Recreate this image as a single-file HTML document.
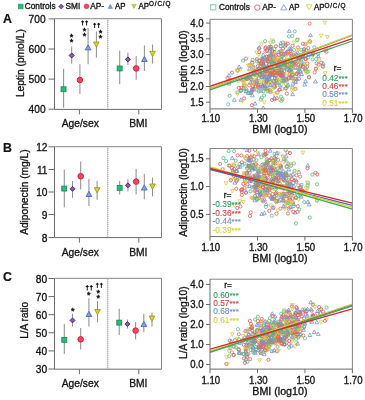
<!DOCTYPE html>
<html><head><meta charset="utf-8"><style>
html,body{margin:0;padding:0;background:#fff;width:365px;height:400px;overflow:hidden}
svg{display:block;filter:blur(0.5px)}
</style></head><body>
<svg width="365" height="400" viewBox="0 0 365 400" font-family='"Liberation Sans", sans-serif'>
<rect width="365" height="400" fill="#fff"/>
<rect x="18.3" y="4.1" width="4.8" height="4.8" fill="#30b878" stroke="#109058" stroke-width="0.5"/>
<text transform="translate(24.70,8.90) scale(1.0,1.08)" font-size="8.3" text-anchor="start" fill="#151515" stroke="#151515" stroke-width="0.32" font-weight="normal">Controls</text>
<path d="M61.2,4.0L63.7,6.5L61.2,9.0L58.7,6.5Z" fill="#8a58b0" stroke="#4a1a6c" stroke-width="0.6"/>
<text transform="translate(65.50,8.90) scale(1.0,1.08)" font-size="8.3" text-anchor="start" fill="#151515" stroke="#151515" stroke-width="0.32" font-weight="normal">SMI</text>
<circle cx="86.5" cy="6.4" r="2.4" fill="#f44562" stroke="#d41a3a" stroke-width="0.5"/>
<text transform="translate(90.20,8.90) scale(1.0,1.08)" font-size="8.3" text-anchor="start" fill="#151515" stroke="#151515" stroke-width="0.32" font-weight="normal">AP-</text>
<path d="M110.3,4.4L112.5,8.4L108.1,8.4Z" fill="#82a0e2" stroke="#4c6cc0" stroke-width="0.5"/>
<text transform="translate(115.00,8.90) scale(1.0,1.08)" font-size="7.9" text-anchor="start" fill="#151515" stroke="#151515" stroke-width="0.32" font-weight="normal">AP</text>
<path d="M133.9,8.4L136.1,4.4L131.7,4.4Z" fill="#d2cf48" stroke="#a09c1c" stroke-width="0.5"/>
<text transform="translate(138.50,8.60) scale(1.0,1.08)" font-size="7.9" text-anchor="start" fill="#151515" stroke="#151515" stroke-width="0.32" font-weight="normal">AP<tspan font-size="6.4" dy="-2.0" letter-spacing="0.8">O/C/Q</tspan></text>
<rect x="210.6" y="4.7" width="5.2" height="5.2" fill="none" stroke="#8fcfa8" stroke-width="1.1"/>
<text transform="translate(219.00,9.80) scale(1.0,1.08)" font-size="8.3" text-anchor="start" fill="#151515" stroke="#151515" stroke-width="0.32" font-weight="normal">Controls</text>
<circle cx="257.3" cy="7.6" r="2.6" fill="none" stroke="#de8c8c" stroke-width="1.1"/>
<text transform="translate(262.20,9.80) scale(1.0,1.08)" font-size="8.3" text-anchor="start" fill="#151515" stroke="#151515" stroke-width="0.32" font-weight="normal">AP-</text>
<path d="M283.8,4.6L286.8,9.9L280.8,9.9Z" fill="none" stroke="#92a6dc" stroke-width="1.0"/>
<text transform="translate(289.00,9.80) scale(1.0,1.08)" font-size="7.9" text-anchor="start" fill="#151515" stroke="#151515" stroke-width="0.32" font-weight="normal">AP</text>
<path d="M309.2,9.9L312.0,4.8L306.4,4.8Z" fill="none" stroke="#dcd868" stroke-width="1.0"/>
<text transform="translate(314.00,9.80) scale(1.0,1.08)" font-size="7.9" text-anchor="start" fill="#151515" stroke="#151515" stroke-width="0.32" font-weight="normal">AP<tspan font-size="6.4" dy="-2.1" letter-spacing="0.7">O/C/Q</tspan></text>
<text transform="translate(3.00,22.60) scale(1.0,1.0)" font-size="12.3" text-anchor="start" fill="#111" stroke="#111" stroke-width="0.2" font-weight="bold">A</text>
<path d="M54.5,18.7H161.5V109.4" fill="none" stroke="#858585" stroke-width="1"/>
<path d="M54.5,18.7V109.4H161.5" fill="none" stroke="#6a6a6a" stroke-width="1"/>
<line x1="107.8" y1="19.7" x2="107.8" y2="108.4" stroke="#707070" stroke-width="1" stroke-dasharray="1.1,0.9"/>
<line x1="48.5" y1="18.9" x2="54.5" y2="18.9" stroke="#6a6a6a" stroke-width="1"/>
<text transform="translate(45.60,22.50) scale(1.0,1.08)" font-size="10.2" text-anchor="end" fill="#151515" stroke="#151515" stroke-width="0.32" font-weight="normal">700</text>
<line x1="48.5" y1="49.0" x2="54.5" y2="49.0" stroke="#6a6a6a" stroke-width="1"/>
<text transform="translate(45.60,52.60) scale(1.0,1.08)" font-size="10.2" text-anchor="end" fill="#151515" stroke="#151515" stroke-width="0.32" font-weight="normal">600</text>
<line x1="48.5" y1="79.1" x2="54.5" y2="79.1" stroke="#6a6a6a" stroke-width="1"/>
<text transform="translate(45.60,82.70) scale(1.0,1.08)" font-size="10.2" text-anchor="end" fill="#151515" stroke="#151515" stroke-width="0.32" font-weight="normal">500</text>
<line x1="48.5" y1="109.2" x2="54.5" y2="109.2" stroke="#6a6a6a" stroke-width="1"/>
<text transform="translate(45.60,112.80) scale(1.0,1.08)" font-size="10.2" text-anchor="end" fill="#151515" stroke="#151515" stroke-width="0.32" font-weight="normal">400</text>
<line x1="79.4" y1="109.4" x2="79.4" y2="114.4" stroke="#6a6a6a" stroke-width="1"/>
<line x1="138.8" y1="109.4" x2="138.8" y2="114.4" stroke="#6a6a6a" stroke-width="1"/>
<text transform="translate(80.30,127.20) scale(1.0,1.08)" font-size="10.3" text-anchor="middle" fill="#151515" stroke="#151515" stroke-width="0.32" font-weight="normal">Age/sex</text>
<text transform="translate(138.30,127.20) scale(1.0,1.08)" font-size="10.3" text-anchor="middle" fill="#151515" stroke="#151515" stroke-width="0.32" font-weight="normal">BMI</text>
<text transform="translate(23.80,63.10) rotate(-90)" font-size="10.2" text-anchor="middle" fill="#151515" stroke="#151515" stroke-width="0.32">Leptin (pmol/L)</text>
<line x1="63.6" y1="68.8" x2="63.6" y2="107.8" stroke="#909090" stroke-width="1.05"/>
<line x1="71.7" y1="46.5" x2="71.7" y2="63.8" stroke="#909090" stroke-width="1.05"/>
<line x1="79.9" y1="64.3" x2="79.9" y2="94.0" stroke="#909090" stroke-width="1.05"/>
<line x1="88.1" y1="28.0" x2="88.1" y2="64.3" stroke="#909090" stroke-width="1.05"/>
<line x1="96.4" y1="31.4" x2="96.4" y2="57.6" stroke="#909090" stroke-width="1.05"/>
<line x1="119.7" y1="50.8" x2="119.7" y2="84.3" stroke="#909090" stroke-width="1.05"/>
<line x1="127.9" y1="52.8" x2="127.9" y2="65.1" stroke="#909090" stroke-width="1.05"/>
<line x1="136.2" y1="56.0" x2="136.2" y2="79.7" stroke="#909090" stroke-width="1.05"/>
<line x1="144.4" y1="45.4" x2="144.4" y2="70.9" stroke="#909090" stroke-width="1.05"/>
<line x1="152.6" y1="44.6" x2="152.6" y2="63.5" stroke="#909090" stroke-width="1.05"/>
<rect x="61.1" y="86.8" width="4.9" height="4.9" fill="#30b878" stroke="#109058" stroke-width="0.9"/>
<path d="M71.7,53.0L74.2,55.5L71.7,58.0L69.2,55.5Z" fill="#8a58b0" stroke="#4a1a6c" stroke-width="0.9"/>
<circle cx="79.9" cy="80.0" r="2.8" fill="#f44562" stroke="#d41a3a" stroke-width="0.9"/>
<path d="M88.1,44.8L90.9,49.9L85.2,49.9Z" fill="#82a0e2" stroke="#4c6cc0" stroke-width="0.9"/>
<path d="M96.4,47.1L99.2,42.0L93.6,42.0Z" fill="#d2cf48" stroke="#a09c1c" stroke-width="0.9"/>
<rect x="117.2" y="66.0" width="4.9" height="4.9" fill="#30b878" stroke="#109058" stroke-width="0.9"/>
<path d="M127.9,56.9L130.4,59.4L127.9,61.9L125.4,59.4Z" fill="#8a58b0" stroke="#4a1a6c" stroke-width="0.9"/>
<circle cx="136.2" cy="68.4" r="2.8" fill="#f44562" stroke="#d41a3a" stroke-width="0.9"/>
<path d="M144.4,56.4L147.2,61.5L141.6,61.5Z" fill="#82a0e2" stroke="#4c6cc0" stroke-width="0.9"/>
<path d="M152.6,56.5L155.4,51.3L149.8,51.3Z" fill="#d2cf48" stroke="#a09c1c" stroke-width="0.9"/>
<text transform="translate(71.60,40.10) scale(1.0,1.0)" font-size="9.0" text-anchor="middle" fill="#111" stroke="#111" stroke-width="0.45" font-weight="normal">*</text>
<text transform="translate(71.60,44.70) scale(1.0,1.0)" font-size="9.0" text-anchor="middle" fill="#111" stroke="#111" stroke-width="0.45" font-weight="normal">*</text>
<path d="M82.10,20.40h1v5.2h-1z M81.15,21.25h2.9v0.95h-2.9z" fill="#1a1a1a"/>
<circle cx="82.60" cy="21.60" r="0.85" fill="#1a1a1a"/>
<path d="M86.10,20.40h1v5.2h-1z M85.15,21.25h2.9v0.95h-2.9z" fill="#1a1a1a"/>
<circle cx="86.60" cy="21.60" r="0.85" fill="#1a1a1a"/>
<text transform="translate(84.40,34.40) scale(1.0,1.0)" font-size="9.0" text-anchor="middle" fill="#111" stroke="#111" stroke-width="0.45" font-weight="normal">*</text>
<text transform="translate(84.40,38.90) scale(1.0,1.0)" font-size="9.0" text-anchor="middle" fill="#111" stroke="#111" stroke-width="0.45" font-weight="normal">*</text>
<path d="M94.15,22.90h1v5.2h-1z M93.20,23.75h2.9v0.95h-2.9z" fill="#1a1a1a"/>
<circle cx="94.65" cy="24.10" r="0.85" fill="#1a1a1a"/>
<path d="M98.15,22.90h1v5.2h-1z M97.20,23.75h2.9v0.95h-2.9z" fill="#1a1a1a"/>
<circle cx="98.65" cy="24.10" r="0.85" fill="#1a1a1a"/>
<text transform="translate(100.40,36.20) scale(1.0,1.0)" font-size="9.0" text-anchor="middle" fill="#111" stroke="#111" stroke-width="0.45" font-weight="normal">*</text>
<text transform="translate(100.40,40.50) scale(1.0,1.0)" font-size="9.0" text-anchor="middle" fill="#111" stroke="#111" stroke-width="0.45" font-weight="normal">*</text>
<text transform="translate(3.00,151.50) scale(1.0,1.0)" font-size="12.3" text-anchor="start" fill="#111" stroke="#111" stroke-width="0.2" font-weight="bold">B</text>
<path d="M54.5,146.7H161.5V237.6" fill="none" stroke="#858585" stroke-width="1"/>
<path d="M54.5,146.7V237.6H161.5" fill="none" stroke="#6a6a6a" stroke-width="1"/>
<line x1="107.8" y1="147.7" x2="107.8" y2="236.6" stroke="#707070" stroke-width="1" stroke-dasharray="1.1,0.9"/>
<line x1="48.5" y1="146.8" x2="54.5" y2="146.8" stroke="#6a6a6a" stroke-width="1"/>
<text transform="translate(47.50,151.10) scale(1.0,1.08)" font-size="10.2" text-anchor="end" fill="#151515" stroke="#151515" stroke-width="0.32" font-weight="normal">12</text>
<line x1="48.5" y1="169.5" x2="54.5" y2="169.5" stroke="#6a6a6a" stroke-width="1"/>
<text transform="translate(47.50,173.80) scale(1.0,1.08)" font-size="10.2" text-anchor="end" fill="#151515" stroke="#151515" stroke-width="0.32" font-weight="normal">11</text>
<line x1="48.5" y1="192.0" x2="54.5" y2="192.0" stroke="#6a6a6a" stroke-width="1"/>
<text transform="translate(47.50,196.30) scale(1.0,1.08)" font-size="10.2" text-anchor="end" fill="#151515" stroke="#151515" stroke-width="0.32" font-weight="normal">10</text>
<line x1="48.5" y1="214.6" x2="54.5" y2="214.6" stroke="#6a6a6a" stroke-width="1"/>
<text transform="translate(47.50,218.90) scale(1.0,1.08)" font-size="10.2" text-anchor="end" fill="#151515" stroke="#151515" stroke-width="0.32" font-weight="normal">9</text>
<line x1="48.5" y1="237.5" x2="54.5" y2="237.5" stroke="#6a6a6a" stroke-width="1"/>
<text transform="translate(47.50,241.80) scale(1.0,1.08)" font-size="10.2" text-anchor="end" fill="#151515" stroke="#151515" stroke-width="0.32" font-weight="normal">8</text>
<line x1="79.4" y1="237.6" x2="79.4" y2="242.6" stroke="#6a6a6a" stroke-width="1"/>
<line x1="138.8" y1="237.6" x2="138.8" y2="242.6" stroke="#6a6a6a" stroke-width="1"/>
<text transform="translate(80.30,255.60) scale(1.0,1.08)" font-size="10.3" text-anchor="middle" fill="#151515" stroke="#151515" stroke-width="0.32" font-weight="normal">Age/sex</text>
<text transform="translate(138.30,255.60) scale(1.0,1.08)" font-size="10.3" text-anchor="middle" fill="#151515" stroke="#151515" stroke-width="0.32" font-weight="normal">BMI</text>
<text transform="translate(28.20,192.10) rotate(-90)" font-size="10.2" text-anchor="middle" fill="#151515" stroke="#151515" stroke-width="0.32">Adiponectin (mg/L)</text>
<line x1="64.3" y1="169.6" x2="64.3" y2="207.2" stroke="#909090" stroke-width="1.05"/>
<line x1="72.5" y1="181.0" x2="72.5" y2="197.8" stroke="#909090" stroke-width="1.05"/>
<line x1="80.7" y1="161.4" x2="80.7" y2="189.6" stroke="#909090" stroke-width="1.05"/>
<line x1="88.9" y1="179.1" x2="88.9" y2="206.0" stroke="#909090" stroke-width="1.05"/>
<line x1="97.1" y1="181.0" x2="97.1" y2="199.8" stroke="#909090" stroke-width="1.05"/>
<line x1="119.7" y1="180.9" x2="119.7" y2="194.4" stroke="#909090" stroke-width="1.05"/>
<line x1="127.9" y1="179.3" x2="127.9" y2="191.4" stroke="#909090" stroke-width="1.05"/>
<line x1="136.1" y1="168.9" x2="136.1" y2="194.4" stroke="#909090" stroke-width="1.05"/>
<line x1="144.3" y1="173.8" x2="144.3" y2="199.3" stroke="#909090" stroke-width="1.05"/>
<line x1="152.5" y1="177.6" x2="152.5" y2="196.4" stroke="#909090" stroke-width="1.05"/>
<rect x="61.8" y="186.1" width="4.9" height="4.9" fill="#30b878" stroke="#109058" stroke-width="0.9"/>
<path d="M72.5,186.3L75.0,188.8L72.5,191.3L70.0,188.8Z" fill="#8a58b0" stroke="#4a1a6c" stroke-width="0.9"/>
<circle cx="80.7" cy="176.2" r="2.8" fill="#f44562" stroke="#d41a3a" stroke-width="0.9"/>
<path d="M88.9,191.3L91.8,196.5L86.1,196.5Z" fill="#82a0e2" stroke="#4c6cc0" stroke-width="0.9"/>
<path d="M97.1,192.8L99.9,187.7L94.2,187.7Z" fill="#d2cf48" stroke="#a09c1c" stroke-width="0.9"/>
<rect x="117.2" y="185.4" width="4.9" height="4.9" fill="#30b878" stroke="#109058" stroke-width="0.9"/>
<path d="M127.9,182.8L130.4,185.3L127.9,187.8L125.4,185.3Z" fill="#8a58b0" stroke="#4a1a6c" stroke-width="0.9"/>
<circle cx="136.1" cy="181.6" r="2.8" fill="#f44562" stroke="#d41a3a" stroke-width="0.9"/>
<path d="M144.3,184.8L147.2,190.0L141.5,190.0Z" fill="#82a0e2" stroke="#4c6cc0" stroke-width="0.9"/>
<path d="M152.5,189.2L155.3,184.0L149.7,184.0Z" fill="#d2cf48" stroke="#a09c1c" stroke-width="0.9"/>
<text transform="translate(3.00,280.80) scale(1.0,1.0)" font-size="12.3" text-anchor="start" fill="#111" stroke="#111" stroke-width="0.2" font-weight="bold">C</text>
<path d="M54.5,278.3H161.5V369.2" fill="none" stroke="#858585" stroke-width="1"/>
<path d="M54.5,278.3V369.2H161.5" fill="none" stroke="#6a6a6a" stroke-width="1"/>
<line x1="107.8" y1="279.3" x2="107.8" y2="368.2" stroke="#707070" stroke-width="1" stroke-dasharray="1.1,0.9"/>
<line x1="48.5" y1="278.5" x2="54.5" y2="278.5" stroke="#6a6a6a" stroke-width="1"/>
<text transform="translate(47.10,282.60) scale(1.0,1.08)" font-size="10.2" text-anchor="end" fill="#151515" stroke="#151515" stroke-width="0.32" font-weight="normal">80</text>
<line x1="48.5" y1="296.6" x2="54.5" y2="296.6" stroke="#6a6a6a" stroke-width="1"/>
<text transform="translate(47.10,300.70) scale(1.0,1.08)" font-size="10.2" text-anchor="end" fill="#151515" stroke="#151515" stroke-width="0.32" font-weight="normal">70</text>
<line x1="48.5" y1="314.7" x2="54.5" y2="314.7" stroke="#6a6a6a" stroke-width="1"/>
<text transform="translate(47.10,318.80) scale(1.0,1.08)" font-size="10.2" text-anchor="end" fill="#151515" stroke="#151515" stroke-width="0.32" font-weight="normal">60</text>
<line x1="48.5" y1="332.8" x2="54.5" y2="332.8" stroke="#6a6a6a" stroke-width="1"/>
<text transform="translate(47.10,336.90) scale(1.0,1.08)" font-size="10.2" text-anchor="end" fill="#151515" stroke="#151515" stroke-width="0.32" font-weight="normal">50</text>
<line x1="48.5" y1="350.9" x2="54.5" y2="350.9" stroke="#6a6a6a" stroke-width="1"/>
<text transform="translate(47.10,355.00) scale(1.0,1.08)" font-size="10.2" text-anchor="end" fill="#151515" stroke="#151515" stroke-width="0.32" font-weight="normal">40</text>
<line x1="48.5" y1="369.0" x2="54.5" y2="369.0" stroke="#6a6a6a" stroke-width="1"/>
<text transform="translate(47.10,373.10) scale(1.0,1.08)" font-size="10.2" text-anchor="end" fill="#151515" stroke="#151515" stroke-width="0.32" font-weight="normal">30</text>
<line x1="79.4" y1="369.2" x2="79.4" y2="374.2" stroke="#6a6a6a" stroke-width="1"/>
<line x1="138.8" y1="369.2" x2="138.8" y2="374.2" stroke="#6a6a6a" stroke-width="1"/>
<text transform="translate(80.30,387.20) scale(1.0,1.08)" font-size="10.3" text-anchor="middle" fill="#151515" stroke="#151515" stroke-width="0.32" font-weight="normal">Age/sex</text>
<text transform="translate(138.30,387.20) scale(1.0,1.08)" font-size="10.3" text-anchor="middle" fill="#151515" stroke="#151515" stroke-width="0.32" font-weight="normal">BMI</text>
<text transform="translate(28.00,320.30) rotate(-90)" font-size="10.1" text-anchor="middle" fill="#151515" stroke="#151515" stroke-width="0.32">L/A ratio</text>
<line x1="64.3" y1="324.0" x2="64.3" y2="354.1" stroke="#909090" stroke-width="1.05"/>
<line x1="72.5" y1="313.6" x2="72.5" y2="326.4" stroke="#909090" stroke-width="1.05"/>
<line x1="80.7" y1="328.1" x2="80.7" y2="349.5" stroke="#909090" stroke-width="1.05"/>
<line x1="88.9" y1="298.3" x2="88.9" y2="326.4" stroke="#909090" stroke-width="1.05"/>
<line x1="97.5" y1="301.2" x2="97.5" y2="322.3" stroke="#909090" stroke-width="1.05"/>
<line x1="119.2" y1="308.8" x2="119.2" y2="335.1" stroke="#909090" stroke-width="1.05"/>
<line x1="127.4" y1="319.5" x2="127.4" y2="328.5" stroke="#909090" stroke-width="1.05"/>
<line x1="135.6" y1="321.9" x2="135.6" y2="339.5" stroke="#909090" stroke-width="1.05"/>
<line x1="143.8" y1="313.7" x2="143.8" y2="332.3" stroke="#909090" stroke-width="1.05"/>
<line x1="152.0" y1="312.6" x2="152.0" y2="326.4" stroke="#909090" stroke-width="1.05"/>
<rect x="61.8" y="337.4" width="4.9" height="4.9" fill="#30b878" stroke="#109058" stroke-width="0.9"/>
<path d="M72.5,317.9L75.0,320.4L72.5,322.9L70.0,320.4Z" fill="#8a58b0" stroke="#4a1a6c" stroke-width="0.9"/>
<circle cx="80.7" cy="339.3" r="2.8" fill="#f44562" stroke="#d41a3a" stroke-width="0.9"/>
<path d="M88.9,311.3L91.8,316.5L86.1,316.5Z" fill="#82a0e2" stroke="#4c6cc0" stroke-width="0.9"/>
<path d="M97.5,314.7L100.3,309.5L94.7,309.5Z" fill="#d2cf48" stroke="#a09c1c" stroke-width="0.9"/>
<rect x="116.8" y="320.2" width="4.9" height="4.9" fill="#30b878" stroke="#109058" stroke-width="0.9"/>
<path d="M127.4,321.6L129.9,324.1L127.4,326.6L124.9,324.1Z" fill="#8a58b0" stroke="#4a1a6c" stroke-width="0.9"/>
<circle cx="135.6" cy="330.6" r="2.8" fill="#f44562" stroke="#d41a3a" stroke-width="0.9"/>
<path d="M143.8,321.4L146.7,326.6L141.0,326.6Z" fill="#82a0e2" stroke="#4c6cc0" stroke-width="0.9"/>
<path d="M152.0,321.2L154.8,316.1L149.2,316.1Z" fill="#d2cf48" stroke="#a09c1c" stroke-width="0.9"/>
<text transform="translate(72.70,313.60) scale(1.0,1.0)" font-size="9.0" text-anchor="middle" fill="#111" stroke="#111" stroke-width="0.45" font-weight="normal">*</text>
<path d="M86.75,285.20h1v5.2h-1z M85.80,286.05h2.9v0.95h-2.9z" fill="#1a1a1a"/>
<circle cx="87.25" cy="286.40" r="0.85" fill="#1a1a1a"/>
<path d="M90.75,285.20h1v5.2h-1z M89.80,286.05h2.9v0.95h-2.9z" fill="#1a1a1a"/>
<circle cx="91.25" cy="286.40" r="0.85" fill="#1a1a1a"/>
<text transform="translate(88.70,298.40) scale(1.0,1.0)" font-size="9.0" text-anchor="middle" fill="#111" stroke="#111" stroke-width="0.45" font-weight="normal">*</text>
<path d="M96.85,282.80h1v5.2h-1z M95.90,283.65h2.9v0.95h-2.9z" fill="#1a1a1a"/>
<circle cx="97.35" cy="284.00" r="0.85" fill="#1a1a1a"/>
<path d="M100.85,282.80h1v5.2h-1z M99.90,283.65h2.9v0.95h-2.9z" fill="#1a1a1a"/>
<circle cx="101.35" cy="284.00" r="0.85" fill="#1a1a1a"/>
<text transform="translate(98.20,296.00) scale(1.0,1.0)" font-size="9.0" text-anchor="middle" fill="#111" stroke="#111" stroke-width="0.45" font-weight="normal">*</text>
<text transform="translate(98.20,300.60) scale(1.0,1.0)" font-size="9.0" text-anchor="middle" fill="#111" stroke="#111" stroke-width="0.45" font-weight="normal">*</text>
<clipPath id="clip19"><rect x="210.0" y="19.3" width="142.39999999999998" height="89.60000000000001"/></clipPath>
<g clip-path="url(#clip19)">
<circle cx="268.0" cy="67.6" r="1.6" fill="none" stroke="#e2605c" stroke-width="0.8"/>
<rect x="289.9" y="53.7" width="2.9" height="2.9" rx="0.9" fill="none" stroke="#5cb883" stroke-width="0.8"/>
<path d="M273.6,76.7L275.5,73.3L271.7,73.3Z" fill="none" stroke="#d9c94e" stroke-width="0.8"/>
<path d="M274.1,56.2L276.0,59.7L272.2,59.7Z" fill="none" stroke="#7890d4" stroke-width="0.8"/>
<path d="M271.6,72.7L273.5,69.3L269.7,69.3Z" fill="none" stroke="#d9c94e" stroke-width="0.8"/>
<path d="M269.9,75.7L271.8,72.3L268.0,72.3Z" fill="none" stroke="#d9c94e" stroke-width="0.8"/>
<circle cx="265.3" cy="48.3" r="1.6" fill="none" stroke="#e2605c" stroke-width="0.8"/>
<circle cx="258.2" cy="86.3" r="1.6" fill="none" stroke="#e2605c" stroke-width="0.8"/>
<rect x="290.9" y="74.2" width="2.9" height="2.9" rx="0.9" fill="none" stroke="#5cb883" stroke-width="0.8"/>
<rect x="285.1" y="79.0" width="2.9" height="2.9" rx="0.9" fill="none" stroke="#5cb883" stroke-width="0.8"/>
<path d="M289.4,72.3L291.3,75.7L287.5,75.7Z" fill="none" stroke="#7890d4" stroke-width="0.8"/>
<path d="M303.6,53.1L305.5,49.7L301.7,49.7Z" fill="none" stroke="#d9c94e" stroke-width="0.8"/>
<path d="M291.4,68.5L293.3,65.0L289.5,65.0Z" fill="none" stroke="#d9c94e" stroke-width="0.8"/>
<path d="M292.5,58.2L294.4,54.8L290.6,54.8Z" fill="none" stroke="#d9c94e" stroke-width="0.8"/>
<path d="M290.9,73.4L292.8,76.8L289.0,76.8Z" fill="none" stroke="#7890d4" stroke-width="0.8"/>
<circle cx="269.2" cy="77.0" r="1.6" fill="none" stroke="#e2605c" stroke-width="0.8"/>
<path d="M259.3,65.6L261.2,62.2L257.4,62.2Z" fill="none" stroke="#d9c94e" stroke-width="0.8"/>
<path d="M264.9,76.4L266.8,73.0L263.0,73.0Z" fill="none" stroke="#d9c94e" stroke-width="0.8"/>
<circle cx="296.7" cy="57.6" r="1.6" fill="none" stroke="#e2605c" stroke-width="0.8"/>
<circle cx="269.1" cy="76.2" r="1.6" fill="none" stroke="#e2605c" stroke-width="0.8"/>
<path d="M238.4,83.0L240.3,79.6L236.5,79.6Z" fill="none" stroke="#d9c94e" stroke-width="0.8"/>
<path d="M282.2,68.9L284.1,65.5L280.3,65.5Z" fill="none" stroke="#d9c94e" stroke-width="0.8"/>
<circle cx="264.7" cy="85.8" r="1.6" fill="none" stroke="#e2605c" stroke-width="0.8"/>
<rect x="260.0" y="75.7" width="2.9" height="2.9" rx="0.9" fill="none" stroke="#5cb883" stroke-width="0.8"/>
<circle cx="276.2" cy="82.8" r="1.6" fill="none" stroke="#e2605c" stroke-width="0.8"/>
<path d="M263.2,106.0L265.1,109.4L261.3,109.4Z" fill="none" stroke="#7890d4" stroke-width="0.8"/>
<rect x="268.0" y="77.5" width="2.9" height="2.9" rx="0.9" fill="none" stroke="#5cb883" stroke-width="0.8"/>
<path d="M297.7,50.5L299.6,53.9L295.8,53.9Z" fill="none" stroke="#7890d4" stroke-width="0.8"/>
<path d="M280.8,60.1L282.7,56.7L278.9,56.7Z" fill="none" stroke="#d9c94e" stroke-width="0.8"/>
<rect x="281.6" y="41.1" width="2.9" height="2.9" rx="0.9" fill="none" stroke="#5cb883" stroke-width="0.8"/>
<circle cx="265.9" cy="88.7" r="1.6" fill="none" stroke="#e2605c" stroke-width="0.8"/>
<circle cx="274.7" cy="99.2" r="1.6" fill="none" stroke="#e2605c" stroke-width="0.8"/>
<path d="M267.7,63.9L269.6,67.3L265.8,67.3Z" fill="none" stroke="#7890d4" stroke-width="0.8"/>
<circle cx="257.0" cy="59.2" r="1.6" fill="none" stroke="#e2605c" stroke-width="0.8"/>
<circle cx="275.8" cy="46.2" r="1.6" fill="none" stroke="#e2605c" stroke-width="0.8"/>
<rect x="290.8" y="34.5" width="2.9" height="2.9" rx="0.9" fill="none" stroke="#5cb883" stroke-width="0.8"/>
<rect x="316.7" y="52.5" width="2.9" height="2.9" rx="0.9" fill="none" stroke="#5cb883" stroke-width="0.8"/>
<rect x="307.6" y="76.2" width="2.9" height="2.9" rx="0.9" fill="none" stroke="#5cb883" stroke-width="0.8"/>
<circle cx="260.9" cy="68.9" r="1.6" fill="none" stroke="#e2605c" stroke-width="0.8"/>
<path d="M264.9,75.4L266.8,78.8L263.0,78.8Z" fill="none" stroke="#7890d4" stroke-width="0.8"/>
<circle cx="287.9" cy="51.8" r="1.6" fill="none" stroke="#e2605c" stroke-width="0.8"/>
<circle cx="262.6" cy="59.6" r="1.6" fill="none" stroke="#e2605c" stroke-width="0.8"/>
<rect x="292.6" y="48.6" width="2.9" height="2.9" rx="0.9" fill="none" stroke="#5cb883" stroke-width="0.8"/>
<circle cx="276.0" cy="71.5" r="1.6" fill="none" stroke="#e2605c" stroke-width="0.8"/>
<circle cx="273.2" cy="55.5" r="1.6" fill="none" stroke="#e2605c" stroke-width="0.8"/>
<circle cx="266.4" cy="69.4" r="1.6" fill="none" stroke="#e2605c" stroke-width="0.8"/>
<rect x="259.9" y="83.1" width="2.9" height="2.9" rx="0.9" fill="none" stroke="#5cb883" stroke-width="0.8"/>
<path d="M279.0,58.1L280.9,61.5L277.1,61.5Z" fill="none" stroke="#7890d4" stroke-width="0.8"/>
<path d="M276.5,76.2L278.4,79.6L274.6,79.6Z" fill="none" stroke="#7890d4" stroke-width="0.8"/>
<path d="M296.1,69.6L298.0,66.2L294.2,66.2Z" fill="none" stroke="#d9c94e" stroke-width="0.8"/>
<circle cx="305.7" cy="69.3" r="1.6" fill="none" stroke="#e2605c" stroke-width="0.8"/>
<path d="M262.7,58.3L264.6,61.7L260.8,61.7Z" fill="none" stroke="#7890d4" stroke-width="0.8"/>
<circle cx="232.0" cy="72.6" r="1.6" fill="none" stroke="#e2605c" stroke-width="0.8"/>
<rect x="273.5" y="76.3" width="2.9" height="2.9" rx="0.9" fill="none" stroke="#5cb883" stroke-width="0.8"/>
<path d="M234.3,97.9L236.2,101.3L232.4,101.3Z" fill="none" stroke="#7890d4" stroke-width="0.8"/>
<circle cx="253.2" cy="66.7" r="1.6" fill="none" stroke="#e2605c" stroke-width="0.8"/>
<rect x="255.5" y="74.4" width="2.9" height="2.9" rx="0.9" fill="none" stroke="#5cb883" stroke-width="0.8"/>
<path d="M273.1,65.9L275.0,62.5L271.2,62.5Z" fill="none" stroke="#d9c94e" stroke-width="0.8"/>
<path d="M269.4,75.3L271.3,71.9L267.5,71.9Z" fill="none" stroke="#d9c94e" stroke-width="0.8"/>
<circle cx="296.0" cy="54.2" r="1.6" fill="none" stroke="#e2605c" stroke-width="0.8"/>
<circle cx="321.3" cy="62.7" r="1.6" fill="none" stroke="#e2605c" stroke-width="0.8"/>
<rect x="291.0" y="86.1" width="2.9" height="2.9" rx="0.9" fill="none" stroke="#5cb883" stroke-width="0.8"/>
<path d="M274.0,69.4L275.9,72.8L272.1,72.8Z" fill="none" stroke="#7890d4" stroke-width="0.8"/>
<circle cx="291.7" cy="62.3" r="1.6" fill="none" stroke="#e2605c" stroke-width="0.8"/>
<circle cx="275.0" cy="86.9" r="1.6" fill="none" stroke="#e2605c" stroke-width="0.8"/>
<circle cx="273.7" cy="81.1" r="1.6" fill="none" stroke="#e2605c" stroke-width="0.8"/>
<rect x="304.4" y="69.0" width="2.9" height="2.9" rx="0.9" fill="none" stroke="#5cb883" stroke-width="0.8"/>
<circle cx="253.8" cy="89.1" r="1.6" fill="none" stroke="#e2605c" stroke-width="0.8"/>
<circle cx="283.0" cy="48.7" r="1.6" fill="none" stroke="#e2605c" stroke-width="0.8"/>
<circle cx="268.9" cy="59.2" r="1.6" fill="none" stroke="#e2605c" stroke-width="0.8"/>
<circle cx="266.1" cy="80.9" r="1.6" fill="none" stroke="#e2605c" stroke-width="0.8"/>
<rect x="302.6" y="48.2" width="2.9" height="2.9" rx="0.9" fill="none" stroke="#5cb883" stroke-width="0.8"/>
<rect x="287.5" y="34.9" width="2.9" height="2.9" rx="0.9" fill="none" stroke="#5cb883" stroke-width="0.8"/>
<circle cx="270.5" cy="75.5" r="1.6" fill="none" stroke="#e2605c" stroke-width="0.8"/>
<path d="M246.4,86.7L248.3,90.1L244.5,90.1Z" fill="none" stroke="#7890d4" stroke-width="0.8"/>
<circle cx="295.4" cy="88.9" r="1.6" fill="none" stroke="#e2605c" stroke-width="0.8"/>
<path d="M304.8,82.6L306.7,86.0L302.9,86.0Z" fill="none" stroke="#7890d4" stroke-width="0.8"/>
<rect x="288.0" y="65.2" width="2.9" height="2.9" rx="0.9" fill="none" stroke="#5cb883" stroke-width="0.8"/>
<circle cx="250.4" cy="75.0" r="1.6" fill="none" stroke="#e2605c" stroke-width="0.8"/>
<path d="M295.1,65.6L297.0,62.2L293.2,62.2Z" fill="none" stroke="#d9c94e" stroke-width="0.8"/>
<path d="M241.8,77.6L243.7,81.0L239.9,81.0Z" fill="none" stroke="#7890d4" stroke-width="0.8"/>
<path d="M263.5,79.6L265.4,83.0L261.6,83.0Z" fill="none" stroke="#7890d4" stroke-width="0.8"/>
<path d="M277.6,70.5L279.5,67.1L275.7,67.1Z" fill="none" stroke="#d9c94e" stroke-width="0.8"/>
<rect x="250.8" y="78.2" width="2.9" height="2.9" rx="0.9" fill="none" stroke="#5cb883" stroke-width="0.8"/>
<rect x="271.3" y="69.8" width="2.9" height="2.9" rx="0.9" fill="none" stroke="#5cb883" stroke-width="0.8"/>
<circle cx="277.3" cy="60.2" r="1.6" fill="none" stroke="#e2605c" stroke-width="0.8"/>
<path d="M283.2,77.7L285.1,74.3L281.3,74.3Z" fill="none" stroke="#d9c94e" stroke-width="0.8"/>
<rect x="302.2" y="61.9" width="2.9" height="2.9" rx="0.9" fill="none" stroke="#5cb883" stroke-width="0.8"/>
<rect x="282.3" y="78.8" width="2.9" height="2.9" rx="0.9" fill="none" stroke="#5cb883" stroke-width="0.8"/>
<path d="M291.4,76.0L293.3,79.4L289.5,79.4Z" fill="none" stroke="#7890d4" stroke-width="0.8"/>
<path d="M285.7,76.5L287.6,79.9L283.8,79.9Z" fill="none" stroke="#7890d4" stroke-width="0.8"/>
<path d="M294.8,62.5L296.7,65.9L292.9,65.9Z" fill="none" stroke="#7890d4" stroke-width="0.8"/>
<path d="M248.2,90.9L250.1,94.4L246.3,94.4Z" fill="none" stroke="#7890d4" stroke-width="0.8"/>
<circle cx="271.1" cy="55.6" r="1.6" fill="none" stroke="#e2605c" stroke-width="0.8"/>
<path d="M266.5,79.8L268.4,83.2L264.6,83.2Z" fill="none" stroke="#7890d4" stroke-width="0.8"/>
<path d="M281.2,57.0L283.1,60.4L279.3,60.4Z" fill="none" stroke="#7890d4" stroke-width="0.8"/>
<circle cx="304.1" cy="49.2" r="1.6" fill="none" stroke="#e2605c" stroke-width="0.8"/>
<path d="M278.0,62.9L279.9,66.4L276.1,66.4Z" fill="none" stroke="#7890d4" stroke-width="0.8"/>
<circle cx="292.3" cy="75.4" r="1.6" fill="none" stroke="#e2605c" stroke-width="0.8"/>
<circle cx="273.5" cy="70.0" r="1.6" fill="none" stroke="#e2605c" stroke-width="0.8"/>
<path d="M277.7,75.7L279.6,72.3L275.8,72.3Z" fill="none" stroke="#d9c94e" stroke-width="0.8"/>
<path d="M251.8,87.7L253.7,91.2L249.9,91.2Z" fill="none" stroke="#7890d4" stroke-width="0.8"/>
<path d="M293.0,71.9L294.9,75.3L291.1,75.3Z" fill="none" stroke="#7890d4" stroke-width="0.8"/>
<path d="M237.5,72.4L239.4,69.0L235.6,69.0Z" fill="none" stroke="#d9c94e" stroke-width="0.8"/>
<path d="M262.8,84.5L264.7,87.9L260.9,87.9Z" fill="none" stroke="#7890d4" stroke-width="0.8"/>
<circle cx="257.8" cy="66.2" r="1.6" fill="none" stroke="#e2605c" stroke-width="0.8"/>
<rect x="255.4" y="81.9" width="2.9" height="2.9" rx="0.9" fill="none" stroke="#5cb883" stroke-width="0.8"/>
<rect x="263.5" y="85.0" width="2.9" height="2.9" rx="0.9" fill="none" stroke="#5cb883" stroke-width="0.8"/>
<circle cx="254.4" cy="71.7" r="1.6" fill="none" stroke="#e2605c" stroke-width="0.8"/>
<circle cx="285.2" cy="61.6" r="1.6" fill="none" stroke="#e2605c" stroke-width="0.8"/>
<path d="M292.2,56.3L294.1,52.9L290.3,52.9Z" fill="none" stroke="#d9c94e" stroke-width="0.8"/>
<path d="M285.4,86.2L287.3,82.7L283.5,82.7Z" fill="none" stroke="#d9c94e" stroke-width="0.8"/>
<path d="M252.3,93.4L254.2,96.8L250.4,96.8Z" fill="none" stroke="#7890d4" stroke-width="0.8"/>
<path d="M293.0,65.9L294.9,69.3L291.1,69.3Z" fill="none" stroke="#7890d4" stroke-width="0.8"/>
<rect x="259.1" y="62.0" width="2.9" height="2.9" rx="0.9" fill="none" stroke="#5cb883" stroke-width="0.8"/>
<rect x="259.3" y="98.1" width="2.9" height="2.9" rx="0.9" fill="none" stroke="#5cb883" stroke-width="0.8"/>
<rect x="298.1" y="61.0" width="2.9" height="2.9" rx="0.9" fill="none" stroke="#5cb883" stroke-width="0.8"/>
<circle cx="265.8" cy="47.2" r="1.6" fill="none" stroke="#e2605c" stroke-width="0.8"/>
<rect x="295.0" y="72.7" width="2.9" height="2.9" rx="0.9" fill="none" stroke="#5cb883" stroke-width="0.8"/>
<rect x="279.7" y="68.6" width="2.9" height="2.9" rx="0.9" fill="none" stroke="#5cb883" stroke-width="0.8"/>
<circle cx="256.2" cy="80.6" r="1.6" fill="none" stroke="#e2605c" stroke-width="0.8"/>
<path d="M283.0,78.6L284.9,82.0L281.1,82.0Z" fill="none" stroke="#7890d4" stroke-width="0.8"/>
<path d="M286.0,69.8L287.9,66.4L284.1,66.4Z" fill="none" stroke="#d9c94e" stroke-width="0.8"/>
<circle cx="294.8" cy="62.2" r="1.6" fill="none" stroke="#e2605c" stroke-width="0.8"/>
<path d="M269.5,48.8L271.4,52.2L267.6,52.2Z" fill="none" stroke="#7890d4" stroke-width="0.8"/>
<circle cx="260.7" cy="63.0" r="1.6" fill="none" stroke="#e2605c" stroke-width="0.8"/>
<path d="M267.2,91.8L269.1,88.3L265.3,88.3Z" fill="none" stroke="#d9c94e" stroke-width="0.8"/>
<path d="M245.2,87.8L247.1,84.3L243.3,84.3Z" fill="none" stroke="#d9c94e" stroke-width="0.8"/>
<rect x="251.8" y="66.5" width="2.9" height="2.9" rx="0.9" fill="none" stroke="#5cb883" stroke-width="0.8"/>
<rect x="260.3" y="76.0" width="2.9" height="2.9" rx="0.9" fill="none" stroke="#5cb883" stroke-width="0.8"/>
<path d="M278.5,64.1L280.4,67.6L276.6,67.6Z" fill="none" stroke="#7890d4" stroke-width="0.8"/>
<path d="M270.5,72.2L272.4,75.6L268.6,75.6Z" fill="none" stroke="#7890d4" stroke-width="0.8"/>
<circle cx="295.6" cy="81.4" r="1.6" fill="none" stroke="#e2605c" stroke-width="0.8"/>
<path d="M263.2,52.9L265.1,56.3L261.3,56.3Z" fill="none" stroke="#7890d4" stroke-width="0.8"/>
<path d="M267.3,59.3L269.2,55.9L265.4,55.9Z" fill="none" stroke="#d9c94e" stroke-width="0.8"/>
<circle cx="258.9" cy="68.2" r="1.6" fill="none" stroke="#e2605c" stroke-width="0.8"/>
<path d="M289.5,46.5L291.4,49.9L287.6,49.9Z" fill="none" stroke="#7890d4" stroke-width="0.8"/>
<path d="M294.1,44.6L296.0,41.1L292.2,41.1Z" fill="none" stroke="#d9c94e" stroke-width="0.8"/>
<path d="M244.6,83.1L246.5,79.7L242.7,79.7Z" fill="none" stroke="#d9c94e" stroke-width="0.8"/>
<circle cx="251.2" cy="92.4" r="1.6" fill="none" stroke="#e2605c" stroke-width="0.8"/>
<circle cx="268.1" cy="70.2" r="1.6" fill="none" stroke="#e2605c" stroke-width="0.8"/>
<circle cx="269.1" cy="67.6" r="1.6" fill="none" stroke="#e2605c" stroke-width="0.8"/>
<circle cx="302.4" cy="56.9" r="1.6" fill="none" stroke="#e2605c" stroke-width="0.8"/>
<circle cx="278.7" cy="66.6" r="1.6" fill="none" stroke="#e2605c" stroke-width="0.8"/>
<rect x="275.6" y="80.3" width="2.9" height="2.9" rx="0.9" fill="none" stroke="#5cb883" stroke-width="0.8"/>
<rect x="267.7" y="54.9" width="2.9" height="2.9" rx="0.9" fill="none" stroke="#5cb883" stroke-width="0.8"/>
<rect x="226.7" y="102.9" width="2.9" height="2.9" rx="0.9" fill="none" stroke="#5cb883" stroke-width="0.8"/>
<circle cx="281.3" cy="69.8" r="1.6" fill="none" stroke="#e2605c" stroke-width="0.8"/>
<rect x="282.6" y="56.5" width="2.9" height="2.9" rx="0.9" fill="none" stroke="#5cb883" stroke-width="0.8"/>
<path d="M285.5,63.3L287.4,59.9L283.6,59.9Z" fill="none" stroke="#d9c94e" stroke-width="0.8"/>
<rect x="264.9" y="79.0" width="2.9" height="2.9" rx="0.9" fill="none" stroke="#5cb883" stroke-width="0.8"/>
<path d="M248.2,75.4L250.1,78.8L246.3,78.8Z" fill="none" stroke="#7890d4" stroke-width="0.8"/>
<circle cx="277.4" cy="70.6" r="1.6" fill="none" stroke="#e2605c" stroke-width="0.8"/>
<path d="M285.1,45.1L287.0,41.7L283.2,41.7Z" fill="none" stroke="#d9c94e" stroke-width="0.8"/>
<path d="M292.3,70.0L294.2,73.4L290.4,73.4Z" fill="none" stroke="#7890d4" stroke-width="0.8"/>
<circle cx="280.4" cy="51.2" r="1.6" fill="none" stroke="#e2605c" stroke-width="0.8"/>
<rect x="249.0" y="75.6" width="2.9" height="2.9" rx="0.9" fill="none" stroke="#5cb883" stroke-width="0.8"/>
<rect x="297.4" y="58.5" width="2.9" height="2.9" rx="0.9" fill="none" stroke="#5cb883" stroke-width="0.8"/>
<path d="M289.1,68.2L291.0,71.6L287.2,71.6Z" fill="none" stroke="#7890d4" stroke-width="0.8"/>
<path d="M284.9,63.2L286.8,66.6L283.0,66.6Z" fill="none" stroke="#7890d4" stroke-width="0.8"/>
<path d="M292.7,92.3L294.6,95.7L290.8,95.7Z" fill="none" stroke="#7890d4" stroke-width="0.8"/>
<circle cx="261.5" cy="75.1" r="1.6" fill="none" stroke="#e2605c" stroke-width="0.8"/>
<circle cx="295.1" cy="79.1" r="1.6" fill="none" stroke="#e2605c" stroke-width="0.8"/>
<path d="M303.1,62.5L305.0,65.9L301.2,65.9Z" fill="none" stroke="#7890d4" stroke-width="0.8"/>
<path d="M288.1,59.2L290.0,55.8L286.2,55.8Z" fill="none" stroke="#d9c94e" stroke-width="0.8"/>
<path d="M274.1,75.9L276.0,72.5L272.2,72.5Z" fill="none" stroke="#d9c94e" stroke-width="0.8"/>
<circle cx="274.4" cy="68.6" r="1.6" fill="none" stroke="#e2605c" stroke-width="0.8"/>
<circle cx="325.0" cy="50.5" r="1.6" fill="none" stroke="#e2605c" stroke-width="0.8"/>
<rect x="252.8" y="107.8" width="2.9" height="2.9" rx="0.9" fill="none" stroke="#5cb883" stroke-width="0.8"/>
<rect x="306.2" y="70.4" width="2.9" height="2.9" rx="0.9" fill="none" stroke="#5cb883" stroke-width="0.8"/>
<rect x="290.6" y="64.2" width="2.9" height="2.9" rx="0.9" fill="none" stroke="#5cb883" stroke-width="0.8"/>
<path d="M284.9,43.7L286.8,47.1L283.0,47.1Z" fill="none" stroke="#7890d4" stroke-width="0.8"/>
<circle cx="288.4" cy="78.8" r="1.6" fill="none" stroke="#e2605c" stroke-width="0.8"/>
<path d="M273.7,76.3L275.6,72.9L271.8,72.9Z" fill="none" stroke="#d9c94e" stroke-width="0.8"/>
<rect x="266.1" y="80.4" width="2.9" height="2.9" rx="0.9" fill="none" stroke="#5cb883" stroke-width="0.8"/>
<path d="M265.6,68.6L267.5,65.2L263.7,65.2Z" fill="none" stroke="#d9c94e" stroke-width="0.8"/>
<path d="M279.2,62.2L281.1,58.8L277.3,58.8Z" fill="none" stroke="#d9c94e" stroke-width="0.8"/>
<path d="M280.9,41.1L282.8,44.5L279.0,44.5Z" fill="none" stroke="#7890d4" stroke-width="0.8"/>
<path d="M277.3,81.1L279.2,84.6L275.4,84.6Z" fill="none" stroke="#7890d4" stroke-width="0.8"/>
<circle cx="307.3" cy="63.6" r="1.6" fill="none" stroke="#e2605c" stroke-width="0.8"/>
<path d="M240.5,71.2L242.4,67.8L238.6,67.8Z" fill="none" stroke="#d9c94e" stroke-width="0.8"/>
<path d="M282.6,69.8L284.5,73.2L280.7,73.2Z" fill="none" stroke="#7890d4" stroke-width="0.8"/>
<path d="M271.0,72.1L272.9,68.7L269.1,68.7Z" fill="none" stroke="#d9c94e" stroke-width="0.8"/>
<path d="M281.9,76.2L283.8,72.8L280.0,72.8Z" fill="none" stroke="#d9c94e" stroke-width="0.8"/>
<rect x="239.8" y="89.0" width="2.9" height="2.9" rx="0.9" fill="none" stroke="#5cb883" stroke-width="0.8"/>
<circle cx="305.2" cy="44.5" r="1.6" fill="none" stroke="#e2605c" stroke-width="0.8"/>
<rect x="275.4" y="69.6" width="2.9" height="2.9" rx="0.9" fill="none" stroke="#5cb883" stroke-width="0.8"/>
<circle cx="249.4" cy="65.3" r="1.6" fill="none" stroke="#e2605c" stroke-width="0.8"/>
<rect x="261.7" y="62.9" width="2.9" height="2.9" rx="0.9" fill="none" stroke="#5cb883" stroke-width="0.8"/>
<circle cx="255.0" cy="86.5" r="1.6" fill="none" stroke="#e2605c" stroke-width="0.8"/>
<rect x="327.0" y="46.3" width="2.9" height="2.9" rx="0.9" fill="none" stroke="#5cb883" stroke-width="0.8"/>
<circle cx="267.9" cy="61.6" r="1.6" fill="none" stroke="#e2605c" stroke-width="0.8"/>
<path d="M262.7,83.4L264.6,86.8L260.8,86.8Z" fill="none" stroke="#7890d4" stroke-width="0.8"/>
<circle cx="293.3" cy="66.5" r="1.6" fill="none" stroke="#e2605c" stroke-width="0.8"/>
<path d="M298.4,71.9L300.3,68.5L296.5,68.5Z" fill="none" stroke="#d9c94e" stroke-width="0.8"/>
<path d="M284.3,77.5L286.2,74.1L282.4,74.1Z" fill="none" stroke="#d9c94e" stroke-width="0.8"/>
<rect x="308.4" y="40.6" width="2.9" height="2.9" rx="0.9" fill="none" stroke="#5cb883" stroke-width="0.8"/>
<path d="M303.0,51.5L304.9,54.9L301.1,54.9Z" fill="none" stroke="#7890d4" stroke-width="0.8"/>
<path d="M293.6,91.6L295.5,88.2L291.7,88.2Z" fill="none" stroke="#d9c94e" stroke-width="0.8"/>
<circle cx="263.0" cy="63.8" r="1.6" fill="none" stroke="#e2605c" stroke-width="0.8"/>
<circle cx="314.7" cy="72.3" r="1.6" fill="none" stroke="#e2605c" stroke-width="0.8"/>
<rect x="279.3" y="44.7" width="2.9" height="2.9" rx="0.9" fill="none" stroke="#5cb883" stroke-width="0.8"/>
<circle cx="290.3" cy="50.4" r="1.6" fill="none" stroke="#e2605c" stroke-width="0.8"/>
<path d="M290.9,47.1L292.8,50.5L289.0,50.5Z" fill="none" stroke="#7890d4" stroke-width="0.8"/>
<rect x="246.1" y="77.5" width="2.9" height="2.9" rx="0.9" fill="none" stroke="#5cb883" stroke-width="0.8"/>
<circle cx="255.9" cy="74.8" r="1.6" fill="none" stroke="#e2605c" stroke-width="0.8"/>
<circle cx="250.9" cy="78.9" r="1.6" fill="none" stroke="#e2605c" stroke-width="0.8"/>
<path d="M306.1,46.0L308.0,42.6L304.2,42.6Z" fill="none" stroke="#d9c94e" stroke-width="0.8"/>
<path d="M274.1,95.8L276.0,92.4L272.2,92.4Z" fill="none" stroke="#d9c94e" stroke-width="0.8"/>
<path d="M292.7,55.5L294.6,58.9L290.8,58.9Z" fill="none" stroke="#7890d4" stroke-width="0.8"/>
<path d="M282.7,70.9L284.6,74.4L280.8,74.4Z" fill="none" stroke="#7890d4" stroke-width="0.8"/>
<rect x="269.7" y="45.5" width="2.9" height="2.9" rx="0.9" fill="none" stroke="#5cb883" stroke-width="0.8"/>
<rect x="262.7" y="94.0" width="2.9" height="2.9" rx="0.9" fill="none" stroke="#5cb883" stroke-width="0.8"/>
<path d="M256.9,77.5L258.8,74.0L255.0,74.0Z" fill="none" stroke="#d9c94e" stroke-width="0.8"/>
<path d="M291.0,71.9L292.9,68.5L289.1,68.5Z" fill="none" stroke="#d9c94e" stroke-width="0.8"/>
<path d="M267.5,86.0L269.4,89.4L265.6,89.4Z" fill="none" stroke="#7890d4" stroke-width="0.8"/>
<path d="M316.2,70.5L318.1,67.1L314.3,67.1Z" fill="none" stroke="#d9c94e" stroke-width="0.8"/>
<path d="M263.8,82.4L265.7,78.9L261.9,78.9Z" fill="none" stroke="#d9c94e" stroke-width="0.8"/>
<circle cx="307.2" cy="66.8" r="1.6" fill="none" stroke="#e2605c" stroke-width="0.8"/>
<rect x="277.9" y="72.5" width="2.9" height="2.9" rx="0.9" fill="none" stroke="#5cb883" stroke-width="0.8"/>
<circle cx="282.4" cy="99.2" r="1.6" fill="none" stroke="#e2605c" stroke-width="0.8"/>
<path d="M268.2,55.1L270.1,58.6L266.3,58.6Z" fill="none" stroke="#7890d4" stroke-width="0.8"/>
<circle cx="302.9" cy="43.8" r="1.6" fill="none" stroke="#e2605c" stroke-width="0.8"/>
<path d="M279.9,87.3L281.8,90.7L278.0,90.7Z" fill="none" stroke="#7890d4" stroke-width="0.8"/>
<rect x="251.2" y="58.4" width="2.9" height="2.9" rx="0.9" fill="none" stroke="#5cb883" stroke-width="0.8"/>
<path d="M272.6,72.8L274.5,76.2L270.7,76.2Z" fill="none" stroke="#7890d4" stroke-width="0.8"/>
<path d="M302.8,54.2L304.7,57.6L300.9,57.6Z" fill="none" stroke="#7890d4" stroke-width="0.8"/>
<path d="M315.4,79.5L317.3,83.0L313.5,83.0Z" fill="none" stroke="#7890d4" stroke-width="0.8"/>
<path d="M286.8,59.3L288.7,62.7L284.9,62.7Z" fill="none" stroke="#7890d4" stroke-width="0.8"/>
<rect x="286.3" y="64.8" width="2.9" height="2.9" rx="0.9" fill="none" stroke="#5cb883" stroke-width="0.8"/>
<circle cx="266.6" cy="85.8" r="1.6" fill="none" stroke="#e2605c" stroke-width="0.8"/>
<circle cx="275.5" cy="59.7" r="1.6" fill="none" stroke="#e2605c" stroke-width="0.8"/>
<circle cx="286.2" cy="79.3" r="1.6" fill="none" stroke="#e2605c" stroke-width="0.8"/>
<circle cx="246.1" cy="58.6" r="1.6" fill="none" stroke="#e2605c" stroke-width="0.8"/>
<circle cx="292.5" cy="45.8" r="1.6" fill="none" stroke="#e2605c" stroke-width="0.8"/>
<path d="M279.9,81.2L281.8,77.8L278.0,77.8Z" fill="none" stroke="#d9c94e" stroke-width="0.8"/>
<rect x="311.1" y="57.9" width="2.9" height="2.9" rx="0.9" fill="none" stroke="#5cb883" stroke-width="0.8"/>
<path d="M301.0,57.7L302.9,61.1L299.1,61.1Z" fill="none" stroke="#7890d4" stroke-width="0.8"/>
<path d="M283.5,51.9L285.4,55.3L281.6,55.3Z" fill="none" stroke="#7890d4" stroke-width="0.8"/>
<circle cx="309.7" cy="23.6" r="1.6" fill="none" stroke="#e2605c" stroke-width="0.8"/>
<circle cx="318.5" cy="64.5" r="1.6" fill="none" stroke="#e2605c" stroke-width="0.8"/>
<rect x="270.9" y="50.9" width="2.9" height="2.9" rx="0.9" fill="none" stroke="#5cb883" stroke-width="0.8"/>
<path d="M239.2,65.1L241.1,68.5L237.3,68.5Z" fill="none" stroke="#7890d4" stroke-width="0.8"/>
<rect x="288.5" y="61.1" width="2.9" height="2.9" rx="0.9" fill="none" stroke="#5cb883" stroke-width="0.8"/>
<path d="M240.8,97.8L242.7,101.2L238.9,101.2Z" fill="none" stroke="#7890d4" stroke-width="0.8"/>
<circle cx="272.2" cy="62.6" r="1.6" fill="none" stroke="#e2605c" stroke-width="0.8"/>
<path d="M264.4,75.2L266.3,71.7L262.5,71.7Z" fill="none" stroke="#d9c94e" stroke-width="0.8"/>
<circle cx="270.5" cy="46.8" r="1.6" fill="none" stroke="#e2605c" stroke-width="0.8"/>
<rect x="305.8" y="70.4" width="2.9" height="2.9" rx="0.9" fill="none" stroke="#5cb883" stroke-width="0.8"/>
<path d="M292.8,81.7L294.7,85.1L290.9,85.1Z" fill="none" stroke="#7890d4" stroke-width="0.8"/>
<circle cx="308.9" cy="76.8" r="1.6" fill="none" stroke="#e2605c" stroke-width="0.8"/>
<circle cx="289.5" cy="67.5" r="1.6" fill="none" stroke="#e2605c" stroke-width="0.8"/>
<path d="M298.7,72.6L300.6,76.0L296.8,76.0Z" fill="none" stroke="#7890d4" stroke-width="0.8"/>
<rect x="241.7" y="59.1" width="2.9" height="2.9" rx="0.9" fill="none" stroke="#5cb883" stroke-width="0.8"/>
<circle cx="284.1" cy="71.3" r="1.6" fill="none" stroke="#e2605c" stroke-width="0.8"/>
<path d="M290.0,67.7L291.9,71.2L288.1,71.2Z" fill="none" stroke="#7890d4" stroke-width="0.8"/>
<circle cx="243.9" cy="85.5" r="1.6" fill="none" stroke="#e2605c" stroke-width="0.8"/>
<path d="M250.4,80.4L252.3,83.8L248.5,83.8Z" fill="none" stroke="#7890d4" stroke-width="0.8"/>
<path d="M267.8,81.0L269.7,77.6L265.9,77.6Z" fill="none" stroke="#d9c94e" stroke-width="0.8"/>
<path d="M297.7,41.5L299.6,38.1L295.8,38.1Z" fill="none" stroke="#d9c94e" stroke-width="0.8"/>
<rect x="244.9" y="89.7" width="2.9" height="2.9" rx="0.9" fill="none" stroke="#5cb883" stroke-width="0.8"/>
<path d="M274.4,60.3L276.3,56.9L272.5,56.9Z" fill="none" stroke="#d9c94e" stroke-width="0.8"/>
<rect x="297.5" y="63.0" width="2.9" height="2.9" rx="0.9" fill="none" stroke="#5cb883" stroke-width="0.8"/>
<path d="M249.6,66.8L251.5,70.2L247.7,70.2Z" fill="none" stroke="#7890d4" stroke-width="0.8"/>
<path d="M271.6,80.5L273.5,83.9L269.7,83.9Z" fill="none" stroke="#7890d4" stroke-width="0.8"/>
<path d="M274.9,55.9L276.8,59.3L273.0,59.3Z" fill="none" stroke="#7890d4" stroke-width="0.8"/>
<circle cx="299.5" cy="71.4" r="1.6" fill="none" stroke="#e2605c" stroke-width="0.8"/>
<circle cx="302.1" cy="56.1" r="1.6" fill="none" stroke="#e2605c" stroke-width="0.8"/>
<rect x="268.1" y="55.2" width="2.9" height="2.9" rx="0.9" fill="none" stroke="#5cb883" stroke-width="0.8"/>
<rect x="283.0" y="66.4" width="2.9" height="2.9" rx="0.9" fill="none" stroke="#5cb883" stroke-width="0.8"/>
<rect x="287.9" y="64.9" width="2.9" height="2.9" rx="0.9" fill="none" stroke="#5cb883" stroke-width="0.8"/>
<path d="M269.7,76.7L271.6,80.1L267.8,80.1Z" fill="none" stroke="#7890d4" stroke-width="0.8"/>
<path d="M245.1,93.1L247.0,89.7L243.2,89.7Z" fill="none" stroke="#d9c94e" stroke-width="0.8"/>
<path d="M270.7,70.2L272.6,66.8L268.8,66.8Z" fill="none" stroke="#d9c94e" stroke-width="0.8"/>
<path d="M283.5,74.9L285.4,78.3L281.6,78.3Z" fill="none" stroke="#7890d4" stroke-width="0.8"/>
<circle cx="297.9" cy="57.5" r="1.6" fill="none" stroke="#e2605c" stroke-width="0.8"/>
<circle cx="277.4" cy="92.6" r="1.6" fill="none" stroke="#e2605c" stroke-width="0.8"/>
<circle cx="243.3" cy="79.6" r="1.6" fill="none" stroke="#e2605c" stroke-width="0.8"/>
<path d="M277.5,60.7L279.4,57.2L275.6,57.2Z" fill="none" stroke="#d9c94e" stroke-width="0.8"/>
<circle cx="281.3" cy="51.3" r="1.6" fill="none" stroke="#e2605c" stroke-width="0.8"/>
<rect x="268.8" y="80.4" width="2.9" height="2.9" rx="0.9" fill="none" stroke="#5cb883" stroke-width="0.8"/>
<circle cx="309.8" cy="41.2" r="1.6" fill="none" stroke="#e2605c" stroke-width="0.8"/>
<rect x="273.5" y="64.6" width="2.9" height="2.9" rx="0.9" fill="none" stroke="#5cb883" stroke-width="0.8"/>
<rect x="273.1" y="50.8" width="2.9" height="2.9" rx="0.9" fill="none" stroke="#5cb883" stroke-width="0.8"/>
<rect x="260.3" y="96.2" width="2.9" height="2.9" rx="0.9" fill="none" stroke="#5cb883" stroke-width="0.8"/>
<circle cx="286.8" cy="93.7" r="1.6" fill="none" stroke="#e2605c" stroke-width="0.8"/>
<path d="M291.8,91.7L293.7,88.2L289.9,88.2Z" fill="none" stroke="#d9c94e" stroke-width="0.8"/>
<rect x="266.1" y="89.9" width="2.9" height="2.9" rx="0.9" fill="none" stroke="#5cb883" stroke-width="0.8"/>
<circle cx="262.0" cy="76.9" r="1.6" fill="none" stroke="#e2605c" stroke-width="0.8"/>
<path d="M261.1,88.7L263.0,92.1L259.2,92.1Z" fill="none" stroke="#7890d4" stroke-width="0.8"/>
<rect x="250.3" y="61.3" width="2.9" height="2.9" rx="0.9" fill="none" stroke="#5cb883" stroke-width="0.8"/>
<path d="M262.6,65.3L264.5,61.9L260.7,61.9Z" fill="none" stroke="#d9c94e" stroke-width="0.8"/>
<circle cx="246.6" cy="78.9" r="1.6" fill="none" stroke="#e2605c" stroke-width="0.8"/>
<circle cx="249.2" cy="85.4" r="1.6" fill="none" stroke="#e2605c" stroke-width="0.8"/>
<rect x="261.3" y="64.2" width="2.9" height="2.9" rx="0.9" fill="none" stroke="#5cb883" stroke-width="0.8"/>
<circle cx="265.9" cy="76.5" r="1.6" fill="none" stroke="#e2605c" stroke-width="0.8"/>
<rect x="299.9" y="48.3" width="2.9" height="2.9" rx="0.9" fill="none" stroke="#5cb883" stroke-width="0.8"/>
<path d="M270.2,59.7L272.1,56.2L268.3,56.2Z" fill="none" stroke="#d9c94e" stroke-width="0.8"/>
<rect x="272.8" y="55.3" width="2.9" height="2.9" rx="0.9" fill="none" stroke="#5cb883" stroke-width="0.8"/>
<path d="M293.8,68.3L295.7,64.9L291.9,64.9Z" fill="none" stroke="#d9c94e" stroke-width="0.8"/>
<path d="M274.5,89.5L276.4,86.1L272.6,86.1Z" fill="none" stroke="#d9c94e" stroke-width="0.8"/>
<rect x="260.6" y="62.0" width="2.9" height="2.9" rx="0.9" fill="none" stroke="#5cb883" stroke-width="0.8"/>
<circle cx="270.5" cy="66.2" r="1.6" fill="none" stroke="#e2605c" stroke-width="0.8"/>
<path d="M274.0,54.0L275.9,50.6L272.1,50.6Z" fill="none" stroke="#d9c94e" stroke-width="0.8"/>
<path d="M286.3,65.4L288.2,68.8L284.4,68.8Z" fill="none" stroke="#7890d4" stroke-width="0.8"/>
<circle cx="267.0" cy="60.3" r="1.6" fill="none" stroke="#e2605c" stroke-width="0.8"/>
<path d="M263.6,77.0L265.5,73.6L261.7,73.6Z" fill="none" stroke="#d9c94e" stroke-width="0.8"/>
<path d="M306.2,67.7L308.1,64.2L304.3,64.2Z" fill="none" stroke="#d9c94e" stroke-width="0.8"/>
<path d="M293.4,82.7L295.3,79.2L291.5,79.2Z" fill="none" stroke="#d9c94e" stroke-width="0.8"/>
<path d="M323.2,61.5L325.1,64.9L321.3,64.9Z" fill="none" stroke="#7890d4" stroke-width="0.8"/>
<circle cx="290.3" cy="65.5" r="1.6" fill="none" stroke="#e2605c" stroke-width="0.8"/>
<rect x="273.0" y="47.6" width="2.9" height="2.9" rx="0.9" fill="none" stroke="#5cb883" stroke-width="0.8"/>
<path d="M277.2,59.4L279.1,56.0L275.3,56.0Z" fill="none" stroke="#d9c94e" stroke-width="0.8"/>
<path d="M279.0,85.7L280.9,82.3L277.1,82.3Z" fill="none" stroke="#d9c94e" stroke-width="0.8"/>
<path d="M273.8,63.4L275.7,60.0L271.9,60.0Z" fill="none" stroke="#d9c94e" stroke-width="0.8"/>
<path d="M321.2,37.5L323.1,34.1L319.3,34.1Z" fill="none" stroke="#d9c94e" stroke-width="0.8"/>
<rect x="321.8" y="65.4" width="2.9" height="2.9" rx="0.9" fill="none" stroke="#5cb883" stroke-width="0.8"/>
<path d="M297.5,65.9L299.4,69.3L295.6,69.3Z" fill="none" stroke="#7890d4" stroke-width="0.8"/>
<rect x="257.4" y="76.8" width="2.9" height="2.9" rx="0.9" fill="none" stroke="#5cb883" stroke-width="0.8"/>
<rect x="267.6" y="78.1" width="2.9" height="2.9" rx="0.9" fill="none" stroke="#5cb883" stroke-width="0.8"/>
<path d="M243.7,86.0L245.6,82.6L241.8,82.6Z" fill="none" stroke="#d9c94e" stroke-width="0.8"/>
<rect x="304.0" y="66.7" width="2.9" height="2.9" rx="0.9" fill="none" stroke="#5cb883" stroke-width="0.8"/>
<circle cx="279.9" cy="63.1" r="1.6" fill="none" stroke="#e2605c" stroke-width="0.8"/>
<rect x="300.6" y="68.3" width="2.9" height="2.9" rx="0.9" fill="none" stroke="#5cb883" stroke-width="0.8"/>
<path d="M289.3,29.0L291.2,32.4L287.4,32.4Z" fill="none" stroke="#7890d4" stroke-width="0.8"/>
<path d="M274.5,64.7L276.4,61.3L272.6,61.3Z" fill="none" stroke="#d9c94e" stroke-width="0.8"/>
<rect x="279.5" y="69.4" width="2.9" height="2.9" rx="0.9" fill="none" stroke="#5cb883" stroke-width="0.8"/>
<rect x="279.6" y="63.4" width="2.9" height="2.9" rx="0.9" fill="none" stroke="#5cb883" stroke-width="0.8"/>
<circle cx="252.5" cy="62.7" r="1.6" fill="none" stroke="#e2605c" stroke-width="0.8"/>
<circle cx="270.4" cy="92.0" r="1.6" fill="none" stroke="#e2605c" stroke-width="0.8"/>
<circle cx="272.2" cy="71.1" r="1.6" fill="none" stroke="#e2605c" stroke-width="0.8"/>
<circle cx="269.1" cy="64.3" r="1.6" fill="none" stroke="#e2605c" stroke-width="0.8"/>
<path d="M258.9,56.6L260.8,53.2L257.0,53.2Z" fill="none" stroke="#d9c94e" stroke-width="0.8"/>
<path d="M262.4,74.2L264.3,70.8L260.5,70.8Z" fill="none" stroke="#d9c94e" stroke-width="0.8"/>
<path d="M277.6,82.0L279.5,78.6L275.7,78.6Z" fill="none" stroke="#d9c94e" stroke-width="0.8"/>
<circle cx="278.9" cy="72.6" r="1.6" fill="none" stroke="#e2605c" stroke-width="0.8"/>
<circle cx="257.6" cy="72.8" r="1.6" fill="none" stroke="#e2605c" stroke-width="0.8"/>
<circle cx="227.5" cy="78.0" r="1.6" fill="none" stroke="#e2605c" stroke-width="0.8"/>
<path d="M270.1,46.8L272.0,50.3L268.2,50.3Z" fill="none" stroke="#7890d4" stroke-width="0.8"/>
<path d="M305.9,74.9L307.8,71.5L304.0,71.5Z" fill="none" stroke="#d9c94e" stroke-width="0.8"/>
<rect x="272.0" y="40.1" width="2.9" height="2.9" rx="0.9" fill="none" stroke="#5cb883" stroke-width="0.8"/>
<path d="M282.4,63.0L284.3,66.4L280.5,66.4Z" fill="none" stroke="#7890d4" stroke-width="0.8"/>
<rect x="279.2" y="44.8" width="2.9" height="2.9" rx="0.9" fill="none" stroke="#5cb883" stroke-width="0.8"/>
<circle cx="240.6" cy="90.8" r="1.6" fill="none" stroke="#e2605c" stroke-width="0.8"/>
<rect x="261.8" y="89.8" width="2.9" height="2.9" rx="0.9" fill="none" stroke="#5cb883" stroke-width="0.8"/>
<circle cx="285.8" cy="44.7" r="1.6" fill="none" stroke="#e2605c" stroke-width="0.8"/>
<rect x="259.9" y="57.6" width="2.9" height="2.9" rx="0.9" fill="none" stroke="#5cb883" stroke-width="0.8"/>
<rect x="286.1" y="84.7" width="2.9" height="2.9" rx="0.9" fill="none" stroke="#5cb883" stroke-width="0.8"/>
<path d="M308.6,52.1L310.5,55.5L306.7,55.5Z" fill="none" stroke="#7890d4" stroke-width="0.8"/>
<rect x="273.0" y="80.6" width="2.9" height="2.9" rx="0.9" fill="none" stroke="#5cb883" stroke-width="0.8"/>
<circle cx="241.5" cy="87.8" r="1.6" fill="none" stroke="#e2605c" stroke-width="0.8"/>
<path d="M294.7,76.6L296.6,73.2L292.8,73.2Z" fill="none" stroke="#d9c94e" stroke-width="0.8"/>
<path d="M264.3,104.3L266.2,100.9L262.4,100.9Z" fill="none" stroke="#d9c94e" stroke-width="0.8"/>
<path d="M272.2,42.3L274.1,38.9L270.3,38.9Z" fill="none" stroke="#d9c94e" stroke-width="0.8"/>
<path d="M310.5,33.2L312.4,36.6L308.6,36.6Z" fill="none" stroke="#7890d4" stroke-width="0.8"/>
<circle cx="284.4" cy="62.1" r="1.6" fill="none" stroke="#e2605c" stroke-width="0.8"/>
<path d="M268.6,88.4L270.5,85.0L266.7,85.0Z" fill="none" stroke="#d9c94e" stroke-width="0.8"/>
<circle cx="315.9" cy="68.8" r="1.6" fill="none" stroke="#e2605c" stroke-width="0.8"/>
<path d="M262.4,56.5L264.3,60.0L260.5,60.0Z" fill="none" stroke="#7890d4" stroke-width="0.8"/>
<rect x="295.4" y="54.0" width="2.9" height="2.9" rx="0.9" fill="none" stroke="#5cb883" stroke-width="0.8"/>
<circle cx="265.6" cy="71.4" r="1.6" fill="none" stroke="#e2605c" stroke-width="0.8"/>
<circle cx="276.9" cy="64.7" r="1.6" fill="none" stroke="#e2605c" stroke-width="0.8"/>
<rect x="251.1" y="80.9" width="2.9" height="2.9" rx="0.9" fill="none" stroke="#5cb883" stroke-width="0.8"/>
<path d="M312.1,52.6L314.0,56.0L310.2,56.0Z" fill="none" stroke="#7890d4" stroke-width="0.8"/>
<path d="M274.6,76.2L276.5,79.6L272.7,79.6Z" fill="none" stroke="#7890d4" stroke-width="0.8"/>
<rect x="295.8" y="38.5" width="2.9" height="2.9" rx="0.9" fill="none" stroke="#5cb883" stroke-width="0.8"/>
<circle cx="269.9" cy="90.4" r="1.6" fill="none" stroke="#e2605c" stroke-width="0.8"/>
<path d="M318.4,54.1L320.3,57.6L316.5,57.6Z" fill="none" stroke="#7890d4" stroke-width="0.8"/>
<rect x="280.2" y="79.5" width="2.9" height="2.9" rx="0.9" fill="none" stroke="#5cb883" stroke-width="0.8"/>
<rect x="247.8" y="91.7" width="2.9" height="2.9" rx="0.9" fill="none" stroke="#5cb883" stroke-width="0.8"/>
<rect x="261.2" y="73.6" width="2.9" height="2.9" rx="0.9" fill="none" stroke="#5cb883" stroke-width="0.8"/>
<path d="M261.3,46.4L263.2,43.0L259.4,43.0Z" fill="none" stroke="#d9c94e" stroke-width="0.8"/>
<rect x="279.7" y="95.4" width="2.9" height="2.9" rx="0.9" fill="none" stroke="#5cb883" stroke-width="0.8"/>
<rect x="277.5" y="68.9" width="2.9" height="2.9" rx="0.9" fill="none" stroke="#5cb883" stroke-width="0.8"/>
<circle cx="265.4" cy="51.4" r="1.6" fill="none" stroke="#e2605c" stroke-width="0.8"/>
<circle cx="237.6" cy="70.7" r="1.6" fill="none" stroke="#e2605c" stroke-width="0.8"/>
<path d="M268.3,72.8L270.2,76.2L266.4,76.2Z" fill="none" stroke="#7890d4" stroke-width="0.8"/>
<circle cx="265.3" cy="60.9" r="1.6" fill="none" stroke="#e2605c" stroke-width="0.8"/>
<path d="M244.9,90.2L246.8,86.7L243.0,86.7Z" fill="none" stroke="#d9c94e" stroke-width="0.8"/>
<circle cx="276.8" cy="98.2" r="1.6" fill="none" stroke="#e2605c" stroke-width="0.8"/>
<circle cx="270.9" cy="72.7" r="1.6" fill="none" stroke="#e2605c" stroke-width="0.8"/>
<rect x="277.2" y="62.5" width="2.9" height="2.9" rx="0.9" fill="none" stroke="#5cb883" stroke-width="0.8"/>
<path d="M282.0,53.4L283.9,50.0L280.1,50.0Z" fill="none" stroke="#d9c94e" stroke-width="0.8"/>
<circle cx="274.8" cy="75.1" r="1.6" fill="none" stroke="#e2605c" stroke-width="0.8"/>
<circle cx="272.9" cy="60.5" r="1.6" fill="none" stroke="#e2605c" stroke-width="0.8"/>
<circle cx="275.6" cy="55.8" r="1.6" fill="none" stroke="#e2605c" stroke-width="0.8"/>
<circle cx="312.9" cy="54.2" r="1.6" fill="none" stroke="#e2605c" stroke-width="0.8"/>
<path d="M287.5,76.6L289.4,73.1L285.6,73.1Z" fill="none" stroke="#d9c94e" stroke-width="0.8"/>
<circle cx="292.1" cy="74.6" r="1.6" fill="none" stroke="#e2605c" stroke-width="0.8"/>
<path d="M253.9,87.3L255.8,90.8L252.0,90.8Z" fill="none" stroke="#7890d4" stroke-width="0.8"/>
<circle cx="258.9" cy="48.3" r="1.6" fill="none" stroke="#e2605c" stroke-width="0.8"/>
<circle cx="281.5" cy="74.3" r="1.6" fill="none" stroke="#e2605c" stroke-width="0.8"/>
<circle cx="252.1" cy="89.1" r="1.6" fill="none" stroke="#e2605c" stroke-width="0.8"/>
<circle cx="244.1" cy="98.3" r="1.6" fill="none" stroke="#e2605c" stroke-width="0.8"/>
<circle cx="259.2" cy="52.1" r="1.6" fill="none" stroke="#e2605c" stroke-width="0.8"/>
<rect x="265.4" y="80.2" width="2.9" height="2.9" rx="0.9" fill="none" stroke="#5cb883" stroke-width="0.8"/>
<path d="M242.5,103.0L244.4,99.5L240.6,99.5Z" fill="none" stroke="#d9c94e" stroke-width="0.8"/>
<rect x="289.5" y="65.3" width="2.9" height="2.9" rx="0.9" fill="none" stroke="#5cb883" stroke-width="0.8"/>
<path d="M267.6,64.8L269.5,68.3L265.7,68.3Z" fill="none" stroke="#7890d4" stroke-width="0.8"/>
<path d="M271.8,62.3L273.7,58.8L269.9,58.8Z" fill="none" stroke="#d9c94e" stroke-width="0.8"/>
<path d="M246.1,89.4L248.0,92.8L244.2,92.8Z" fill="none" stroke="#7890d4" stroke-width="0.8"/>
<circle cx="326.4" cy="51.8" r="1.6" fill="none" stroke="#e2605c" stroke-width="0.8"/>
<rect x="247.2" y="74.8" width="2.9" height="2.9" rx="0.9" fill="none" stroke="#5cb883" stroke-width="0.8"/>
<path d="M251.0,67.5L252.9,64.1L249.1,64.1Z" fill="none" stroke="#d9c94e" stroke-width="0.8"/>
<circle cx="271.7" cy="68.3" r="1.6" fill="none" stroke="#e2605c" stroke-width="0.8"/>
<path d="M257.2,83.4L259.1,79.9L255.3,79.9Z" fill="none" stroke="#d9c94e" stroke-width="0.8"/>
<path d="M255.0,101.6L256.9,105.0L253.1,105.0Z" fill="none" stroke="#7890d4" stroke-width="0.8"/>
<path d="M251.4,88.7L253.3,92.1L249.5,92.1Z" fill="none" stroke="#7890d4" stroke-width="0.8"/>
<circle cx="285.4" cy="63.0" r="1.6" fill="none" stroke="#e2605c" stroke-width="0.8"/>
<rect x="240.0" y="88.9" width="2.9" height="2.9" rx="0.9" fill="none" stroke="#5cb883" stroke-width="0.8"/>
<circle cx="301.2" cy="65.7" r="1.6" fill="none" stroke="#e2605c" stroke-width="0.8"/>
<rect x="272.7" y="60.3" width="2.9" height="2.9" rx="0.9" fill="none" stroke="#5cb883" stroke-width="0.8"/>
<path d="M280.9,55.0L282.8,51.6L279.0,51.6Z" fill="none" stroke="#d9c94e" stroke-width="0.8"/>
<path d="M237.3,72.6L239.2,69.2L235.4,69.2Z" fill="none" stroke="#d9c94e" stroke-width="0.8"/>
<path d="M279.5,101.7L281.4,98.2L277.6,98.2Z" fill="none" stroke="#d9c94e" stroke-width="0.8"/>
<circle cx="301.1" cy="55.5" r="1.6" fill="none" stroke="#e2605c" stroke-width="0.8"/>
<circle cx="298.0" cy="47.5" r="1.6" fill="none" stroke="#e2605c" stroke-width="0.8"/>
<rect x="274.6" y="79.2" width="2.9" height="2.9" rx="0.9" fill="none" stroke="#5cb883" stroke-width="0.8"/>
<path d="M270.4,44.7L272.3,41.3L268.5,41.3Z" fill="none" stroke="#d9c94e" stroke-width="0.8"/>
<rect x="296.6" y="70.9" width="2.9" height="2.9" rx="0.9" fill="none" stroke="#5cb883" stroke-width="0.8"/>
<rect x="255.6" y="60.0" width="2.9" height="2.9" rx="0.9" fill="none" stroke="#5cb883" stroke-width="0.8"/>
<circle cx="308.3" cy="48.0" r="1.6" fill="none" stroke="#e2605c" stroke-width="0.8"/>
<path d="M263.7,68.9L265.6,65.5L261.8,65.5Z" fill="none" stroke="#d9c94e" stroke-width="0.8"/>
<circle cx="285.1" cy="53.7" r="1.6" fill="none" stroke="#e2605c" stroke-width="0.8"/>
<circle cx="262.4" cy="86.5" r="1.6" fill="none" stroke="#e2605c" stroke-width="0.8"/>
<path d="M270.0,85.9L271.9,82.4L268.1,82.4Z" fill="none" stroke="#d9c94e" stroke-width="0.8"/>
<circle cx="266.8" cy="50.8" r="1.6" fill="none" stroke="#e2605c" stroke-width="0.8"/>
<circle cx="293.7" cy="63.3" r="1.6" fill="none" stroke="#e2605c" stroke-width="0.8"/>
<rect x="273.1" y="85.3" width="2.9" height="2.9" rx="0.9" fill="none" stroke="#5cb883" stroke-width="0.8"/>
<path d="M282.8,90.8L284.7,87.4L280.9,87.4Z" fill="none" stroke="#d9c94e" stroke-width="0.8"/>
<circle cx="276.5" cy="75.2" r="1.6" fill="none" stroke="#e2605c" stroke-width="0.8"/>
<path d="M286.8,56.9L288.7,53.5L284.9,53.5Z" fill="none" stroke="#d9c94e" stroke-width="0.8"/>
<path d="M250.0,73.4L251.9,70.0L248.1,70.0Z" fill="none" stroke="#d9c94e" stroke-width="0.8"/>
<path d="M262.4,68.1L264.3,71.5L260.5,71.5Z" fill="none" stroke="#7890d4" stroke-width="0.8"/>
<path d="M252.3,70.8L254.2,74.2L250.4,74.2Z" fill="none" stroke="#7890d4" stroke-width="0.8"/>
<rect x="268.7" y="69.0" width="2.9" height="2.9" rx="0.9" fill="none" stroke="#5cb883" stroke-width="0.8"/>
<path d="M272.4,59.1L274.3,62.5L270.5,62.5Z" fill="none" stroke="#7890d4" stroke-width="0.8"/>
<path d="M276.8,95.1L278.7,91.7L274.9,91.7Z" fill="none" stroke="#d9c94e" stroke-width="0.8"/>
<path d="M288.8,64.4L290.7,61.0L286.9,61.0Z" fill="none" stroke="#d9c94e" stroke-width="0.8"/>
<path d="M275.1,60.6L277.0,57.2L273.2,57.2Z" fill="none" stroke="#d9c94e" stroke-width="0.8"/>
<path d="M288.2,82.9L290.1,86.4L286.3,86.4Z" fill="none" stroke="#7890d4" stroke-width="0.8"/>
<rect x="270.2" y="61.2" width="2.9" height="2.9" rx="0.9" fill="none" stroke="#5cb883" stroke-width="0.8"/>
<circle cx="266.9" cy="80.7" r="1.6" fill="none" stroke="#e2605c" stroke-width="0.8"/>
<path d="M309.7,44.0L311.6,40.6L307.8,40.6Z" fill="none" stroke="#d9c94e" stroke-width="0.8"/>
<rect x="280.5" y="55.5" width="2.9" height="2.9" rx="0.9" fill="none" stroke="#5cb883" stroke-width="0.8"/>
<path d="M263.7,75.0L265.6,78.4L261.8,78.4Z" fill="none" stroke="#7890d4" stroke-width="0.8"/>
<circle cx="279.9" cy="72.8" r="1.6" fill="none" stroke="#e2605c" stroke-width="0.8"/>
<circle cx="274.1" cy="85.8" r="1.6" fill="none" stroke="#e2605c" stroke-width="0.8"/>
<path d="M255.5,79.3L257.4,75.9L253.6,75.9Z" fill="none" stroke="#d9c94e" stroke-width="0.8"/>
<rect x="283.0" y="80.0" width="2.9" height="2.9" rx="0.9" fill="none" stroke="#5cb883" stroke-width="0.8"/>
<path d="M271.7,70.6L273.6,67.2L269.8,67.2Z" fill="none" stroke="#d9c94e" stroke-width="0.8"/>
<path d="M325.2,75.1L327.1,71.7L323.3,71.7Z" fill="none" stroke="#d9c94e" stroke-width="0.8"/>
<path d="M256.7,54.5L258.6,51.1L254.8,51.1Z" fill="none" stroke="#d9c94e" stroke-width="0.8"/>
<circle cx="291.2" cy="53.7" r="1.6" fill="none" stroke="#e2605c" stroke-width="0.8"/>
<circle cx="270.1" cy="57.9" r="1.6" fill="none" stroke="#e2605c" stroke-width="0.8"/>
<path d="M256.5,92.0L258.4,88.6L254.6,88.6Z" fill="none" stroke="#d9c94e" stroke-width="0.8"/>
<path d="M279.2,81.4L281.1,78.0L277.3,78.0Z" fill="none" stroke="#d9c94e" stroke-width="0.8"/>
<circle cx="278.9" cy="54.7" r="1.6" fill="none" stroke="#e2605c" stroke-width="0.8"/>
<rect x="279.1" y="74.1" width="2.9" height="2.9" rx="0.9" fill="none" stroke="#5cb883" stroke-width="0.8"/>
<circle cx="279.2" cy="89.8" r="1.6" fill="none" stroke="#e2605c" stroke-width="0.8"/>
<rect x="297.9" y="67.7" width="2.9" height="2.9" rx="0.9" fill="none" stroke="#5cb883" stroke-width="0.8"/>
<rect x="263.7" y="39.7" width="2.9" height="2.9" rx="0.9" fill="none" stroke="#5cb883" stroke-width="0.8"/>
<circle cx="258.4" cy="87.4" r="1.6" fill="none" stroke="#e2605c" stroke-width="0.8"/>
<path d="M271.1,52.5L273.0,55.9L269.2,55.9Z" fill="none" stroke="#7890d4" stroke-width="0.8"/>
<circle cx="281.3" cy="67.2" r="1.6" fill="none" stroke="#e2605c" stroke-width="0.8"/>
<circle cx="298.0" cy="56.8" r="1.6" fill="none" stroke="#e2605c" stroke-width="0.8"/>
<circle cx="255.7" cy="71.2" r="1.6" fill="none" stroke="#e2605c" stroke-width="0.8"/>
<circle cx="291.5" cy="56.3" r="1.6" fill="none" stroke="#e2605c" stroke-width="0.8"/>
<circle cx="263.1" cy="59.0" r="1.6" fill="none" stroke="#e2605c" stroke-width="0.8"/>
<rect x="284.9" y="86.4" width="2.9" height="2.9" rx="0.9" fill="none" stroke="#5cb883" stroke-width="0.8"/>
<path d="M308.5,73.4L310.4,70.0L306.6,70.0Z" fill="none" stroke="#d9c94e" stroke-width="0.8"/>
<circle cx="254.9" cy="82.5" r="1.6" fill="none" stroke="#e2605c" stroke-width="0.8"/>
<rect x="306.7" y="55.9" width="2.9" height="2.9" rx="0.9" fill="none" stroke="#5cb883" stroke-width="0.8"/>
<path d="M243.2,83.8L245.1,80.4L241.3,80.4Z" fill="none" stroke="#d9c94e" stroke-width="0.8"/>
<path d="M254.3,71.5L256.2,68.1L252.4,68.1Z" fill="none" stroke="#d9c94e" stroke-width="0.8"/>
<rect x="257.9" y="72.0" width="2.9" height="2.9" rx="0.9" fill="none" stroke="#5cb883" stroke-width="0.8"/>
<rect x="263.2" y="73.0" width="2.9" height="2.9" rx="0.9" fill="none" stroke="#5cb883" stroke-width="0.8"/>
<circle cx="280.9" cy="53.5" r="1.6" fill="none" stroke="#e2605c" stroke-width="0.8"/>
<path d="M259.4,45.5L261.3,48.9L257.5,48.9Z" fill="none" stroke="#7890d4" stroke-width="0.8"/>
<rect x="280.1" y="67.6" width="2.9" height="2.9" rx="0.9" fill="none" stroke="#5cb883" stroke-width="0.8"/>
<circle cx="298.9" cy="78.8" r="1.6" fill="none" stroke="#e2605c" stroke-width="0.8"/>
<path d="M295.5,54.1L297.4,57.5L293.6,57.5Z" fill="none" stroke="#7890d4" stroke-width="0.8"/>
<path d="M278.5,50.0L280.4,53.5L276.6,53.5Z" fill="none" stroke="#7890d4" stroke-width="0.8"/>
<rect x="312.8" y="45.8" width="2.9" height="2.9" rx="0.9" fill="none" stroke="#5cb883" stroke-width="0.8"/>
<circle cx="289.1" cy="70.8" r="1.6" fill="none" stroke="#e2605c" stroke-width="0.8"/>
<circle cx="272.0" cy="99.9" r="1.6" fill="none" stroke="#e2605c" stroke-width="0.8"/>
<path d="M281.2,63.4L283.1,66.8L279.3,66.8Z" fill="none" stroke="#7890d4" stroke-width="0.8"/>
<circle cx="313.5" cy="53.4" r="1.6" fill="none" stroke="#e2605c" stroke-width="0.8"/>
<path d="M292.4,76.0L294.3,72.5L290.5,72.5Z" fill="none" stroke="#d9c94e" stroke-width="0.8"/>
<path d="M281.1,60.5L283.0,63.9L279.2,63.9Z" fill="none" stroke="#7890d4" stroke-width="0.8"/>
<path d="M305.5,79.3L307.4,82.7L303.6,82.7Z" fill="none" stroke="#7890d4" stroke-width="0.8"/>
<rect x="263.6" y="58.0" width="2.9" height="2.9" rx="0.9" fill="none" stroke="#5cb883" stroke-width="0.8"/>
<circle cx="253.1" cy="86.0" r="1.6" fill="none" stroke="#e2605c" stroke-width="0.8"/>
<circle cx="260.1" cy="74.9" r="1.6" fill="none" stroke="#e2605c" stroke-width="0.8"/>
<circle cx="316.7" cy="63.3" r="1.6" fill="none" stroke="#e2605c" stroke-width="0.8"/>
<path d="M282.6,73.8L284.5,77.2L280.7,77.2Z" fill="none" stroke="#7890d4" stroke-width="0.8"/>
<path d="M229.0,73.4L230.9,76.9L227.1,76.9Z" fill="none" stroke="#7890d4" stroke-width="0.8"/>
<path d="M264.9,55.4L266.8,58.9L263.0,58.9Z" fill="none" stroke="#7890d4" stroke-width="0.8"/>
<rect x="289.7" y="69.1" width="2.9" height="2.9" rx="0.9" fill="none" stroke="#5cb883" stroke-width="0.8"/>
<circle cx="266.9" cy="71.2" r="1.6" fill="none" stroke="#e2605c" stroke-width="0.8"/>
<circle cx="259.0" cy="60.7" r="1.6" fill="none" stroke="#e2605c" stroke-width="0.8"/>
<circle cx="300.4" cy="66.0" r="1.6" fill="none" stroke="#e2605c" stroke-width="0.8"/>
<path d="M265.2,65.7L267.1,69.1L263.3,69.1Z" fill="none" stroke="#7890d4" stroke-width="0.8"/>
<rect x="281.0" y="75.0" width="2.9" height="2.9" rx="0.9" fill="none" stroke="#5cb883" stroke-width="0.8"/>
<path d="M327.4,39.0L329.3,35.6L325.5,35.6Z" fill="none" stroke="#d9c94e" stroke-width="0.8"/>
<path d="M272.2,91.4L274.1,88.0L270.3,88.0Z" fill="none" stroke="#d9c94e" stroke-width="0.8"/>
<rect x="292.7" y="55.4" width="2.9" height="2.9" rx="0.9" fill="none" stroke="#5cb883" stroke-width="0.8"/>
<rect x="260.4" y="66.8" width="2.9" height="2.9" rx="0.9" fill="none" stroke="#5cb883" stroke-width="0.8"/>
<circle cx="238.8" cy="87.9" r="1.6" fill="none" stroke="#e2605c" stroke-width="0.8"/>
<circle cx="272.4" cy="51.0" r="1.6" fill="none" stroke="#e2605c" stroke-width="0.8"/>
<circle cx="290.5" cy="59.9" r="1.6" fill="none" stroke="#e2605c" stroke-width="0.8"/>
<circle cx="266.8" cy="56.6" r="1.6" fill="none" stroke="#e2605c" stroke-width="0.8"/>
<path d="M272.4,89.0L274.3,85.6L270.5,85.6Z" fill="none" stroke="#d9c94e" stroke-width="0.8"/>
<circle cx="281.1" cy="75.2" r="1.6" fill="none" stroke="#e2605c" stroke-width="0.8"/>
<path d="M250.7,90.7L252.6,94.1L248.8,94.1Z" fill="none" stroke="#7890d4" stroke-width="0.8"/>
<path d="M264.7,86.4L266.6,89.8L262.8,89.8Z" fill="none" stroke="#7890d4" stroke-width="0.8"/>
<path d="M324.8,24.6L326.7,21.2L322.9,21.2Z" fill="none" stroke="#d9c94e" stroke-width="0.8"/>
<path d="M270.4,83.2L272.3,86.6L268.5,86.6Z" fill="none" stroke="#7890d4" stroke-width="0.8"/>
<path d="M297.0,52.3L298.9,48.9L295.1,48.9Z" fill="none" stroke="#d9c94e" stroke-width="0.8"/>
<circle cx="261.3" cy="63.9" r="1.6" fill="none" stroke="#e2605c" stroke-width="0.8"/>
<path d="M281.7,86.7L283.6,83.2L279.8,83.2Z" fill="none" stroke="#d9c94e" stroke-width="0.8"/>
<circle cx="270.3" cy="48.2" r="1.6" fill="none" stroke="#e2605c" stroke-width="0.8"/>
<path d="M286.4,50.0L288.3,53.4L284.5,53.4Z" fill="none" stroke="#7890d4" stroke-width="0.8"/>
<path d="M268.8,45.0L270.7,48.4L266.9,48.4Z" fill="none" stroke="#7890d4" stroke-width="0.8"/>
<circle cx="285.4" cy="88.6" r="1.6" fill="none" stroke="#e2605c" stroke-width="0.8"/>
<circle cx="289.1" cy="77.7" r="1.6" fill="none" stroke="#e2605c" stroke-width="0.8"/>
<rect x="282.7" y="62.0" width="2.9" height="2.9" rx="0.9" fill="none" stroke="#5cb883" stroke-width="0.8"/>
<path d="M269.6,71.1L271.5,67.7L267.7,67.7Z" fill="none" stroke="#d9c94e" stroke-width="0.8"/>
<path d="M301.2,53.1L303.1,56.5L299.3,56.5Z" fill="none" stroke="#7890d4" stroke-width="0.8"/>
<path d="M300.5,69.7L302.4,73.1L298.6,73.1Z" fill="none" stroke="#7890d4" stroke-width="0.8"/>
<circle cx="299.4" cy="60.7" r="1.6" fill="none" stroke="#e2605c" stroke-width="0.8"/>
<circle cx="286.7" cy="64.4" r="1.6" fill="none" stroke="#e2605c" stroke-width="0.8"/>
<rect x="285.7" y="67.9" width="2.9" height="2.9" rx="0.9" fill="none" stroke="#5cb883" stroke-width="0.8"/>
<rect x="293.3" y="29.9" width="2.9" height="2.9" rx="0.9" fill="none" stroke="#5cb883" stroke-width="0.8"/>
<path d="M319.0,62.3L320.9,58.9L317.1,58.9Z" fill="none" stroke="#d9c94e" stroke-width="0.8"/>
<circle cx="287.7" cy="43.6" r="1.6" fill="none" stroke="#e2605c" stroke-width="0.8"/>
<circle cx="296.8" cy="73.8" r="1.6" fill="none" stroke="#e2605c" stroke-width="0.8"/>
<rect x="314.8" y="57.6" width="2.9" height="2.9" rx="0.9" fill="none" stroke="#5cb883" stroke-width="0.8"/>
<path d="M252.9,76.4L254.8,73.0L251.0,73.0Z" fill="none" stroke="#d9c94e" stroke-width="0.8"/>
<circle cx="275.7" cy="64.4" r="1.6" fill="none" stroke="#e2605c" stroke-width="0.8"/>
<path d="M301.6,72.2L303.5,75.6L299.7,75.6Z" fill="none" stroke="#7890d4" stroke-width="0.8"/>
<circle cx="268.2" cy="61.3" r="1.6" fill="none" stroke="#e2605c" stroke-width="0.8"/>
<rect x="228.2" y="94.3" width="2.9" height="2.9" rx="0.9" fill="none" stroke="#5cb883" stroke-width="0.8"/>
<path d="M258.4,92.3L260.3,88.9L256.5,88.9Z" fill="none" stroke="#d9c94e" stroke-width="0.8"/>
<circle cx="305.5" cy="58.8" r="1.6" fill="none" stroke="#e2605c" stroke-width="0.8"/>
<circle cx="251.9" cy="105.2" r="1.6" fill="none" stroke="#e2605c" stroke-width="0.8"/>
<path d="M282.8,68.2L284.7,64.8L280.9,64.8Z" fill="none" stroke="#d9c94e" stroke-width="0.8"/>
<rect x="257.4" y="90.0" width="2.9" height="2.9" rx="0.9" fill="none" stroke="#5cb883" stroke-width="0.8"/>
<path d="M296.9,76.9L298.8,80.3L295.0,80.3Z" fill="none" stroke="#7890d4" stroke-width="0.8"/>
<path d="M253.3,72.3L255.2,75.7L251.4,75.7Z" fill="none" stroke="#7890d4" stroke-width="0.8"/>
<circle cx="246.6" cy="77.7" r="1.6" fill="none" stroke="#e2605c" stroke-width="0.8"/>
<rect x="288.8" y="61.8" width="2.9" height="2.9" rx="0.9" fill="none" stroke="#5cb883" stroke-width="0.8"/>
<rect x="268.9" y="53.0" width="2.9" height="2.9" rx="0.9" fill="none" stroke="#5cb883" stroke-width="0.8"/>
<circle cx="295.7" cy="63.5" r="1.6" fill="none" stroke="#e2605c" stroke-width="0.8"/>
<circle cx="306.2" cy="50.3" r="1.6" fill="none" stroke="#e2605c" stroke-width="0.8"/>
<path d="M272.3,73.2L274.2,76.6L270.4,76.6Z" fill="none" stroke="#7890d4" stroke-width="0.8"/>
<circle cx="270.2" cy="73.8" r="1.6" fill="none" stroke="#e2605c" stroke-width="0.8"/>
<rect x="257.2" y="68.2" width="2.9" height="2.9" rx="0.9" fill="none" stroke="#5cb883" stroke-width="0.8"/>
<path d="M257.2,67.2L259.1,70.6L255.3,70.6Z" fill="none" stroke="#7890d4" stroke-width="0.8"/>
<rect x="236.2" y="90.9" width="2.9" height="2.9" rx="0.9" fill="none" stroke="#5cb883" stroke-width="0.8"/>
<circle cx="277.2" cy="72.9" r="1.6" fill="none" stroke="#e2605c" stroke-width="0.8"/>
<circle cx="285.0" cy="63.6" r="1.6" fill="none" stroke="#e2605c" stroke-width="0.8"/>
<path d="M291.2,67.9L293.1,64.5L289.3,64.5Z" fill="none" stroke="#d9c94e" stroke-width="0.8"/>
<path d="M262.0,83.5L263.9,80.1L260.1,80.1Z" fill="none" stroke="#d9c94e" stroke-width="0.8"/>
<circle cx="271.7" cy="67.8" r="1.6" fill="none" stroke="#e2605c" stroke-width="0.8"/>
<circle cx="302.9" cy="66.6" r="1.6" fill="none" stroke="#e2605c" stroke-width="0.8"/>
<path d="M287.5,62.0L289.4,58.6L285.6,58.6Z" fill="none" stroke="#d9c94e" stroke-width="0.8"/>
<rect x="249.1" y="72.6" width="2.9" height="2.9" rx="0.9" fill="none" stroke="#5cb883" stroke-width="0.8"/>
<circle cx="256.4" cy="82.5" r="1.6" fill="none" stroke="#e2605c" stroke-width="0.8"/>
<path d="M268.4,75.7L270.3,79.1L266.5,79.1Z" fill="none" stroke="#7890d4" stroke-width="0.8"/>
<circle cx="230.4" cy="80.1" r="1.6" fill="none" stroke="#e2605c" stroke-width="0.8"/>
<rect x="289.7" y="63.6" width="2.9" height="2.9" rx="0.9" fill="none" stroke="#5cb883" stroke-width="0.8"/>
<rect x="272.0" y="62.3" width="2.9" height="2.9" rx="0.9" fill="none" stroke="#5cb883" stroke-width="0.8"/>
<path d="M259.3,84.8L261.2,88.2L257.4,88.2Z" fill="none" stroke="#7890d4" stroke-width="0.8"/>
<path d="M283.3,52.5L285.2,55.9L281.4,55.9Z" fill="none" stroke="#7890d4" stroke-width="0.8"/>
<path d="M254.2,84.6L256.1,81.2L252.3,81.2Z" fill="none" stroke="#d9c94e" stroke-width="0.8"/>
<circle cx="279.6" cy="61.4" r="1.6" fill="none" stroke="#e2605c" stroke-width="0.8"/>
<path d="M259.1,84.7L261.0,81.3L257.2,81.3Z" fill="none" stroke="#d9c94e" stroke-width="0.8"/>
<circle cx="279.6" cy="74.8" r="1.6" fill="none" stroke="#e2605c" stroke-width="0.8"/>
<path d="M237.5,96.2L239.4,92.8L235.6,92.8Z" fill="none" stroke="#d9c94e" stroke-width="0.8"/>
<path d="M295.6,80.0L297.5,83.4L293.7,83.4Z" fill="none" stroke="#7890d4" stroke-width="0.8"/>
<path d="M248.2,67.4L250.1,64.0L246.3,64.0Z" fill="none" stroke="#d9c94e" stroke-width="0.8"/>
<circle cx="263.2" cy="64.4" r="1.6" fill="none" stroke="#e2605c" stroke-width="0.8"/>
<path d="M265.8,65.8L267.7,69.2L263.9,69.2Z" fill="none" stroke="#7890d4" stroke-width="0.8"/>
<circle cx="266.8" cy="69.3" r="1.6" fill="none" stroke="#e2605c" stroke-width="0.8"/>
<path d="M279.8,83.3L281.7,86.7L277.9,86.7Z" fill="none" stroke="#7890d4" stroke-width="0.8"/>
<circle cx="287.3" cy="53.3" r="1.6" fill="none" stroke="#e2605c" stroke-width="0.8"/>
<path d="M272.7,68.8L274.6,65.4L270.8,65.4Z" fill="none" stroke="#d9c94e" stroke-width="0.8"/>
<circle cx="258.4" cy="84.8" r="1.6" fill="none" stroke="#e2605c" stroke-width="0.8"/>
<path d="M244.6,87.2L246.5,83.7L242.7,83.7Z" fill="none" stroke="#d9c94e" stroke-width="0.8"/>
<circle cx="272.8" cy="73.7" r="1.6" fill="none" stroke="#e2605c" stroke-width="0.8"/>
<circle cx="305.7" cy="59.3" r="1.6" fill="none" stroke="#e2605c" stroke-width="0.8"/>
<path d="M303.0,52.4L304.9,55.8L301.1,55.8Z" fill="none" stroke="#7890d4" stroke-width="0.8"/>
<path d="M264.6,63.9L266.5,67.3L262.7,67.3Z" fill="none" stroke="#7890d4" stroke-width="0.8"/>
<circle cx="282.4" cy="75.5" r="1.6" fill="none" stroke="#e2605c" stroke-width="0.8"/>
<rect x="291.4" y="77.1" width="2.9" height="2.9" rx="0.9" fill="none" stroke="#5cb883" stroke-width="0.8"/>
<path d="M274.3,96.0L276.2,99.4L272.4,99.4Z" fill="none" stroke="#7890d4" stroke-width="0.8"/>
<path d="M262.9,72.9L264.8,76.3L261.0,76.3Z" fill="none" stroke="#7890d4" stroke-width="0.8"/>
<circle cx="254.2" cy="71.6" r="1.6" fill="none" stroke="#e2605c" stroke-width="0.8"/>
<path d="M229.1,81.5L231.0,85.0L227.2,85.0Z" fill="none" stroke="#7890d4" stroke-width="0.8"/>
<path d="M243.4,85.9L245.3,89.3L241.5,89.3Z" fill="none" stroke="#7890d4" stroke-width="0.8"/>
<circle cx="264.9" cy="71.3" r="1.6" fill="none" stroke="#e2605c" stroke-width="0.8"/>
<path d="M300.3,64.8L302.2,61.4L298.4,61.4Z" fill="none" stroke="#d9c94e" stroke-width="0.8"/>
<path d="M266.8,75.3L268.7,78.7L264.9,78.7Z" fill="none" stroke="#7890d4" stroke-width="0.8"/>
<rect x="280.0" y="99.4" width="2.9" height="2.9" rx="0.9" fill="none" stroke="#5cb883" stroke-width="0.8"/>
<path d="M288.1,66.5L290.0,63.1L286.2,63.1Z" fill="none" stroke="#d9c94e" stroke-width="0.8"/>
<path d="M256.9,79.0L258.8,82.4L255.0,82.4Z" fill="none" stroke="#7890d4" stroke-width="0.8"/>
<circle cx="274.3" cy="72.8" r="1.6" fill="none" stroke="#e2605c" stroke-width="0.8"/>
<rect x="269.0" y="60.5" width="2.9" height="2.9" rx="0.9" fill="none" stroke="#5cb883" stroke-width="0.8"/>
<circle cx="322.5" cy="66.1" r="1.6" fill="none" stroke="#e2605c" stroke-width="0.8"/>
<line x1="210.0" y1="88.8" x2="352.4" y2="35.2" stroke="#4a6bc0" stroke-width="1.3"/>
<line x1="210.0" y1="89.8" x2="352.4" y2="41.0" stroke="#3aab5a" stroke-width="1.3"/>
<line x1="210.0" y1="88.6" x2="352.4" y2="34.9" stroke="#dccd2e" stroke-width="1.3"/>
<line x1="210.0" y1="86.3" x2="352.4" y2="38.6" stroke="#d42a2e" stroke-width="1.3"/>
</g>
<path d="M210.0,19.3H352.4V108.9" fill="none" stroke="#858585" stroke-width="1"/>
<path d="M210.0,19.3V108.9H352.4" fill="none" stroke="#6a6a6a" stroke-width="1"/>
<line x1="206.0" y1="23.1" x2="210.0" y2="23.1" stroke="#6a6a6a" stroke-width="1"/>
<text transform="translate(203.60,26.50) scale(1.0,1.08)" font-size="9.6" text-anchor="end" fill="#151515" stroke="#151515" stroke-width="0.32" font-weight="normal">4.0</text>
<line x1="206.0" y1="38.8" x2="210.0" y2="38.8" stroke="#6a6a6a" stroke-width="1"/>
<text transform="translate(203.60,42.20) scale(1.0,1.08)" font-size="9.6" text-anchor="end" fill="#151515" stroke="#151515" stroke-width="0.32" font-weight="normal">3.5</text>
<line x1="206.0" y1="54.6" x2="210.0" y2="54.6" stroke="#6a6a6a" stroke-width="1"/>
<text transform="translate(203.60,58.00) scale(1.0,1.08)" font-size="9.6" text-anchor="end" fill="#151515" stroke="#151515" stroke-width="0.32" font-weight="normal">3.0</text>
<line x1="206.0" y1="70.4" x2="210.0" y2="70.4" stroke="#6a6a6a" stroke-width="1"/>
<text transform="translate(203.60,73.80) scale(1.0,1.08)" font-size="9.6" text-anchor="end" fill="#151515" stroke="#151515" stroke-width="0.32" font-weight="normal">2.5</text>
<line x1="206.0" y1="86.5" x2="210.0" y2="86.5" stroke="#6a6a6a" stroke-width="1"/>
<text transform="translate(203.60,89.90) scale(1.0,1.08)" font-size="9.6" text-anchor="end" fill="#151515" stroke="#151515" stroke-width="0.32" font-weight="normal">2.0</text>
<line x1="206.0" y1="102.2" x2="210.0" y2="102.2" stroke="#6a6a6a" stroke-width="1"/>
<text transform="translate(203.60,105.60) scale(1.0,1.08)" font-size="9.6" text-anchor="end" fill="#151515" stroke="#151515" stroke-width="0.32" font-weight="normal">1.5</text>
<line x1="210.00" y1="108.9" x2="210.00" y2="112.9" stroke="#6a6a6a" stroke-width="1"/>
<text transform="translate(210.80,122.30) scale(1.0,1.08)" font-size="9.6" text-anchor="middle" fill="#151515" stroke="#151515" stroke-width="0.32" font-weight="normal">1.10</text>
<line x1="257.47" y1="108.9" x2="257.47" y2="112.9" stroke="#6a6a6a" stroke-width="1"/>
<text transform="translate(258.27,122.30) scale(1.0,1.08)" font-size="9.6" text-anchor="middle" fill="#151515" stroke="#151515" stroke-width="0.32" font-weight="normal">1.30</text>
<line x1="304.93" y1="108.9" x2="304.93" y2="112.9" stroke="#6a6a6a" stroke-width="1"/>
<text transform="translate(305.73,122.30) scale(1.0,1.08)" font-size="9.6" text-anchor="middle" fill="#151515" stroke="#151515" stroke-width="0.32" font-weight="normal">1.50</text>
<line x1="352.40" y1="108.9" x2="352.40" y2="112.9" stroke="#6a6a6a" stroke-width="1"/>
<text transform="translate(353.20,122.30) scale(1.0,1.08)" font-size="9.6" text-anchor="middle" fill="#151515" stroke="#151515" stroke-width="0.32" font-weight="normal">1.70</text>
<text transform="translate(279.90,133.20) scale(1.07,1.0)" font-size="10.0" text-anchor="middle" fill="#151515" stroke="#151515" stroke-width="0.32" font-weight="normal">BMI (log10)</text>
<text transform="translate(186.60,61.70) rotate(-90)" font-size="10.3" text-anchor="middle" fill="#151515" stroke="#151515" stroke-width="0.32">Leptin (log10)</text>
<text transform="translate(337.50,70.80) scale(1.0,1.0)" font-size="8.4" text-anchor="middle" fill="#111" stroke="#111" stroke-width="0.3" font-weight="normal">r=</text>
<text transform="translate(322.30,80.50) scale(1.0,1.0)" font-size="8.3" text-anchor="start" fill="#2a9e5a" stroke="#2a9e5a" stroke-width="0.12" font-weight="normal">0.42<tspan font-size="8.0">***</tspan></text>
<text transform="translate(322.30,88.95) scale(1.0,1.0)" font-size="8.3" text-anchor="start" fill="#e23a3e" stroke="#e23a3e" stroke-width="0.12" font-weight="normal">0.46<tspan font-size="8.0">***</tspan></text>
<text transform="translate(322.30,97.40) scale(1.0,1.0)" font-size="8.3" text-anchor="start" fill="#6d8dcc" stroke="#6d8dcc" stroke-width="0.12" font-weight="normal">0.58<tspan font-size="8.0">***</tspan></text>
<text transform="translate(322.30,105.85) scale(1.0,1.0)" font-size="8.3" text-anchor="start" fill="#d6cf3a" stroke="#d6cf3a" stroke-width="0.12" font-weight="normal">0.51<tspan font-size="8.0">***</tspan></text>
<clipPath id="clip148"><rect x="210.0" y="148.5" width="142.39999999999998" height="88.1"/></clipPath>
<g clip-path="url(#clip148)">
<rect x="260.9" y="198.8" width="2.9" height="2.9" rx="0.9" fill="none" stroke="#5cb883" stroke-width="0.8"/>
<path d="M263.9,170.5L265.8,167.0L262.0,167.0Z" fill="none" stroke="#d9c94e" stroke-width="0.8"/>
<circle cx="267.5" cy="188.1" r="1.6" fill="none" stroke="#e2605c" stroke-width="0.8"/>
<rect x="286.2" y="181.4" width="2.9" height="2.9" rx="0.9" fill="none" stroke="#5cb883" stroke-width="0.8"/>
<rect x="227.3" y="149.6" width="2.9" height="2.9" rx="0.9" fill="none" stroke="#5cb883" stroke-width="0.8"/>
<path d="M284.0,163.9L285.9,160.5L282.1,160.5Z" fill="none" stroke="#d9c94e" stroke-width="0.8"/>
<path d="M270.9,178.2L272.8,181.6L269.0,181.6Z" fill="none" stroke="#7890d4" stroke-width="0.8"/>
<rect x="275.3" y="200.6" width="2.9" height="2.9" rx="0.9" fill="none" stroke="#5cb883" stroke-width="0.8"/>
<circle cx="262.0" cy="178.3" r="1.6" fill="none" stroke="#e2605c" stroke-width="0.8"/>
<circle cx="266.0" cy="183.6" r="1.6" fill="none" stroke="#e2605c" stroke-width="0.8"/>
<path d="M265.5,161.5L267.4,164.9L263.6,164.9Z" fill="none" stroke="#7890d4" stroke-width="0.8"/>
<rect x="270.8" y="196.2" width="2.9" height="2.9" rx="0.9" fill="none" stroke="#5cb883" stroke-width="0.8"/>
<rect x="259.9" y="155.8" width="2.9" height="2.9" rx="0.9" fill="none" stroke="#5cb883" stroke-width="0.8"/>
<circle cx="277.1" cy="187.4" r="1.6" fill="none" stroke="#e2605c" stroke-width="0.8"/>
<circle cx="283.6" cy="188.8" r="1.6" fill="none" stroke="#e2605c" stroke-width="0.8"/>
<circle cx="269.1" cy="173.3" r="1.6" fill="none" stroke="#e2605c" stroke-width="0.8"/>
<rect x="247.7" y="176.3" width="2.9" height="2.9" rx="0.9" fill="none" stroke="#5cb883" stroke-width="0.8"/>
<circle cx="259.4" cy="185.7" r="1.6" fill="none" stroke="#e2605c" stroke-width="0.8"/>
<rect x="259.6" y="170.1" width="2.9" height="2.9" rx="0.9" fill="none" stroke="#5cb883" stroke-width="0.8"/>
<path d="M268.9,186.7L270.8,183.3L267.0,183.3Z" fill="none" stroke="#d9c94e" stroke-width="0.8"/>
<path d="M270.6,207.3L272.5,203.9L268.7,203.9Z" fill="none" stroke="#d9c94e" stroke-width="0.8"/>
<path d="M262.7,167.6L264.6,171.0L260.8,171.0Z" fill="none" stroke="#7890d4" stroke-width="0.8"/>
<rect x="272.9" y="171.6" width="2.9" height="2.9" rx="0.9" fill="none" stroke="#5cb883" stroke-width="0.8"/>
<rect x="238.1" y="162.5" width="2.9" height="2.9" rx="0.9" fill="none" stroke="#5cb883" stroke-width="0.8"/>
<path d="M249.6,158.1L251.5,161.5L247.7,161.5Z" fill="none" stroke="#7890d4" stroke-width="0.8"/>
<path d="M246.3,177.0L248.2,173.6L244.4,173.6Z" fill="none" stroke="#d9c94e" stroke-width="0.8"/>
<rect x="258.2" y="190.1" width="2.9" height="2.9" rx="0.9" fill="none" stroke="#5cb883" stroke-width="0.8"/>
<path d="M300.9,184.6L302.8,188.0L299.0,188.0Z" fill="none" stroke="#7890d4" stroke-width="0.8"/>
<circle cx="241.3" cy="189.8" r="1.6" fill="none" stroke="#e2605c" stroke-width="0.8"/>
<rect x="258.1" y="179.1" width="2.9" height="2.9" rx="0.9" fill="none" stroke="#5cb883" stroke-width="0.8"/>
<circle cx="241.8" cy="162.3" r="1.6" fill="none" stroke="#e2605c" stroke-width="0.8"/>
<circle cx="217.8" cy="143.0" r="1.6" fill="none" stroke="#e2605c" stroke-width="0.8"/>
<rect x="261.8" y="181.1" width="2.9" height="2.9" rx="0.9" fill="none" stroke="#5cb883" stroke-width="0.8"/>
<circle cx="249.7" cy="172.7" r="1.6" fill="none" stroke="#e2605c" stroke-width="0.8"/>
<circle cx="263.7" cy="170.3" r="1.6" fill="none" stroke="#e2605c" stroke-width="0.8"/>
<circle cx="289.9" cy="184.5" r="1.6" fill="none" stroke="#e2605c" stroke-width="0.8"/>
<circle cx="236.5" cy="181.3" r="1.6" fill="none" stroke="#e2605c" stroke-width="0.8"/>
<rect x="279.0" y="164.3" width="2.9" height="2.9" rx="0.9" fill="none" stroke="#5cb883" stroke-width="0.8"/>
<circle cx="269.1" cy="185.3" r="1.6" fill="none" stroke="#e2605c" stroke-width="0.8"/>
<circle cx="248.9" cy="170.4" r="1.6" fill="none" stroke="#e2605c" stroke-width="0.8"/>
<circle cx="283.6" cy="176.2" r="1.6" fill="none" stroke="#e2605c" stroke-width="0.8"/>
<rect x="245.8" y="167.2" width="2.9" height="2.9" rx="0.9" fill="none" stroke="#5cb883" stroke-width="0.8"/>
<circle cx="257.9" cy="171.4" r="1.6" fill="none" stroke="#e2605c" stroke-width="0.8"/>
<circle cx="276.6" cy="187.0" r="1.6" fill="none" stroke="#e2605c" stroke-width="0.8"/>
<path d="M249.0,161.2L250.9,164.6L247.1,164.6Z" fill="none" stroke="#7890d4" stroke-width="0.8"/>
<path d="M274.4,184.7L276.3,188.2L272.5,188.2Z" fill="none" stroke="#7890d4" stroke-width="0.8"/>
<rect x="249.8" y="179.1" width="2.9" height="2.9" rx="0.9" fill="none" stroke="#5cb883" stroke-width="0.8"/>
<rect x="306.5" y="181.5" width="2.9" height="2.9" rx="0.9" fill="none" stroke="#5cb883" stroke-width="0.8"/>
<circle cx="300.1" cy="176.6" r="1.6" fill="none" stroke="#e2605c" stroke-width="0.8"/>
<path d="M266.7,190.7L268.6,194.1L264.8,194.1Z" fill="none" stroke="#7890d4" stroke-width="0.8"/>
<rect x="232.3" y="163.9" width="2.9" height="2.9" rx="0.9" fill="none" stroke="#5cb883" stroke-width="0.8"/>
<circle cx="303.2" cy="191.0" r="1.6" fill="none" stroke="#e2605c" stroke-width="0.8"/>
<path d="M301.2,187.9L303.1,191.4L299.3,191.4Z" fill="none" stroke="#7890d4" stroke-width="0.8"/>
<rect x="264.2" y="184.7" width="2.9" height="2.9" rx="0.9" fill="none" stroke="#5cb883" stroke-width="0.8"/>
<circle cx="255.1" cy="149.9" r="1.6" fill="none" stroke="#e2605c" stroke-width="0.8"/>
<circle cx="287.9" cy="213.5" r="1.6" fill="none" stroke="#e2605c" stroke-width="0.8"/>
<path d="M272.1,189.6L274.0,186.2L270.2,186.2Z" fill="none" stroke="#d9c94e" stroke-width="0.8"/>
<rect x="283.7" y="192.5" width="2.9" height="2.9" rx="0.9" fill="none" stroke="#5cb883" stroke-width="0.8"/>
<path d="M275.0,185.1L276.9,188.5L273.1,188.5Z" fill="none" stroke="#7890d4" stroke-width="0.8"/>
<path d="M231.3,181.8L233.2,178.4L229.4,178.4Z" fill="none" stroke="#d9c94e" stroke-width="0.8"/>
<path d="M288.9,167.4L290.8,170.8L287.0,170.8Z" fill="none" stroke="#7890d4" stroke-width="0.8"/>
<circle cx="295.9" cy="198.2" r="1.6" fill="none" stroke="#e2605c" stroke-width="0.8"/>
<path d="M258.7,176.5L260.6,179.9L256.8,179.9Z" fill="none" stroke="#7890d4" stroke-width="0.8"/>
<circle cx="276.5" cy="185.9" r="1.6" fill="none" stroke="#e2605c" stroke-width="0.8"/>
<circle cx="256.0" cy="175.9" r="1.6" fill="none" stroke="#e2605c" stroke-width="0.8"/>
<path d="M237.0,169.0L238.9,172.5L235.1,172.5Z" fill="none" stroke="#7890d4" stroke-width="0.8"/>
<circle cx="296.4" cy="175.3" r="1.6" fill="none" stroke="#e2605c" stroke-width="0.8"/>
<path d="M286.8,194.3L288.7,197.7L284.9,197.7Z" fill="none" stroke="#7890d4" stroke-width="0.8"/>
<circle cx="265.5" cy="150.7" r="1.6" fill="none" stroke="#e2605c" stroke-width="0.8"/>
<circle cx="287.1" cy="186.3" r="1.6" fill="none" stroke="#e2605c" stroke-width="0.8"/>
<path d="M292.2,189.0L294.1,192.4L290.3,192.4Z" fill="none" stroke="#7890d4" stroke-width="0.8"/>
<rect x="234.3" y="159.1" width="2.9" height="2.9" rx="0.9" fill="none" stroke="#5cb883" stroke-width="0.8"/>
<path d="M286.0,198.0L287.9,194.6L284.1,194.6Z" fill="none" stroke="#d9c94e" stroke-width="0.8"/>
<path d="M263.3,173.4L265.2,176.8L261.4,176.8Z" fill="none" stroke="#7890d4" stroke-width="0.8"/>
<circle cx="232.7" cy="170.2" r="1.6" fill="none" stroke="#e2605c" stroke-width="0.8"/>
<rect x="287.3" y="186.9" width="2.9" height="2.9" rx="0.9" fill="none" stroke="#5cb883" stroke-width="0.8"/>
<path d="M254.0,189.1L255.9,185.7L252.1,185.7Z" fill="none" stroke="#d9c94e" stroke-width="0.8"/>
<circle cx="269.3" cy="195.7" r="1.6" fill="none" stroke="#e2605c" stroke-width="0.8"/>
<path d="M273.6,162.6L275.5,159.2L271.7,159.2Z" fill="none" stroke="#d9c94e" stroke-width="0.8"/>
<circle cx="262.7" cy="181.2" r="1.6" fill="none" stroke="#e2605c" stroke-width="0.8"/>
<path d="M277.0,203.8L278.9,200.4L275.1,200.4Z" fill="none" stroke="#d9c94e" stroke-width="0.8"/>
<path d="M245.8,175.3L247.7,171.9L243.9,171.9Z" fill="none" stroke="#d9c94e" stroke-width="0.8"/>
<circle cx="259.7" cy="191.0" r="1.6" fill="none" stroke="#e2605c" stroke-width="0.8"/>
<circle cx="265.6" cy="180.0" r="1.6" fill="none" stroke="#e2605c" stroke-width="0.8"/>
<path d="M272.0,196.5L273.9,199.9L270.1,199.9Z" fill="none" stroke="#7890d4" stroke-width="0.8"/>
<circle cx="295.8" cy="180.4" r="1.6" fill="none" stroke="#e2605c" stroke-width="0.8"/>
<path d="M287.3,208.1L289.2,204.7L285.4,204.7Z" fill="none" stroke="#d9c94e" stroke-width="0.8"/>
<path d="M295.0,210.4L296.9,213.9L293.1,213.9Z" fill="none" stroke="#7890d4" stroke-width="0.8"/>
<circle cx="290.9" cy="165.7" r="1.6" fill="none" stroke="#e2605c" stroke-width="0.8"/>
<path d="M269.9,194.9L271.8,191.5L268.0,191.5Z" fill="none" stroke="#d9c94e" stroke-width="0.8"/>
<path d="M280.8,172.9L282.7,176.3L278.9,176.3Z" fill="none" stroke="#7890d4" stroke-width="0.8"/>
<path d="M288.4,177.3L290.3,173.9L286.5,173.9Z" fill="none" stroke="#d9c94e" stroke-width="0.8"/>
<circle cx="252.4" cy="198.1" r="1.6" fill="none" stroke="#e2605c" stroke-width="0.8"/>
<circle cx="266.4" cy="165.0" r="1.6" fill="none" stroke="#e2605c" stroke-width="0.8"/>
<circle cx="280.3" cy="166.7" r="1.6" fill="none" stroke="#e2605c" stroke-width="0.8"/>
<path d="M264.4,211.2L266.3,214.7L262.5,214.7Z" fill="none" stroke="#7890d4" stroke-width="0.8"/>
<rect x="242.3" y="146.3" width="2.9" height="2.9" rx="0.9" fill="none" stroke="#5cb883" stroke-width="0.8"/>
<circle cx="256.3" cy="179.9" r="1.6" fill="none" stroke="#e2605c" stroke-width="0.8"/>
<circle cx="269.2" cy="210.8" r="1.6" fill="none" stroke="#e2605c" stroke-width="0.8"/>
<rect x="255.9" y="179.9" width="2.9" height="2.9" rx="0.9" fill="none" stroke="#5cb883" stroke-width="0.8"/>
<path d="M264.9,173.9L266.8,177.3L263.0,177.3Z" fill="none" stroke="#7890d4" stroke-width="0.8"/>
<path d="M281.8,171.2L283.7,174.6L279.9,174.6Z" fill="none" stroke="#7890d4" stroke-width="0.8"/>
<circle cx="236.1" cy="171.5" r="1.6" fill="none" stroke="#e2605c" stroke-width="0.8"/>
<path d="M276.5,158.3L278.4,154.9L274.6,154.9Z" fill="none" stroke="#d9c94e" stroke-width="0.8"/>
<circle cx="292.7" cy="202.2" r="1.6" fill="none" stroke="#e2605c" stroke-width="0.8"/>
<path d="M266.4,167.6L268.3,171.0L264.5,171.0Z" fill="none" stroke="#7890d4" stroke-width="0.8"/>
<circle cx="286.1" cy="178.6" r="1.6" fill="none" stroke="#e2605c" stroke-width="0.8"/>
<path d="M279.5,170.8L281.4,174.2L277.6,174.2Z" fill="none" stroke="#7890d4" stroke-width="0.8"/>
<path d="M317.1,201.8L319.0,198.4L315.2,198.4Z" fill="none" stroke="#d9c94e" stroke-width="0.8"/>
<circle cx="261.7" cy="197.1" r="1.6" fill="none" stroke="#e2605c" stroke-width="0.8"/>
<path d="M274.2,200.3L276.1,196.9L272.3,196.9Z" fill="none" stroke="#d9c94e" stroke-width="0.8"/>
<path d="M291.7,205.0L293.6,201.6L289.8,201.6Z" fill="none" stroke="#d9c94e" stroke-width="0.8"/>
<rect x="263.2" y="182.6" width="2.9" height="2.9" rx="0.9" fill="none" stroke="#5cb883" stroke-width="0.8"/>
<rect x="262.3" y="162.8" width="2.9" height="2.9" rx="0.9" fill="none" stroke="#5cb883" stroke-width="0.8"/>
<path d="M272.9,167.9L274.8,171.3L271.0,171.3Z" fill="none" stroke="#7890d4" stroke-width="0.8"/>
<circle cx="292.2" cy="190.3" r="1.6" fill="none" stroke="#e2605c" stroke-width="0.8"/>
<path d="M279.6,188.7L281.5,185.3L277.7,185.3Z" fill="none" stroke="#d9c94e" stroke-width="0.8"/>
<rect x="273.1" y="161.0" width="2.9" height="2.9" rx="0.9" fill="none" stroke="#5cb883" stroke-width="0.8"/>
<circle cx="252.6" cy="167.9" r="1.6" fill="none" stroke="#e2605c" stroke-width="0.8"/>
<rect x="274.4" y="185.8" width="2.9" height="2.9" rx="0.9" fill="none" stroke="#5cb883" stroke-width="0.8"/>
<rect x="285.4" y="164.6" width="2.9" height="2.9" rx="0.9" fill="none" stroke="#5cb883" stroke-width="0.8"/>
<rect x="277.2" y="179.5" width="2.9" height="2.9" rx="0.9" fill="none" stroke="#5cb883" stroke-width="0.8"/>
<path d="M291.3,211.2L293.2,207.7L289.4,207.7Z" fill="none" stroke="#d9c94e" stroke-width="0.8"/>
<path d="M239.9,203.3L241.8,199.8L238.0,199.8Z" fill="none" stroke="#d9c94e" stroke-width="0.8"/>
<path d="M286.3,184.8L288.2,181.4L284.4,181.4Z" fill="none" stroke="#d9c94e" stroke-width="0.8"/>
<circle cx="259.4" cy="182.9" r="1.6" fill="none" stroke="#e2605c" stroke-width="0.8"/>
<circle cx="267.4" cy="161.9" r="1.6" fill="none" stroke="#e2605c" stroke-width="0.8"/>
<circle cx="257.2" cy="179.3" r="1.6" fill="none" stroke="#e2605c" stroke-width="0.8"/>
<path d="M266.2,163.4L268.1,166.8L264.3,166.8Z" fill="none" stroke="#7890d4" stroke-width="0.8"/>
<circle cx="255.0" cy="195.9" r="1.6" fill="none" stroke="#e2605c" stroke-width="0.8"/>
<path d="M307.3,184.6L309.2,181.1L305.4,181.1Z" fill="none" stroke="#d9c94e" stroke-width="0.8"/>
<circle cx="299.8" cy="187.7" r="1.6" fill="none" stroke="#e2605c" stroke-width="0.8"/>
<path d="M273.1,164.2L275.0,160.7L271.2,160.7Z" fill="none" stroke="#d9c94e" stroke-width="0.8"/>
<path d="M247.4,164.4L249.3,167.8L245.5,167.8Z" fill="none" stroke="#7890d4" stroke-width="0.8"/>
<path d="M265.3,176.3L267.2,179.7L263.4,179.7Z" fill="none" stroke="#7890d4" stroke-width="0.8"/>
<path d="M262.0,175.3L263.9,178.7L260.1,178.7Z" fill="none" stroke="#7890d4" stroke-width="0.8"/>
<circle cx="236.2" cy="188.8" r="1.6" fill="none" stroke="#e2605c" stroke-width="0.8"/>
<circle cx="280.3" cy="176.2" r="1.6" fill="none" stroke="#e2605c" stroke-width="0.8"/>
<circle cx="250.3" cy="179.3" r="1.6" fill="none" stroke="#e2605c" stroke-width="0.8"/>
<circle cx="243.9" cy="175.8" r="1.6" fill="none" stroke="#e2605c" stroke-width="0.8"/>
<circle cx="237.0" cy="179.9" r="1.6" fill="none" stroke="#e2605c" stroke-width="0.8"/>
<rect x="303.6" y="192.3" width="2.9" height="2.9" rx="0.9" fill="none" stroke="#5cb883" stroke-width="0.8"/>
<path d="M293.0,172.3L294.9,175.8L291.1,175.8Z" fill="none" stroke="#7890d4" stroke-width="0.8"/>
<path d="M248.9,169.0L250.8,165.6L247.0,165.6Z" fill="none" stroke="#d9c94e" stroke-width="0.8"/>
<path d="M249.6,184.2L251.5,187.6L247.7,187.6Z" fill="none" stroke="#7890d4" stroke-width="0.8"/>
<circle cx="257.1" cy="187.2" r="1.6" fill="none" stroke="#e2605c" stroke-width="0.8"/>
<circle cx="290.0" cy="153.1" r="1.6" fill="none" stroke="#e2605c" stroke-width="0.8"/>
<circle cx="257.5" cy="198.7" r="1.6" fill="none" stroke="#e2605c" stroke-width="0.8"/>
<path d="M274.8,166.7L276.7,170.1L272.9,170.1Z" fill="none" stroke="#7890d4" stroke-width="0.8"/>
<path d="M294.3,178.2L296.2,181.6L292.4,181.6Z" fill="none" stroke="#7890d4" stroke-width="0.8"/>
<rect x="273.7" y="157.3" width="2.9" height="2.9" rx="0.9" fill="none" stroke="#5cb883" stroke-width="0.8"/>
<circle cx="241.8" cy="195.0" r="1.6" fill="none" stroke="#e2605c" stroke-width="0.8"/>
<path d="M290.0,205.7L291.9,202.3L288.1,202.3Z" fill="none" stroke="#d9c94e" stroke-width="0.8"/>
<circle cx="282.6" cy="200.5" r="1.6" fill="none" stroke="#e2605c" stroke-width="0.8"/>
<rect x="252.3" y="158.1" width="2.9" height="2.9" rx="0.9" fill="none" stroke="#5cb883" stroke-width="0.8"/>
<path d="M258.4,152.2L260.3,155.6L256.5,155.6Z" fill="none" stroke="#7890d4" stroke-width="0.8"/>
<path d="M271.3,166.1L273.2,169.5L269.4,169.5Z" fill="none" stroke="#7890d4" stroke-width="0.8"/>
<rect x="288.5" y="198.0" width="2.9" height="2.9" rx="0.9" fill="none" stroke="#5cb883" stroke-width="0.8"/>
<path d="M284.8,209.0L286.7,205.5L282.9,205.5Z" fill="none" stroke="#d9c94e" stroke-width="0.8"/>
<rect x="258.8" y="184.9" width="2.9" height="2.9" rx="0.9" fill="none" stroke="#5cb883" stroke-width="0.8"/>
<path d="M247.1,148.2L249.0,151.6L245.2,151.6Z" fill="none" stroke="#7890d4" stroke-width="0.8"/>
<path d="M284.1,156.8L286.0,160.2L282.2,160.2Z" fill="none" stroke="#7890d4" stroke-width="0.8"/>
<path d="M293.7,202.0L295.6,205.4L291.8,205.4Z" fill="none" stroke="#7890d4" stroke-width="0.8"/>
<path d="M286.3,172.9L288.2,176.3L284.4,176.3Z" fill="none" stroke="#7890d4" stroke-width="0.8"/>
<path d="M307.6,190.4L309.5,187.0L305.7,187.0Z" fill="none" stroke="#d9c94e" stroke-width="0.8"/>
<path d="M298.6,201.4L300.5,198.0L296.7,198.0Z" fill="none" stroke="#d9c94e" stroke-width="0.8"/>
<circle cx="259.5" cy="178.9" r="1.6" fill="none" stroke="#e2605c" stroke-width="0.8"/>
<rect x="256.2" y="172.4" width="2.9" height="2.9" rx="0.9" fill="none" stroke="#5cb883" stroke-width="0.8"/>
<path d="M286.2,154.4L288.1,157.8L284.3,157.8Z" fill="none" stroke="#7890d4" stroke-width="0.8"/>
<rect x="254.1" y="174.0" width="2.9" height="2.9" rx="0.9" fill="none" stroke="#5cb883" stroke-width="0.8"/>
<path d="M261.8,199.5L263.7,196.1L259.9,196.1Z" fill="none" stroke="#d9c94e" stroke-width="0.8"/>
<path d="M270.8,185.0L272.7,188.4L268.9,188.4Z" fill="none" stroke="#7890d4" stroke-width="0.8"/>
<rect x="306.2" y="183.8" width="2.9" height="2.9" rx="0.9" fill="none" stroke="#5cb883" stroke-width="0.8"/>
<circle cx="269.0" cy="190.4" r="1.6" fill="none" stroke="#e2605c" stroke-width="0.8"/>
<circle cx="291.6" cy="186.2" r="1.6" fill="none" stroke="#e2605c" stroke-width="0.8"/>
<path d="M267.9,165.5L269.8,162.1L266.0,162.1Z" fill="none" stroke="#d9c94e" stroke-width="0.8"/>
<rect x="271.5" y="180.2" width="2.9" height="2.9" rx="0.9" fill="none" stroke="#5cb883" stroke-width="0.8"/>
<circle cx="272.7" cy="194.1" r="1.6" fill="none" stroke="#e2605c" stroke-width="0.8"/>
<rect x="270.4" y="214.4" width="2.9" height="2.9" rx="0.9" fill="none" stroke="#5cb883" stroke-width="0.8"/>
<path d="M252.8,166.8L254.7,163.4L250.9,163.4Z" fill="none" stroke="#d9c94e" stroke-width="0.8"/>
<circle cx="289.7" cy="191.1" r="1.6" fill="none" stroke="#e2605c" stroke-width="0.8"/>
<circle cx="232.0" cy="168.1" r="1.6" fill="none" stroke="#e2605c" stroke-width="0.8"/>
<circle cx="234.1" cy="147.2" r="1.6" fill="none" stroke="#e2605c" stroke-width="0.8"/>
<rect x="287.0" y="189.7" width="2.9" height="2.9" rx="0.9" fill="none" stroke="#5cb883" stroke-width="0.8"/>
<rect x="279.4" y="164.1" width="2.9" height="2.9" rx="0.9" fill="none" stroke="#5cb883" stroke-width="0.8"/>
<circle cx="269.5" cy="182.9" r="1.6" fill="none" stroke="#e2605c" stroke-width="0.8"/>
<circle cx="261.4" cy="183.2" r="1.6" fill="none" stroke="#e2605c" stroke-width="0.8"/>
<circle cx="249.3" cy="158.1" r="1.6" fill="none" stroke="#e2605c" stroke-width="0.8"/>
<circle cx="288.7" cy="208.6" r="1.6" fill="none" stroke="#e2605c" stroke-width="0.8"/>
<path d="M278.7,184.2L280.6,187.6L276.8,187.6Z" fill="none" stroke="#7890d4" stroke-width="0.8"/>
<path d="M305.3,194.1L307.2,190.7L303.4,190.7Z" fill="none" stroke="#d9c94e" stroke-width="0.8"/>
<rect x="222.0" y="156.6" width="2.9" height="2.9" rx="0.9" fill="none" stroke="#5cb883" stroke-width="0.8"/>
<path d="M282.9,158.4L284.8,154.9L281.0,154.9Z" fill="none" stroke="#d9c94e" stroke-width="0.8"/>
<path d="M273.7,166.9L275.6,163.5L271.8,163.5Z" fill="none" stroke="#d9c94e" stroke-width="0.8"/>
<path d="M270.4,184.2L272.3,180.8L268.5,180.8Z" fill="none" stroke="#d9c94e" stroke-width="0.8"/>
<circle cx="286.5" cy="202.5" r="1.6" fill="none" stroke="#e2605c" stroke-width="0.8"/>
<circle cx="269.0" cy="160.2" r="1.6" fill="none" stroke="#e2605c" stroke-width="0.8"/>
<rect x="246.8" y="136.6" width="2.9" height="2.9" rx="0.9" fill="none" stroke="#5cb883" stroke-width="0.8"/>
<rect x="300.0" y="183.4" width="2.9" height="2.9" rx="0.9" fill="none" stroke="#5cb883" stroke-width="0.8"/>
<circle cx="267.0" cy="159.3" r="1.6" fill="none" stroke="#e2605c" stroke-width="0.8"/>
<path d="M306.3,190.4L308.2,186.9L304.4,186.9Z" fill="none" stroke="#d9c94e" stroke-width="0.8"/>
<rect x="251.0" y="161.2" width="2.9" height="2.9" rx="0.9" fill="none" stroke="#5cb883" stroke-width="0.8"/>
<rect x="259.1" y="167.9" width="2.9" height="2.9" rx="0.9" fill="none" stroke="#5cb883" stroke-width="0.8"/>
<path d="M232.2,156.0L234.1,159.4L230.3,159.4Z" fill="none" stroke="#7890d4" stroke-width="0.8"/>
<rect x="288.7" y="196.3" width="2.9" height="2.9" rx="0.9" fill="none" stroke="#5cb883" stroke-width="0.8"/>
<rect x="253.0" y="185.1" width="2.9" height="2.9" rx="0.9" fill="none" stroke="#5cb883" stroke-width="0.8"/>
<path d="M307.8,163.5L309.7,167.0L305.9,167.0Z" fill="none" stroke="#7890d4" stroke-width="0.8"/>
<circle cx="263.1" cy="187.6" r="1.6" fill="none" stroke="#e2605c" stroke-width="0.8"/>
<rect x="284.2" y="159.0" width="2.9" height="2.9" rx="0.9" fill="none" stroke="#5cb883" stroke-width="0.8"/>
<path d="M270.1,174.6L272.0,171.2L268.2,171.2Z" fill="none" stroke="#d9c94e" stroke-width="0.8"/>
<circle cx="260.9" cy="194.3" r="1.6" fill="none" stroke="#e2605c" stroke-width="0.8"/>
<path d="M301.7,193.6L303.6,190.2L299.8,190.2Z" fill="none" stroke="#d9c94e" stroke-width="0.8"/>
<path d="M246.1,189.7L248.0,193.1L244.2,193.1Z" fill="none" stroke="#7890d4" stroke-width="0.8"/>
<path d="M267.1,191.4L269.0,187.9L265.2,187.9Z" fill="none" stroke="#d9c94e" stroke-width="0.8"/>
<path d="M242.7,135.1L244.6,138.5L240.8,138.5Z" fill="none" stroke="#7890d4" stroke-width="0.8"/>
<rect x="243.1" y="162.3" width="2.9" height="2.9" rx="0.9" fill="none" stroke="#5cb883" stroke-width="0.8"/>
<rect x="315.5" y="182.9" width="2.9" height="2.9" rx="0.9" fill="none" stroke="#5cb883" stroke-width="0.8"/>
<circle cx="297.5" cy="211.9" r="1.6" fill="none" stroke="#e2605c" stroke-width="0.8"/>
<circle cx="283.1" cy="179.1" r="1.6" fill="none" stroke="#e2605c" stroke-width="0.8"/>
<circle cx="250.7" cy="160.6" r="1.6" fill="none" stroke="#e2605c" stroke-width="0.8"/>
<path d="M279.2,196.1L281.1,192.7L277.3,192.7Z" fill="none" stroke="#d9c94e" stroke-width="0.8"/>
<rect x="310.9" y="173.1" width="2.9" height="2.9" rx="0.9" fill="none" stroke="#5cb883" stroke-width="0.8"/>
<rect x="254.6" y="182.3" width="2.9" height="2.9" rx="0.9" fill="none" stroke="#5cb883" stroke-width="0.8"/>
<circle cx="274.4" cy="199.1" r="1.6" fill="none" stroke="#e2605c" stroke-width="0.8"/>
<path d="M274.9,177.8L276.8,174.4L273.0,174.4Z" fill="none" stroke="#d9c94e" stroke-width="0.8"/>
<circle cx="289.1" cy="197.6" r="1.6" fill="none" stroke="#e2605c" stroke-width="0.8"/>
<path d="M252.2,167.5L254.1,170.9L250.3,170.9Z" fill="none" stroke="#7890d4" stroke-width="0.8"/>
<path d="M301.1,194.6L303.0,198.0L299.2,198.0Z" fill="none" stroke="#7890d4" stroke-width="0.8"/>
<rect x="284.1" y="148.5" width="2.9" height="2.9" rx="0.9" fill="none" stroke="#5cb883" stroke-width="0.8"/>
<path d="M268.4,193.8L270.3,190.4L266.5,190.4Z" fill="none" stroke="#d9c94e" stroke-width="0.8"/>
<circle cx="262.3" cy="164.8" r="1.6" fill="none" stroke="#e2605c" stroke-width="0.8"/>
<path d="M265.7,173.3L267.6,169.9L263.8,169.9Z" fill="none" stroke="#d9c94e" stroke-width="0.8"/>
<rect x="292.0" y="204.7" width="2.9" height="2.9" rx="0.9" fill="none" stroke="#5cb883" stroke-width="0.8"/>
<rect x="273.2" y="152.5" width="2.9" height="2.9" rx="0.9" fill="none" stroke="#5cb883" stroke-width="0.8"/>
<circle cx="272.3" cy="173.7" r="1.6" fill="none" stroke="#e2605c" stroke-width="0.8"/>
<circle cx="246.9" cy="173.5" r="1.6" fill="none" stroke="#e2605c" stroke-width="0.8"/>
<path d="M261.4,165.7L263.3,169.2L259.5,169.2Z" fill="none" stroke="#7890d4" stroke-width="0.8"/>
<circle cx="258.8" cy="198.3" r="1.6" fill="none" stroke="#e2605c" stroke-width="0.8"/>
<path d="M272.5,184.9L274.4,188.3L270.6,188.3Z" fill="none" stroke="#7890d4" stroke-width="0.8"/>
<rect x="274.5" y="171.3" width="2.9" height="2.9" rx="0.9" fill="none" stroke="#5cb883" stroke-width="0.8"/>
<circle cx="302.4" cy="190.7" r="1.6" fill="none" stroke="#e2605c" stroke-width="0.8"/>
<path d="M280.8,193.0L282.7,196.4L278.9,196.4Z" fill="none" stroke="#7890d4" stroke-width="0.8"/>
<path d="M253.2,163.1L255.1,166.5L251.3,166.5Z" fill="none" stroke="#7890d4" stroke-width="0.8"/>
<circle cx="258.4" cy="186.8" r="1.6" fill="none" stroke="#e2605c" stroke-width="0.8"/>
<circle cx="222.6" cy="169.3" r="1.6" fill="none" stroke="#e2605c" stroke-width="0.8"/>
<path d="M277.7,195.7L279.6,192.3L275.8,192.3Z" fill="none" stroke="#d9c94e" stroke-width="0.8"/>
<path d="M264.1,188.6L266.0,192.1L262.2,192.1Z" fill="none" stroke="#7890d4" stroke-width="0.8"/>
<path d="M259.5,186.2L261.4,182.8L257.6,182.8Z" fill="none" stroke="#d9c94e" stroke-width="0.8"/>
<path d="M261.7,212.0L263.6,215.4L259.8,215.4Z" fill="none" stroke="#7890d4" stroke-width="0.8"/>
<path d="M289.1,203.7L291.0,200.3L287.2,200.3Z" fill="none" stroke="#d9c94e" stroke-width="0.8"/>
<circle cx="267.3" cy="168.2" r="1.6" fill="none" stroke="#e2605c" stroke-width="0.8"/>
<rect x="248.5" y="164.9" width="2.9" height="2.9" rx="0.9" fill="none" stroke="#5cb883" stroke-width="0.8"/>
<rect x="257.6" y="176.9" width="2.9" height="2.9" rx="0.9" fill="none" stroke="#5cb883" stroke-width="0.8"/>
<path d="M282.5,194.1L284.4,197.6L280.6,197.6Z" fill="none" stroke="#7890d4" stroke-width="0.8"/>
<circle cx="286.7" cy="175.4" r="1.6" fill="none" stroke="#e2605c" stroke-width="0.8"/>
<path d="M254.4,174.1L256.3,177.6L252.5,177.6Z" fill="none" stroke="#7890d4" stroke-width="0.8"/>
<circle cx="250.9" cy="142.3" r="1.6" fill="none" stroke="#e2605c" stroke-width="0.8"/>
<circle cx="256.3" cy="186.5" r="1.6" fill="none" stroke="#e2605c" stroke-width="0.8"/>
<circle cx="237.3" cy="207.9" r="1.6" fill="none" stroke="#e2605c" stroke-width="0.8"/>
<rect x="283.1" y="186.3" width="2.9" height="2.9" rx="0.9" fill="none" stroke="#5cb883" stroke-width="0.8"/>
<circle cx="277.6" cy="147.0" r="1.6" fill="none" stroke="#e2605c" stroke-width="0.8"/>
<rect x="249.1" y="189.8" width="2.9" height="2.9" rx="0.9" fill="none" stroke="#5cb883" stroke-width="0.8"/>
<circle cx="263.3" cy="201.3" r="1.6" fill="none" stroke="#e2605c" stroke-width="0.8"/>
<circle cx="250.5" cy="177.8" r="1.6" fill="none" stroke="#e2605c" stroke-width="0.8"/>
<rect x="271.5" y="197.0" width="2.9" height="2.9" rx="0.9" fill="none" stroke="#5cb883" stroke-width="0.8"/>
<path d="M243.9,175.8L245.8,172.4L242.0,172.4Z" fill="none" stroke="#d9c94e" stroke-width="0.8"/>
<path d="M268.7,183.7L270.6,180.3L266.8,180.3Z" fill="none" stroke="#d9c94e" stroke-width="0.8"/>
<path d="M290.2,188.3L292.1,191.7L288.3,191.7Z" fill="none" stroke="#7890d4" stroke-width="0.8"/>
<circle cx="265.2" cy="190.6" r="1.6" fill="none" stroke="#e2605c" stroke-width="0.8"/>
<circle cx="255.1" cy="179.6" r="1.6" fill="none" stroke="#e2605c" stroke-width="0.8"/>
<path d="M254.9,166.1L256.8,169.5L253.0,169.5Z" fill="none" stroke="#7890d4" stroke-width="0.8"/>
<rect x="262.5" y="181.9" width="2.9" height="2.9" rx="0.9" fill="none" stroke="#5cb883" stroke-width="0.8"/>
<path d="M285.9,175.5L287.8,172.1L284.0,172.1Z" fill="none" stroke="#d9c94e" stroke-width="0.8"/>
<circle cx="255.8" cy="190.5" r="1.6" fill="none" stroke="#e2605c" stroke-width="0.8"/>
<rect x="247.1" y="165.0" width="2.9" height="2.9" rx="0.9" fill="none" stroke="#5cb883" stroke-width="0.8"/>
<circle cx="292.0" cy="179.1" r="1.6" fill="none" stroke="#e2605c" stroke-width="0.8"/>
<rect x="267.4" y="172.0" width="2.9" height="2.9" rx="0.9" fill="none" stroke="#5cb883" stroke-width="0.8"/>
<rect x="254.9" y="158.8" width="2.9" height="2.9" rx="0.9" fill="none" stroke="#5cb883" stroke-width="0.8"/>
<circle cx="250.0" cy="215.9" r="1.6" fill="none" stroke="#e2605c" stroke-width="0.8"/>
<path d="M245.3,185.5L247.2,182.1L243.4,182.1Z" fill="none" stroke="#d9c94e" stroke-width="0.8"/>
<path d="M249.0,157.0L250.9,160.4L247.1,160.4Z" fill="none" stroke="#7890d4" stroke-width="0.8"/>
<rect x="294.5" y="222.0" width="2.9" height="2.9" rx="0.9" fill="none" stroke="#5cb883" stroke-width="0.8"/>
<rect x="286.9" y="178.6" width="2.9" height="2.9" rx="0.9" fill="none" stroke="#5cb883" stroke-width="0.8"/>
<path d="M233.5,166.4L235.4,162.9L231.6,162.9Z" fill="none" stroke="#d9c94e" stroke-width="0.8"/>
<path d="M263.0,187.7L264.9,191.1L261.1,191.1Z" fill="none" stroke="#7890d4" stroke-width="0.8"/>
<path d="M251.4,159.7L253.3,156.3L249.5,156.3Z" fill="none" stroke="#d9c94e" stroke-width="0.8"/>
<rect x="293.1" y="169.3" width="2.9" height="2.9" rx="0.9" fill="none" stroke="#5cb883" stroke-width="0.8"/>
<circle cx="257.3" cy="177.5" r="1.6" fill="none" stroke="#e2605c" stroke-width="0.8"/>
<path d="M290.4,205.1L292.3,208.5L288.5,208.5Z" fill="none" stroke="#7890d4" stroke-width="0.8"/>
<circle cx="254.7" cy="191.0" r="1.6" fill="none" stroke="#e2605c" stroke-width="0.8"/>
<path d="M286.4,204.9L288.3,201.5L284.5,201.5Z" fill="none" stroke="#d9c94e" stroke-width="0.8"/>
<circle cx="240.5" cy="206.5" r="1.6" fill="none" stroke="#e2605c" stroke-width="0.8"/>
<circle cx="235.4" cy="178.2" r="1.6" fill="none" stroke="#e2605c" stroke-width="0.8"/>
<path d="M272.0,182.6L273.9,179.1L270.1,179.1Z" fill="none" stroke="#d9c94e" stroke-width="0.8"/>
<path d="M271.8,186.7L273.7,183.3L269.9,183.3Z" fill="none" stroke="#d9c94e" stroke-width="0.8"/>
<path d="M248.1,157.9L250.0,161.3L246.2,161.3Z" fill="none" stroke="#7890d4" stroke-width="0.8"/>
<rect x="265.3" y="152.1" width="2.9" height="2.9" rx="0.9" fill="none" stroke="#5cb883" stroke-width="0.8"/>
<path d="M291.6,205.0L293.5,201.6L289.7,201.6Z" fill="none" stroke="#d9c94e" stroke-width="0.8"/>
<circle cx="296.1" cy="197.3" r="1.6" fill="none" stroke="#e2605c" stroke-width="0.8"/>
<circle cx="270.0" cy="174.3" r="1.6" fill="none" stroke="#e2605c" stroke-width="0.8"/>
<rect x="275.0" y="178.7" width="2.9" height="2.9" rx="0.9" fill="none" stroke="#5cb883" stroke-width="0.8"/>
<circle cx="280.5" cy="208.6" r="1.6" fill="none" stroke="#e2605c" stroke-width="0.8"/>
<path d="M274.2,180.3L276.1,176.9L272.3,176.9Z" fill="none" stroke="#d9c94e" stroke-width="0.8"/>
<circle cx="270.0" cy="160.2" r="1.6" fill="none" stroke="#e2605c" stroke-width="0.8"/>
<rect x="256.9" y="165.1" width="2.9" height="2.9" rx="0.9" fill="none" stroke="#5cb883" stroke-width="0.8"/>
<circle cx="292.4" cy="198.5" r="1.6" fill="none" stroke="#e2605c" stroke-width="0.8"/>
<circle cx="281.3" cy="185.9" r="1.6" fill="none" stroke="#e2605c" stroke-width="0.8"/>
<rect x="271.9" y="161.6" width="2.9" height="2.9" rx="0.9" fill="none" stroke="#5cb883" stroke-width="0.8"/>
<circle cx="288.0" cy="201.2" r="1.6" fill="none" stroke="#e2605c" stroke-width="0.8"/>
<circle cx="274.2" cy="196.7" r="1.6" fill="none" stroke="#e2605c" stroke-width="0.8"/>
<path d="M284.1,172.9L286.0,176.3L282.2,176.3Z" fill="none" stroke="#7890d4" stroke-width="0.8"/>
<circle cx="241.8" cy="191.9" r="1.6" fill="none" stroke="#e2605c" stroke-width="0.8"/>
<circle cx="256.5" cy="176.1" r="1.6" fill="none" stroke="#e2605c" stroke-width="0.8"/>
<circle cx="277.7" cy="173.0" r="1.6" fill="none" stroke="#e2605c" stroke-width="0.8"/>
<circle cx="266.3" cy="178.8" r="1.6" fill="none" stroke="#e2605c" stroke-width="0.8"/>
<circle cx="241.4" cy="155.5" r="1.6" fill="none" stroke="#e2605c" stroke-width="0.8"/>
<circle cx="285.7" cy="173.8" r="1.6" fill="none" stroke="#e2605c" stroke-width="0.8"/>
<path d="M300.0,189.4L301.9,192.8L298.1,192.8Z" fill="none" stroke="#7890d4" stroke-width="0.8"/>
<circle cx="247.0" cy="156.2" r="1.6" fill="none" stroke="#e2605c" stroke-width="0.8"/>
<rect x="262.1" y="152.9" width="2.9" height="2.9" rx="0.9" fill="none" stroke="#5cb883" stroke-width="0.8"/>
<path d="M277.9,179.0L279.8,182.4L276.0,182.4Z" fill="none" stroke="#7890d4" stroke-width="0.8"/>
<circle cx="244.6" cy="188.0" r="1.6" fill="none" stroke="#e2605c" stroke-width="0.8"/>
<rect x="264.5" y="205.5" width="2.9" height="2.9" rx="0.9" fill="none" stroke="#5cb883" stroke-width="0.8"/>
<rect x="257.9" y="181.7" width="2.9" height="2.9" rx="0.9" fill="none" stroke="#5cb883" stroke-width="0.8"/>
<path d="M234.3,167.9L236.2,164.5L232.4,164.5Z" fill="none" stroke="#d9c94e" stroke-width="0.8"/>
<path d="M234.6,207.4L236.5,204.0L232.7,204.0Z" fill="none" stroke="#d9c94e" stroke-width="0.8"/>
<rect x="275.0" y="171.5" width="2.9" height="2.9" rx="0.9" fill="none" stroke="#5cb883" stroke-width="0.8"/>
<path d="M283.1,169.2L285.0,172.6L281.2,172.6Z" fill="none" stroke="#7890d4" stroke-width="0.8"/>
<path d="M282.6,172.5L284.5,176.0L280.7,176.0Z" fill="none" stroke="#7890d4" stroke-width="0.8"/>
<circle cx="251.4" cy="180.9" r="1.6" fill="none" stroke="#e2605c" stroke-width="0.8"/>
<path d="M282.4,195.3L284.3,191.9L280.5,191.9Z" fill="none" stroke="#d9c94e" stroke-width="0.8"/>
<circle cx="275.9" cy="201.2" r="1.6" fill="none" stroke="#e2605c" stroke-width="0.8"/>
<path d="M261.4,180.0L263.3,176.6L259.5,176.6Z" fill="none" stroke="#d9c94e" stroke-width="0.8"/>
<rect x="274.1" y="187.6" width="2.9" height="2.9" rx="0.9" fill="none" stroke="#5cb883" stroke-width="0.8"/>
<path d="M244.5,181.3L246.4,177.9L242.6,177.9Z" fill="none" stroke="#d9c94e" stroke-width="0.8"/>
<circle cx="265.7" cy="173.4" r="1.6" fill="none" stroke="#e2605c" stroke-width="0.8"/>
<circle cx="267.8" cy="177.6" r="1.6" fill="none" stroke="#e2605c" stroke-width="0.8"/>
<rect x="256.0" y="193.5" width="2.9" height="2.9" rx="0.9" fill="none" stroke="#5cb883" stroke-width="0.8"/>
<circle cx="273.5" cy="207.5" r="1.6" fill="none" stroke="#e2605c" stroke-width="0.8"/>
<rect x="254.6" y="182.3" width="2.9" height="2.9" rx="0.9" fill="none" stroke="#5cb883" stroke-width="0.8"/>
<path d="M255.8,168.2L257.7,164.7L253.9,164.7Z" fill="none" stroke="#d9c94e" stroke-width="0.8"/>
<path d="M277.8,212.4L279.7,209.0L275.9,209.0Z" fill="none" stroke="#d9c94e" stroke-width="0.8"/>
<path d="M271.1,156.2L273.0,159.6L269.2,159.6Z" fill="none" stroke="#7890d4" stroke-width="0.8"/>
<path d="M291.5,192.6L293.4,196.0L289.6,196.0Z" fill="none" stroke="#7890d4" stroke-width="0.8"/>
<path d="M255.5,180.2L257.4,183.6L253.6,183.6Z" fill="none" stroke="#7890d4" stroke-width="0.8"/>
<path d="M256.1,167.2L258.0,163.8L254.2,163.8Z" fill="none" stroke="#d9c94e" stroke-width="0.8"/>
<rect x="298.8" y="193.7" width="2.9" height="2.9" rx="0.9" fill="none" stroke="#5cb883" stroke-width="0.8"/>
<circle cx="278.9" cy="179.5" r="1.6" fill="none" stroke="#e2605c" stroke-width="0.8"/>
<path d="M266.6,163.5L268.5,160.1L264.7,160.1Z" fill="none" stroke="#d9c94e" stroke-width="0.8"/>
<rect x="292.4" y="162.0" width="2.9" height="2.9" rx="0.9" fill="none" stroke="#5cb883" stroke-width="0.8"/>
<path d="M288.0,185.3L289.9,188.7L286.1,188.7Z" fill="none" stroke="#7890d4" stroke-width="0.8"/>
<rect x="253.2" y="176.0" width="2.9" height="2.9" rx="0.9" fill="none" stroke="#5cb883" stroke-width="0.8"/>
<path d="M256.7,177.4L258.6,174.0L254.8,174.0Z" fill="none" stroke="#d9c94e" stroke-width="0.8"/>
<rect x="228.4" y="164.2" width="2.9" height="2.9" rx="0.9" fill="none" stroke="#5cb883" stroke-width="0.8"/>
<rect x="244.5" y="156.5" width="2.9" height="2.9" rx="0.9" fill="none" stroke="#5cb883" stroke-width="0.8"/>
<path d="M262.1,182.6L264.0,179.2L260.2,179.2Z" fill="none" stroke="#d9c94e" stroke-width="0.8"/>
<path d="M226.1,185.2L228.0,181.8L224.2,181.8Z" fill="none" stroke="#d9c94e" stroke-width="0.8"/>
<rect x="264.4" y="180.9" width="2.9" height="2.9" rx="0.9" fill="none" stroke="#5cb883" stroke-width="0.8"/>
<rect x="255.5" y="183.5" width="2.9" height="2.9" rx="0.9" fill="none" stroke="#5cb883" stroke-width="0.8"/>
<circle cx="232.9" cy="144.3" r="1.6" fill="none" stroke="#e2605c" stroke-width="0.8"/>
<path d="M269.2,173.4L271.1,169.9L267.3,169.9Z" fill="none" stroke="#d9c94e" stroke-width="0.8"/>
<path d="M273.9,175.4L275.8,172.0L272.0,172.0Z" fill="none" stroke="#d9c94e" stroke-width="0.8"/>
<path d="M254.9,198.4L256.8,201.8L253.0,201.8Z" fill="none" stroke="#7890d4" stroke-width="0.8"/>
<path d="M239.5,180.3L241.4,176.9L237.6,176.9Z" fill="none" stroke="#d9c94e" stroke-width="0.8"/>
<circle cx="277.3" cy="201.1" r="1.6" fill="none" stroke="#e2605c" stroke-width="0.8"/>
<circle cx="273.2" cy="169.7" r="1.6" fill="none" stroke="#e2605c" stroke-width="0.8"/>
<path d="M268.8,186.2L270.7,189.6L266.9,189.6Z" fill="none" stroke="#7890d4" stroke-width="0.8"/>
<path d="M259.4,175.3L261.3,171.9L257.5,171.9Z" fill="none" stroke="#d9c94e" stroke-width="0.8"/>
<rect x="255.7" y="197.6" width="2.9" height="2.9" rx="0.9" fill="none" stroke="#5cb883" stroke-width="0.8"/>
<circle cx="271.0" cy="170.6" r="1.6" fill="none" stroke="#e2605c" stroke-width="0.8"/>
<circle cx="228.9" cy="165.6" r="1.6" fill="none" stroke="#e2605c" stroke-width="0.8"/>
<path d="M283.8,187.9L285.7,184.5L281.9,184.5Z" fill="none" stroke="#d9c94e" stroke-width="0.8"/>
<circle cx="286.7" cy="194.1" r="1.6" fill="none" stroke="#e2605c" stroke-width="0.8"/>
<circle cx="247.3" cy="184.4" r="1.6" fill="none" stroke="#e2605c" stroke-width="0.8"/>
<path d="M232.2,192.9L234.1,189.5L230.3,189.5Z" fill="none" stroke="#d9c94e" stroke-width="0.8"/>
<path d="M302.9,154.7L304.8,151.2L301.0,151.2Z" fill="none" stroke="#d9c94e" stroke-width="0.8"/>
<path d="M252.1,157.7L254.0,154.3L250.2,154.3Z" fill="none" stroke="#d9c94e" stroke-width="0.8"/>
<rect x="252.4" y="164.7" width="2.9" height="2.9" rx="0.9" fill="none" stroke="#5cb883" stroke-width="0.8"/>
<circle cx="307.5" cy="168.3" r="1.6" fill="none" stroke="#e2605c" stroke-width="0.8"/>
<rect x="241.1" y="163.4" width="2.9" height="2.9" rx="0.9" fill="none" stroke="#5cb883" stroke-width="0.8"/>
<path d="M276.5,174.9L278.4,178.4L274.6,178.4Z" fill="none" stroke="#7890d4" stroke-width="0.8"/>
<rect x="285.3" y="174.1" width="2.9" height="2.9" rx="0.9" fill="none" stroke="#5cb883" stroke-width="0.8"/>
<circle cx="267.1" cy="192.9" r="1.6" fill="none" stroke="#e2605c" stroke-width="0.8"/>
<path d="M259.2,190.5L261.1,187.1L257.3,187.1Z" fill="none" stroke="#d9c94e" stroke-width="0.8"/>
<circle cx="263.6" cy="168.7" r="1.6" fill="none" stroke="#e2605c" stroke-width="0.8"/>
<path d="M271.1,170.2L273.0,173.6L269.2,173.6Z" fill="none" stroke="#7890d4" stroke-width="0.8"/>
<circle cx="266.4" cy="186.4" r="1.6" fill="none" stroke="#e2605c" stroke-width="0.8"/>
<path d="M268.4,168.0L270.3,171.5L266.5,171.5Z" fill="none" stroke="#7890d4" stroke-width="0.8"/>
<path d="M285.0,178.5L286.9,181.9L283.1,181.9Z" fill="none" stroke="#7890d4" stroke-width="0.8"/>
<path d="M243.4,204.0L245.3,200.6L241.5,200.6Z" fill="none" stroke="#d9c94e" stroke-width="0.8"/>
<circle cx="250.8" cy="212.4" r="1.6" fill="none" stroke="#e2605c" stroke-width="0.8"/>
<rect x="289.7" y="183.7" width="2.9" height="2.9" rx="0.9" fill="none" stroke="#5cb883" stroke-width="0.8"/>
<path d="M248.9,174.3L250.8,177.7L247.0,177.7Z" fill="none" stroke="#7890d4" stroke-width="0.8"/>
<circle cx="238.2" cy="167.1" r="1.6" fill="none" stroke="#e2605c" stroke-width="0.8"/>
<rect x="269.9" y="165.0" width="2.9" height="2.9" rx="0.9" fill="none" stroke="#5cb883" stroke-width="0.8"/>
<path d="M264.6,182.4L266.5,179.0L262.7,179.0Z" fill="none" stroke="#d9c94e" stroke-width="0.8"/>
<circle cx="261.8" cy="182.2" r="1.6" fill="none" stroke="#e2605c" stroke-width="0.8"/>
<circle cx="297.8" cy="206.2" r="1.6" fill="none" stroke="#e2605c" stroke-width="0.8"/>
<circle cx="220.1" cy="163.9" r="1.6" fill="none" stroke="#e2605c" stroke-width="0.8"/>
<path d="M283.0,189.8L284.9,186.3L281.1,186.3Z" fill="none" stroke="#d9c94e" stroke-width="0.8"/>
<circle cx="243.3" cy="183.9" r="1.6" fill="none" stroke="#e2605c" stroke-width="0.8"/>
<rect x="275.3" y="167.6" width="2.9" height="2.9" rx="0.9" fill="none" stroke="#5cb883" stroke-width="0.8"/>
<circle cx="274.5" cy="177.8" r="1.6" fill="none" stroke="#e2605c" stroke-width="0.8"/>
<circle cx="289.3" cy="189.1" r="1.6" fill="none" stroke="#e2605c" stroke-width="0.8"/>
<path d="M259.3,174.7L261.2,171.3L257.4,171.3Z" fill="none" stroke="#d9c94e" stroke-width="0.8"/>
<rect x="308.4" y="216.1" width="2.9" height="2.9" rx="0.9" fill="none" stroke="#5cb883" stroke-width="0.8"/>
<circle cx="273.1" cy="180.8" r="1.6" fill="none" stroke="#e2605c" stroke-width="0.8"/>
<path d="M284.6,210.7L286.5,207.2L282.7,207.2Z" fill="none" stroke="#d9c94e" stroke-width="0.8"/>
<circle cx="249.7" cy="177.9" r="1.6" fill="none" stroke="#e2605c" stroke-width="0.8"/>
<path d="M261.1,176.6L263.0,173.2L259.2,173.2Z" fill="none" stroke="#d9c94e" stroke-width="0.8"/>
<circle cx="257.7" cy="179.4" r="1.6" fill="none" stroke="#e2605c" stroke-width="0.8"/>
<circle cx="237.6" cy="155.4" r="1.6" fill="none" stroke="#e2605c" stroke-width="0.8"/>
<circle cx="233.8" cy="175.9" r="1.6" fill="none" stroke="#e2605c" stroke-width="0.8"/>
<rect x="265.8" y="188.3" width="2.9" height="2.9" rx="0.9" fill="none" stroke="#5cb883" stroke-width="0.8"/>
<circle cx="234.3" cy="169.1" r="1.6" fill="none" stroke="#e2605c" stroke-width="0.8"/>
<path d="M264.5,197.7L266.4,201.1L262.6,201.1Z" fill="none" stroke="#7890d4" stroke-width="0.8"/>
<circle cx="279.6" cy="183.3" r="1.6" fill="none" stroke="#e2605c" stroke-width="0.8"/>
<rect x="286.3" y="201.6" width="2.9" height="2.9" rx="0.9" fill="none" stroke="#5cb883" stroke-width="0.8"/>
<path d="M291.4,198.0L293.3,194.5L289.5,194.5Z" fill="none" stroke="#d9c94e" stroke-width="0.8"/>
<path d="M272.6,181.7L274.5,185.2L270.7,185.2Z" fill="none" stroke="#7890d4" stroke-width="0.8"/>
<circle cx="265.6" cy="154.5" r="1.6" fill="none" stroke="#e2605c" stroke-width="0.8"/>
<rect x="257.4" y="171.1" width="2.9" height="2.9" rx="0.9" fill="none" stroke="#5cb883" stroke-width="0.8"/>
<path d="M266.2,202.3L268.1,205.7L264.3,205.7Z" fill="none" stroke="#7890d4" stroke-width="0.8"/>
<path d="M267.6,196.4L269.5,193.0L265.7,193.0Z" fill="none" stroke="#d9c94e" stroke-width="0.8"/>
<circle cx="278.0" cy="159.8" r="1.6" fill="none" stroke="#e2605c" stroke-width="0.8"/>
<path d="M278.3,167.7L280.2,164.3L276.4,164.3Z" fill="none" stroke="#d9c94e" stroke-width="0.8"/>
<rect x="287.0" y="188.0" width="2.9" height="2.9" rx="0.9" fill="none" stroke="#5cb883" stroke-width="0.8"/>
<circle cx="315.5" cy="172.9" r="1.6" fill="none" stroke="#e2605c" stroke-width="0.8"/>
<circle cx="275.5" cy="193.7" r="1.6" fill="none" stroke="#e2605c" stroke-width="0.8"/>
<rect x="268.7" y="165.2" width="2.9" height="2.9" rx="0.9" fill="none" stroke="#5cb883" stroke-width="0.8"/>
<path d="M275.9,167.7L277.8,171.2L274.0,171.2Z" fill="none" stroke="#7890d4" stroke-width="0.8"/>
<path d="M244.2,175.4L246.1,171.9L242.3,171.9Z" fill="none" stroke="#d9c94e" stroke-width="0.8"/>
<rect x="236.2" y="176.0" width="2.9" height="2.9" rx="0.9" fill="none" stroke="#5cb883" stroke-width="0.8"/>
<path d="M288.2,203.7L290.1,200.2L286.3,200.2Z" fill="none" stroke="#d9c94e" stroke-width="0.8"/>
<path d="M258.1,155.2L260.0,151.8L256.2,151.8Z" fill="none" stroke="#d9c94e" stroke-width="0.8"/>
<circle cx="294.2" cy="193.3" r="1.6" fill="none" stroke="#e2605c" stroke-width="0.8"/>
<circle cx="255.6" cy="186.6" r="1.6" fill="none" stroke="#e2605c" stroke-width="0.8"/>
<path d="M262.2,192.8L264.1,196.2L260.3,196.2Z" fill="none" stroke="#7890d4" stroke-width="0.8"/>
<path d="M263.5,185.1L265.4,181.7L261.6,181.7Z" fill="none" stroke="#d9c94e" stroke-width="0.8"/>
<circle cx="281.0" cy="167.6" r="1.6" fill="none" stroke="#e2605c" stroke-width="0.8"/>
<circle cx="248.9" cy="165.9" r="1.6" fill="none" stroke="#e2605c" stroke-width="0.8"/>
<circle cx="241.5" cy="189.9" r="1.6" fill="none" stroke="#e2605c" stroke-width="0.8"/>
<rect x="302.8" y="200.7" width="2.9" height="2.9" rx="0.9" fill="none" stroke="#5cb883" stroke-width="0.8"/>
<circle cx="289.4" cy="181.6" r="1.6" fill="none" stroke="#e2605c" stroke-width="0.8"/>
<rect x="276.7" y="172.6" width="2.9" height="2.9" rx="0.9" fill="none" stroke="#5cb883" stroke-width="0.8"/>
<circle cx="245.8" cy="192.8" r="1.6" fill="none" stroke="#e2605c" stroke-width="0.8"/>
<circle cx="280.7" cy="187.6" r="1.6" fill="none" stroke="#e2605c" stroke-width="0.8"/>
<rect x="297.9" y="207.9" width="2.9" height="2.9" rx="0.9" fill="none" stroke="#5cb883" stroke-width="0.8"/>
<circle cx="259.9" cy="194.6" r="1.6" fill="none" stroke="#e2605c" stroke-width="0.8"/>
<path d="M264.3,174.1L266.2,170.7L262.4,170.7Z" fill="none" stroke="#d9c94e" stroke-width="0.8"/>
<rect x="274.1" y="177.1" width="2.9" height="2.9" rx="0.9" fill="none" stroke="#5cb883" stroke-width="0.8"/>
<rect x="275.3" y="196.9" width="2.9" height="2.9" rx="0.9" fill="none" stroke="#5cb883" stroke-width="0.8"/>
<path d="M236.2,182.0L238.1,178.6L234.3,178.6Z" fill="none" stroke="#d9c94e" stroke-width="0.8"/>
<rect x="291.8" y="181.5" width="2.9" height="2.9" rx="0.9" fill="none" stroke="#5cb883" stroke-width="0.8"/>
<path d="M273.1,186.4L275.0,182.9L271.2,182.9Z" fill="none" stroke="#d9c94e" stroke-width="0.8"/>
<circle cx="282.2" cy="186.8" r="1.6" fill="none" stroke="#e2605c" stroke-width="0.8"/>
<circle cx="246.7" cy="172.8" r="1.6" fill="none" stroke="#e2605c" stroke-width="0.8"/>
<circle cx="242.4" cy="189.3" r="1.6" fill="none" stroke="#e2605c" stroke-width="0.8"/>
<rect x="235.1" y="169.8" width="2.9" height="2.9" rx="0.9" fill="none" stroke="#5cb883" stroke-width="0.8"/>
<rect x="296.8" y="183.9" width="2.9" height="2.9" rx="0.9" fill="none" stroke="#5cb883" stroke-width="0.8"/>
<path d="M278.2,155.4L280.1,152.0L276.3,152.0Z" fill="none" stroke="#d9c94e" stroke-width="0.8"/>
<rect x="263.5" y="191.2" width="2.9" height="2.9" rx="0.9" fill="none" stroke="#5cb883" stroke-width="0.8"/>
<path d="M257.8,201.7L259.7,198.3L255.9,198.3Z" fill="none" stroke="#d9c94e" stroke-width="0.8"/>
<path d="M271.0,194.8L272.9,198.3L269.1,198.3Z" fill="none" stroke="#7890d4" stroke-width="0.8"/>
<path d="M274.6,187.3L276.5,183.9L272.7,183.9Z" fill="none" stroke="#d9c94e" stroke-width="0.8"/>
<circle cx="276.0" cy="178.3" r="1.6" fill="none" stroke="#e2605c" stroke-width="0.8"/>
<path d="M261.4,193.5L263.3,190.1L259.5,190.1Z" fill="none" stroke="#d9c94e" stroke-width="0.8"/>
<path d="M270.2,148.8L272.1,152.2L268.3,152.2Z" fill="none" stroke="#7890d4" stroke-width="0.8"/>
<path d="M254.5,184.3L256.4,187.7L252.6,187.7Z" fill="none" stroke="#7890d4" stroke-width="0.8"/>
<path d="M290.7,181.3L292.6,184.7L288.8,184.7Z" fill="none" stroke="#7890d4" stroke-width="0.8"/>
<rect x="315.4" y="199.3" width="2.9" height="2.9" rx="0.9" fill="none" stroke="#5cb883" stroke-width="0.8"/>
<rect x="267.0" y="186.7" width="2.9" height="2.9" rx="0.9" fill="none" stroke="#5cb883" stroke-width="0.8"/>
<rect x="259.1" y="192.3" width="2.9" height="2.9" rx="0.9" fill="none" stroke="#5cb883" stroke-width="0.8"/>
<path d="M265.6,193.2L267.5,196.6L263.7,196.6Z" fill="none" stroke="#7890d4" stroke-width="0.8"/>
<circle cx="265.3" cy="154.0" r="1.6" fill="none" stroke="#e2605c" stroke-width="0.8"/>
<path d="M246.7,173.9L248.6,177.3L244.8,177.3Z" fill="none" stroke="#7890d4" stroke-width="0.8"/>
<circle cx="267.4" cy="163.6" r="1.6" fill="none" stroke="#e2605c" stroke-width="0.8"/>
<path d="M293.9,183.9L295.8,187.3L292.0,187.3Z" fill="none" stroke="#7890d4" stroke-width="0.8"/>
<path d="M241.9,174.8L243.8,178.2L240.0,178.2Z" fill="none" stroke="#7890d4" stroke-width="0.8"/>
<path d="M239.9,164.8L241.8,168.2L238.0,168.2Z" fill="none" stroke="#7890d4" stroke-width="0.8"/>
<path d="M270.2,165.7L272.1,169.2L268.3,169.2Z" fill="none" stroke="#7890d4" stroke-width="0.8"/>
<path d="M234.8,180.6L236.7,184.1L232.9,184.1Z" fill="none" stroke="#7890d4" stroke-width="0.8"/>
<path d="M292.2,179.6L294.1,176.2L290.3,176.2Z" fill="none" stroke="#d9c94e" stroke-width="0.8"/>
<circle cx="283.2" cy="193.9" r="1.6" fill="none" stroke="#e2605c" stroke-width="0.8"/>
<path d="M284.0,175.7L285.9,179.1L282.1,179.1Z" fill="none" stroke="#7890d4" stroke-width="0.8"/>
<path d="M283.3,201.1L285.2,197.7L281.4,197.7Z" fill="none" stroke="#d9c94e" stroke-width="0.8"/>
<rect x="275.9" y="182.6" width="2.9" height="2.9" rx="0.9" fill="none" stroke="#5cb883" stroke-width="0.8"/>
<path d="M288.3,161.4L290.2,164.8L286.4,164.8Z" fill="none" stroke="#7890d4" stroke-width="0.8"/>
<path d="M272.5,196.9L274.4,200.3L270.6,200.3Z" fill="none" stroke="#7890d4" stroke-width="0.8"/>
<circle cx="275.5" cy="163.4" r="1.6" fill="none" stroke="#e2605c" stroke-width="0.8"/>
<path d="M232.8,169.5L234.7,172.9L230.9,172.9Z" fill="none" stroke="#7890d4" stroke-width="0.8"/>
<circle cx="267.5" cy="163.4" r="1.6" fill="none" stroke="#e2605c" stroke-width="0.8"/>
<path d="M299.0,170.0L300.9,173.4L297.1,173.4Z" fill="none" stroke="#7890d4" stroke-width="0.8"/>
<circle cx="254.6" cy="168.2" r="1.6" fill="none" stroke="#e2605c" stroke-width="0.8"/>
<circle cx="244.8" cy="180.4" r="1.6" fill="none" stroke="#e2605c" stroke-width="0.8"/>
<path d="M282.7,187.8L284.6,184.4L280.8,184.4Z" fill="none" stroke="#d9c94e" stroke-width="0.8"/>
<rect x="265.8" y="159.9" width="2.9" height="2.9" rx="0.9" fill="none" stroke="#5cb883" stroke-width="0.8"/>
<path d="M270.8,181.9L272.7,185.3L268.9,185.3Z" fill="none" stroke="#7890d4" stroke-width="0.8"/>
<path d="M290.1,166.2L292.0,162.7L288.2,162.7Z" fill="none" stroke="#d9c94e" stroke-width="0.8"/>
<path d="M298.8,187.5L300.7,190.9L296.9,190.9Z" fill="none" stroke="#7890d4" stroke-width="0.8"/>
<rect x="281.0" y="193.6" width="2.9" height="2.9" rx="0.9" fill="none" stroke="#5cb883" stroke-width="0.8"/>
<path d="M281.3,195.0L283.2,198.4L279.4,198.4Z" fill="none" stroke="#7890d4" stroke-width="0.8"/>
<path d="M309.1,202.5L311.0,205.9L307.2,205.9Z" fill="none" stroke="#7890d4" stroke-width="0.8"/>
<rect x="261.0" y="180.3" width="2.9" height="2.9" rx="0.9" fill="none" stroke="#5cb883" stroke-width="0.8"/>
<circle cx="317.2" cy="174.3" r="1.6" fill="none" stroke="#e2605c" stroke-width="0.8"/>
<rect x="232.7" y="149.7" width="2.9" height="2.9" rx="0.9" fill="none" stroke="#5cb883" stroke-width="0.8"/>
<rect x="285.2" y="165.5" width="2.9" height="2.9" rx="0.9" fill="none" stroke="#5cb883" stroke-width="0.8"/>
<circle cx="258.0" cy="184.8" r="1.6" fill="none" stroke="#e2605c" stroke-width="0.8"/>
<rect x="224.6" y="159.6" width="2.9" height="2.9" rx="0.9" fill="none" stroke="#5cb883" stroke-width="0.8"/>
<rect x="261.7" y="174.8" width="2.9" height="2.9" rx="0.9" fill="none" stroke="#5cb883" stroke-width="0.8"/>
<circle cx="276.3" cy="192.7" r="1.6" fill="none" stroke="#e2605c" stroke-width="0.8"/>
<rect x="265.1" y="161.3" width="2.9" height="2.9" rx="0.9" fill="none" stroke="#5cb883" stroke-width="0.8"/>
<path d="M272.6,184.4L274.5,180.9L270.7,180.9Z" fill="none" stroke="#d9c94e" stroke-width="0.8"/>
<rect x="250.7" y="185.8" width="2.9" height="2.9" rx="0.9" fill="none" stroke="#5cb883" stroke-width="0.8"/>
<circle cx="296.3" cy="181.8" r="1.6" fill="none" stroke="#e2605c" stroke-width="0.8"/>
<path d="M280.1,181.1L282.0,177.7L278.2,177.7Z" fill="none" stroke="#d9c94e" stroke-width="0.8"/>
<path d="M264.9,198.4L266.8,195.0L263.0,195.0Z" fill="none" stroke="#d9c94e" stroke-width="0.8"/>
<path d="M280.8,197.5L282.7,194.1L278.9,194.1Z" fill="none" stroke="#d9c94e" stroke-width="0.8"/>
<path d="M265.0,176.5L266.9,179.9L263.1,179.9Z" fill="none" stroke="#7890d4" stroke-width="0.8"/>
<circle cx="283.8" cy="200.6" r="1.6" fill="none" stroke="#e2605c" stroke-width="0.8"/>
<circle cx="262.9" cy="187.0" r="1.6" fill="none" stroke="#e2605c" stroke-width="0.8"/>
<circle cx="272.3" cy="168.2" r="1.6" fill="none" stroke="#e2605c" stroke-width="0.8"/>
<path d="M272.5,177.4L274.4,174.0L270.6,174.0Z" fill="none" stroke="#d9c94e" stroke-width="0.8"/>
<path d="M244.7,159.5L246.6,156.0L242.8,156.0Z" fill="none" stroke="#d9c94e" stroke-width="0.8"/>
<path d="M271.5,177.2L273.4,180.6L269.6,180.6Z" fill="none" stroke="#7890d4" stroke-width="0.8"/>
<path d="M261.0,171.5L262.9,168.0L259.1,168.0Z" fill="none" stroke="#d9c94e" stroke-width="0.8"/>
<path d="M314.4,194.2L316.3,197.6L312.5,197.6Z" fill="none" stroke="#7890d4" stroke-width="0.8"/>
<circle cx="265.9" cy="170.1" r="1.6" fill="none" stroke="#e2605c" stroke-width="0.8"/>
<circle cx="264.6" cy="169.7" r="1.6" fill="none" stroke="#e2605c" stroke-width="0.8"/>
<circle cx="249.3" cy="150.8" r="1.6" fill="none" stroke="#e2605c" stroke-width="0.8"/>
<path d="M255.5,167.0L257.4,170.4L253.6,170.4Z" fill="none" stroke="#7890d4" stroke-width="0.8"/>
<rect x="275.2" y="193.5" width="2.9" height="2.9" rx="0.9" fill="none" stroke="#5cb883" stroke-width="0.8"/>
<path d="M296.4,174.2L298.3,170.8L294.5,170.8Z" fill="none" stroke="#d9c94e" stroke-width="0.8"/>
<rect x="252.7" y="196.2" width="2.9" height="2.9" rx="0.9" fill="none" stroke="#5cb883" stroke-width="0.8"/>
<path d="M256.2,170.2L258.1,166.7L254.3,166.7Z" fill="none" stroke="#d9c94e" stroke-width="0.8"/>
<rect x="285.9" y="182.3" width="2.9" height="2.9" rx="0.9" fill="none" stroke="#5cb883" stroke-width="0.8"/>
<rect x="274.2" y="157.8" width="2.9" height="2.9" rx="0.9" fill="none" stroke="#5cb883" stroke-width="0.8"/>
<path d="M276.0,204.1L277.9,200.6L274.1,200.6Z" fill="none" stroke="#d9c94e" stroke-width="0.8"/>
<circle cx="276.4" cy="213.7" r="1.6" fill="none" stroke="#e2605c" stroke-width="0.8"/>
<path d="M249.0,178.5L250.9,175.1L247.1,175.1Z" fill="none" stroke="#d9c94e" stroke-width="0.8"/>
<circle cx="276.2" cy="185.7" r="1.6" fill="none" stroke="#e2605c" stroke-width="0.8"/>
<rect x="257.7" y="175.1" width="2.9" height="2.9" rx="0.9" fill="none" stroke="#5cb883" stroke-width="0.8"/>
<path d="M259.1,171.3L261.0,167.8L257.2,167.8Z" fill="none" stroke="#d9c94e" stroke-width="0.8"/>
<circle cx="264.4" cy="155.5" r="1.6" fill="none" stroke="#e2605c" stroke-width="0.8"/>
<circle cx="283.6" cy="180.3" r="1.6" fill="none" stroke="#e2605c" stroke-width="0.8"/>
<rect x="250.0" y="166.6" width="2.9" height="2.9" rx="0.9" fill="none" stroke="#5cb883" stroke-width="0.8"/>
<rect x="271.1" y="180.0" width="2.9" height="2.9" rx="0.9" fill="none" stroke="#5cb883" stroke-width="0.8"/>
<circle cx="289.6" cy="193.1" r="1.6" fill="none" stroke="#e2605c" stroke-width="0.8"/>
<path d="M246.2,184.3L248.1,180.9L244.3,180.9Z" fill="none" stroke="#d9c94e" stroke-width="0.8"/>
<rect x="284.3" y="171.1" width="2.9" height="2.9" rx="0.9" fill="none" stroke="#5cb883" stroke-width="0.8"/>
<path d="M269.5,189.7L271.4,186.3L267.6,186.3Z" fill="none" stroke="#d9c94e" stroke-width="0.8"/>
<circle cx="264.1" cy="173.4" r="1.6" fill="none" stroke="#e2605c" stroke-width="0.8"/>
<path d="M283.5,204.2L285.4,207.6L281.6,207.6Z" fill="none" stroke="#7890d4" stroke-width="0.8"/>
<circle cx="278.4" cy="178.1" r="1.6" fill="none" stroke="#e2605c" stroke-width="0.8"/>
<rect x="255.4" y="198.1" width="2.9" height="2.9" rx="0.9" fill="none" stroke="#5cb883" stroke-width="0.8"/>
<circle cx="253.1" cy="176.3" r="1.6" fill="none" stroke="#e2605c" stroke-width="0.8"/>
<path d="M276.9,151.0L278.8,154.5L275.0,154.5Z" fill="none" stroke="#7890d4" stroke-width="0.8"/>
<rect x="271.4" y="175.0" width="2.9" height="2.9" rx="0.9" fill="none" stroke="#5cb883" stroke-width="0.8"/>
<path d="M263.3,181.5L265.2,178.1L261.4,178.1Z" fill="none" stroke="#d9c94e" stroke-width="0.8"/>
<rect x="296.5" y="194.2" width="2.9" height="2.9" rx="0.9" fill="none" stroke="#5cb883" stroke-width="0.8"/>
<circle cx="293.3" cy="211.9" r="1.6" fill="none" stroke="#e2605c" stroke-width="0.8"/>
<circle cx="265.7" cy="183.1" r="1.6" fill="none" stroke="#e2605c" stroke-width="0.8"/>
<path d="M279.5,171.3L281.4,174.7L277.6,174.7Z" fill="none" stroke="#7890d4" stroke-width="0.8"/>
<path d="M279.0,198.8L280.9,202.2L277.1,202.2Z" fill="none" stroke="#7890d4" stroke-width="0.8"/>
<path d="M269.4,182.3L271.3,185.7L267.5,185.7Z" fill="none" stroke="#7890d4" stroke-width="0.8"/>
<path d="M284.5,204.3L286.4,200.9L282.6,200.9Z" fill="none" stroke="#d9c94e" stroke-width="0.8"/>
<path d="M257.0,187.8L258.9,191.2L255.1,191.2Z" fill="none" stroke="#7890d4" stroke-width="0.8"/>
<path d="M263.0,179.1L264.9,175.7L261.1,175.7Z" fill="none" stroke="#d9c94e" stroke-width="0.8"/>
<path d="M290.8,173.5L292.7,177.0L288.9,177.0Z" fill="none" stroke="#7890d4" stroke-width="0.8"/>
<path d="M272.8,205.7L274.7,209.2L270.9,209.2Z" fill="none" stroke="#7890d4" stroke-width="0.8"/>
<path d="M272.2,183.7L274.1,187.1L270.3,187.1Z" fill="none" stroke="#7890d4" stroke-width="0.8"/>
<path d="M245.6,160.9L247.5,157.5L243.7,157.5Z" fill="none" stroke="#d9c94e" stroke-width="0.8"/>
<path d="M260.0,191.1L261.9,194.5L258.1,194.5Z" fill="none" stroke="#7890d4" stroke-width="0.8"/>
<path d="M284.5,193.9L286.4,197.3L282.6,197.3Z" fill="none" stroke="#7890d4" stroke-width="0.8"/>
<path d="M257.1,190.2L259.0,193.6L255.2,193.6Z" fill="none" stroke="#7890d4" stroke-width="0.8"/>
<path d="M258.7,169.0L260.6,172.4L256.8,172.4Z" fill="none" stroke="#7890d4" stroke-width="0.8"/>
<path d="M264.0,197.6L265.9,194.2L262.1,194.2Z" fill="none" stroke="#d9c94e" stroke-width="0.8"/>
<rect x="257.2" y="175.5" width="2.9" height="2.9" rx="0.9" fill="none" stroke="#5cb883" stroke-width="0.8"/>
<path d="M282.9,158.9L284.8,155.5L281.0,155.5Z" fill="none" stroke="#d9c94e" stroke-width="0.8"/>
<path d="M251.6,199.7L253.5,196.3L249.7,196.3Z" fill="none" stroke="#d9c94e" stroke-width="0.8"/>
<path d="M263.9,191.3L265.8,194.7L262.0,194.7Z" fill="none" stroke="#7890d4" stroke-width="0.8"/>
<path d="M249.7,179.2L251.6,182.6L247.8,182.6Z" fill="none" stroke="#7890d4" stroke-width="0.8"/>
<circle cx="252.8" cy="179.0" r="1.6" fill="none" stroke="#e2605c" stroke-width="0.8"/>
<path d="M291.5,190.2L293.4,193.6L289.6,193.6Z" fill="none" stroke="#7890d4" stroke-width="0.8"/>
<path d="M307.8,199.8L309.7,203.3L305.9,203.3Z" fill="none" stroke="#7890d4" stroke-width="0.8"/>
<rect x="249.2" y="166.2" width="2.9" height="2.9" rx="0.9" fill="none" stroke="#5cb883" stroke-width="0.8"/>
<path d="M282.4,184.6L284.3,188.1L280.5,188.1Z" fill="none" stroke="#7890d4" stroke-width="0.8"/>
<circle cx="250.1" cy="179.7" r="1.6" fill="none" stroke="#e2605c" stroke-width="0.8"/>
<circle cx="255.8" cy="164.2" r="1.6" fill="none" stroke="#e2605c" stroke-width="0.8"/>
<rect x="278.3" y="169.3" width="2.9" height="2.9" rx="0.9" fill="none" stroke="#5cb883" stroke-width="0.8"/>
<circle cx="230.8" cy="180.4" r="1.6" fill="none" stroke="#e2605c" stroke-width="0.8"/>
<circle cx="274.3" cy="157.7" r="1.6" fill="none" stroke="#e2605c" stroke-width="0.8"/>
<path d="M237.2,136.5L239.1,139.9L235.3,139.9Z" fill="none" stroke="#7890d4" stroke-width="0.8"/>
<circle cx="269.7" cy="189.3" r="1.6" fill="none" stroke="#e2605c" stroke-width="0.8"/>
<path d="M257.6,173.2L259.5,176.6L255.7,176.6Z" fill="none" stroke="#7890d4" stroke-width="0.8"/>
<rect x="289.8" y="190.8" width="2.9" height="2.9" rx="0.9" fill="none" stroke="#5cb883" stroke-width="0.8"/>
<path d="M263.9,195.6L265.8,192.2L262.0,192.2Z" fill="none" stroke="#d9c94e" stroke-width="0.8"/>
<path d="M275.7,170.4L277.6,166.9L273.8,166.9Z" fill="none" stroke="#d9c94e" stroke-width="0.8"/>
<circle cx="254.3" cy="156.4" r="1.6" fill="none" stroke="#e2605c" stroke-width="0.8"/>
<circle cx="250.9" cy="157.1" r="1.6" fill="none" stroke="#e2605c" stroke-width="0.8"/>
<path d="M286.9,183.1L288.8,186.5L285.0,186.5Z" fill="none" stroke="#7890d4" stroke-width="0.8"/>
<path d="M273.3,190.8L275.2,187.4L271.4,187.4Z" fill="none" stroke="#d9c94e" stroke-width="0.8"/>
<path d="M283.0,198.3L284.9,201.7L281.1,201.7Z" fill="none" stroke="#7890d4" stroke-width="0.8"/>
<circle cx="301.5" cy="190.6" r="1.6" fill="none" stroke="#e2605c" stroke-width="0.8"/>
<path d="M245.0,141.4L246.9,138.0L243.1,138.0Z" fill="none" stroke="#d9c94e" stroke-width="0.8"/>
<path d="M279.7,164.9L281.6,161.5L277.8,161.5Z" fill="none" stroke="#d9c94e" stroke-width="0.8"/>
<circle cx="287.4" cy="152.4" r="1.6" fill="none" stroke="#e2605c" stroke-width="0.8"/>
<circle cx="273.1" cy="181.2" r="1.6" fill="none" stroke="#e2605c" stroke-width="0.8"/>
<path d="M281.2,174.9L283.1,178.4L279.3,178.4Z" fill="none" stroke="#7890d4" stroke-width="0.8"/>
<rect x="287.0" y="187.4" width="2.9" height="2.9" rx="0.9" fill="none" stroke="#5cb883" stroke-width="0.8"/>
<line x1="210.0" y1="168.0" x2="352.4" y2="209.2" stroke="#3aab5a" stroke-width="1.3"/>
<line x1="210.0" y1="169.5" x2="352.4" y2="205.4" stroke="#4a6bc0" stroke-width="1.3"/>
<line x1="210.0" y1="167.0" x2="352.4" y2="207.3" stroke="#dccd2e" stroke-width="1.3"/>
<line x1="210.0" y1="168.5" x2="352.4" y2="203.2" stroke="#d42a2e" stroke-width="1.3"/>
</g>
<path d="M210.0,148.5H352.4V236.6" fill="none" stroke="#858585" stroke-width="1"/>
<path d="M210.0,148.5V236.6H352.4" fill="none" stroke="#6a6a6a" stroke-width="1"/>
<line x1="206.0" y1="158.8" x2="210.0" y2="158.8" stroke="#6a6a6a" stroke-width="1"/>
<text transform="translate(203.60,162.20) scale(1.0,1.08)" font-size="9.6" text-anchor="end" fill="#151515" stroke="#151515" stroke-width="0.32" font-weight="normal">1.5</text>
<line x1="206.0" y1="186.6" x2="210.0" y2="186.6" stroke="#6a6a6a" stroke-width="1"/>
<text transform="translate(203.60,190.00) scale(1.0,1.08)" font-size="9.6" text-anchor="end" fill="#151515" stroke="#151515" stroke-width="0.32" font-weight="normal">1.0</text>
<line x1="206.0" y1="214.4" x2="210.0" y2="214.4" stroke="#6a6a6a" stroke-width="1"/>
<text transform="translate(203.60,217.80) scale(1.0,1.08)" font-size="9.6" text-anchor="end" fill="#151515" stroke="#151515" stroke-width="0.32" font-weight="normal">0.5</text>
<line x1="210.00" y1="236.6" x2="210.00" y2="240.6" stroke="#6a6a6a" stroke-width="1"/>
<text transform="translate(210.80,250.70) scale(1.0,1.08)" font-size="9.6" text-anchor="middle" fill="#151515" stroke="#151515" stroke-width="0.32" font-weight="normal">1.10</text>
<line x1="257.47" y1="236.6" x2="257.47" y2="240.6" stroke="#6a6a6a" stroke-width="1"/>
<text transform="translate(258.27,250.70) scale(1.0,1.08)" font-size="9.6" text-anchor="middle" fill="#151515" stroke="#151515" stroke-width="0.32" font-weight="normal">1.30</text>
<line x1="304.93" y1="236.6" x2="304.93" y2="240.6" stroke="#6a6a6a" stroke-width="1"/>
<text transform="translate(305.73,250.70) scale(1.0,1.08)" font-size="9.6" text-anchor="middle" fill="#151515" stroke="#151515" stroke-width="0.32" font-weight="normal">1.50</text>
<line x1="352.40" y1="236.6" x2="352.40" y2="240.6" stroke="#6a6a6a" stroke-width="1"/>
<text transform="translate(353.20,250.70) scale(1.0,1.08)" font-size="9.6" text-anchor="middle" fill="#151515" stroke="#151515" stroke-width="0.32" font-weight="normal">1.70</text>
<text transform="translate(279.90,261.60) scale(1.07,1.0)" font-size="10.0" text-anchor="middle" fill="#151515" stroke="#151515" stroke-width="0.32" font-weight="normal">BMI (log10)</text>
<text transform="translate(186.60,192.40) rotate(-90)" font-size="10.3" text-anchor="middle" fill="#151515" stroke="#151515" stroke-width="0.32">Adiponectin (log10)</text>
<text transform="translate(227.50,197.50) scale(1.0,1.0)" font-size="8.4" text-anchor="middle" fill="#111" stroke="#111" stroke-width="0.3" font-weight="normal">r=</text>
<text transform="translate(212.60,207.20) scale(1.0,1.0)" font-size="8.3" text-anchor="start" fill="#2a9e5a" stroke="#2a9e5a" stroke-width="0.12" font-weight="normal">-0.39<tspan font-size="8.0">***</tspan></text>
<text transform="translate(212.60,215.65) scale(1.0,1.0)" font-size="8.3" text-anchor="start" fill="#e23a3e" stroke="#e23a3e" stroke-width="0.12" font-weight="normal">-0.36<tspan font-size="8.0">***</tspan></text>
<text transform="translate(212.60,224.10) scale(1.0,1.0)" font-size="8.3" text-anchor="start" fill="#6d8dcc" stroke="#6d8dcc" stroke-width="0.12" font-weight="normal">-0.44<tspan font-size="8.0">***</tspan></text>
<text transform="translate(212.60,232.55) scale(1.0,1.0)" font-size="8.3" text-anchor="start" fill="#d6cf3a" stroke="#d6cf3a" stroke-width="0.12" font-weight="normal">-0.39<tspan font-size="8.0">***</tspan></text>
<clipPath id="clip279"><rect x="210.0" y="279.2" width="142.39999999999998" height="89.90000000000003"/></clipPath>
<g clip-path="url(#clip279)">
<circle cx="266.3" cy="341.8" r="1.6" fill="none" stroke="#e2605c" stroke-width="0.8"/>
<rect x="265.6" y="329.4" width="2.9" height="2.9" rx="0.9" fill="none" stroke="#5cb883" stroke-width="0.8"/>
<circle cx="311.7" cy="310.7" r="1.6" fill="none" stroke="#e2605c" stroke-width="0.8"/>
<path d="M295.4,338.4L297.3,334.9L293.5,334.9Z" fill="none" stroke="#d9c94e" stroke-width="0.8"/>
<path d="M279.2,332.4L281.1,335.8L277.3,335.8Z" fill="none" stroke="#7890d4" stroke-width="0.8"/>
<path d="M252.9,339.1L254.8,342.5L251.0,342.5Z" fill="none" stroke="#7890d4" stroke-width="0.8"/>
<path d="M314.2,330.2L316.1,333.6L312.3,333.6Z" fill="none" stroke="#7890d4" stroke-width="0.8"/>
<rect x="303.5" y="308.0" width="2.9" height="2.9" rx="0.9" fill="none" stroke="#5cb883" stroke-width="0.8"/>
<path d="M271.4,344.3L273.3,340.9L269.5,340.9Z" fill="none" stroke="#d9c94e" stroke-width="0.8"/>
<rect x="232.2" y="353.3" width="2.9" height="2.9" rx="0.9" fill="none" stroke="#5cb883" stroke-width="0.8"/>
<rect x="273.9" y="331.1" width="2.9" height="2.9" rx="0.9" fill="none" stroke="#5cb883" stroke-width="0.8"/>
<circle cx="285.0" cy="329.2" r="1.6" fill="none" stroke="#e2605c" stroke-width="0.8"/>
<rect x="236.5" y="327.7" width="2.9" height="2.9" rx="0.9" fill="none" stroke="#5cb883" stroke-width="0.8"/>
<path d="M316.8,320.2L318.7,323.7L314.9,323.7Z" fill="none" stroke="#7890d4" stroke-width="0.8"/>
<circle cx="288.2" cy="311.8" r="1.6" fill="none" stroke="#e2605c" stroke-width="0.8"/>
<path d="M260.8,341.9L262.7,345.3L258.9,345.3Z" fill="none" stroke="#7890d4" stroke-width="0.8"/>
<circle cx="312.8" cy="304.7" r="1.6" fill="none" stroke="#e2605c" stroke-width="0.8"/>
<path d="M229.5,350.0L231.4,346.6L227.6,346.6Z" fill="none" stroke="#d9c94e" stroke-width="0.8"/>
<path d="M313.0,306.3L314.9,302.9L311.1,302.9Z" fill="none" stroke="#d9c94e" stroke-width="0.8"/>
<path d="M237.4,340.8L239.3,337.3L235.5,337.3Z" fill="none" stroke="#d9c94e" stroke-width="0.8"/>
<path d="M297.1,324.1L299.0,320.7L295.2,320.7Z" fill="none" stroke="#d9c94e" stroke-width="0.8"/>
<path d="M290.7,327.6L292.6,324.2L288.8,324.2Z" fill="none" stroke="#d9c94e" stroke-width="0.8"/>
<circle cx="271.4" cy="338.0" r="1.6" fill="none" stroke="#e2605c" stroke-width="0.8"/>
<circle cx="258.2" cy="336.0" r="1.6" fill="none" stroke="#e2605c" stroke-width="0.8"/>
<rect x="274.6" y="333.8" width="2.9" height="2.9" rx="0.9" fill="none" stroke="#5cb883" stroke-width="0.8"/>
<path d="M266.8,324.5L268.7,321.1L264.9,321.1Z" fill="none" stroke="#d9c94e" stroke-width="0.8"/>
<path d="M269.5,333.8L271.4,330.3L267.6,330.3Z" fill="none" stroke="#d9c94e" stroke-width="0.8"/>
<circle cx="269.0" cy="332.5" r="1.6" fill="none" stroke="#e2605c" stroke-width="0.8"/>
<circle cx="286.0" cy="321.4" r="1.6" fill="none" stroke="#e2605c" stroke-width="0.8"/>
<path d="M244.7,335.3L246.6,338.7L242.8,338.7Z" fill="none" stroke="#7890d4" stroke-width="0.8"/>
<circle cx="295.0" cy="331.9" r="1.6" fill="none" stroke="#e2605c" stroke-width="0.8"/>
<circle cx="261.3" cy="336.2" r="1.6" fill="none" stroke="#e2605c" stroke-width="0.8"/>
<path d="M286.5,317.7L288.4,314.3L284.6,314.3Z" fill="none" stroke="#d9c94e" stroke-width="0.8"/>
<path d="M248.9,332.1L250.8,335.5L247.0,335.5Z" fill="none" stroke="#7890d4" stroke-width="0.8"/>
<path d="M300.8,337.1L302.7,333.7L298.9,333.7Z" fill="none" stroke="#d9c94e" stroke-width="0.8"/>
<path d="M262.5,341.2L264.4,344.7L260.6,344.7Z" fill="none" stroke="#7890d4" stroke-width="0.8"/>
<circle cx="244.0" cy="358.4" r="1.6" fill="none" stroke="#e2605c" stroke-width="0.8"/>
<circle cx="243.5" cy="340.2" r="1.6" fill="none" stroke="#e2605c" stroke-width="0.8"/>
<path d="M277.3,331.0L279.2,334.4L275.4,334.4Z" fill="none" stroke="#7890d4" stroke-width="0.8"/>
<path d="M249.8,348.2L251.7,344.8L247.9,344.8Z" fill="none" stroke="#d9c94e" stroke-width="0.8"/>
<circle cx="263.2" cy="332.1" r="1.6" fill="none" stroke="#e2605c" stroke-width="0.8"/>
<circle cx="276.6" cy="337.8" r="1.6" fill="none" stroke="#e2605c" stroke-width="0.8"/>
<circle cx="323.2" cy="311.7" r="1.6" fill="none" stroke="#e2605c" stroke-width="0.8"/>
<rect x="261.3" y="337.7" width="2.9" height="2.9" rx="0.9" fill="none" stroke="#5cb883" stroke-width="0.8"/>
<path d="M293.9,326.0L295.8,329.4L292.0,329.4Z" fill="none" stroke="#7890d4" stroke-width="0.8"/>
<path d="M257.1,338.6L259.0,335.2L255.2,335.2Z" fill="none" stroke="#d9c94e" stroke-width="0.8"/>
<circle cx="267.1" cy="340.7" r="1.6" fill="none" stroke="#e2605c" stroke-width="0.8"/>
<rect x="263.9" y="348.3" width="2.9" height="2.9" rx="0.9" fill="none" stroke="#5cb883" stroke-width="0.8"/>
<circle cx="279.1" cy="330.6" r="1.6" fill="none" stroke="#e2605c" stroke-width="0.8"/>
<path d="M284.2,333.2L286.1,329.8L282.3,329.8Z" fill="none" stroke="#d9c94e" stroke-width="0.8"/>
<circle cx="234.9" cy="340.3" r="1.6" fill="none" stroke="#e2605c" stroke-width="0.8"/>
<path d="M285.8,323.1L287.7,319.7L283.9,319.7Z" fill="none" stroke="#d9c94e" stroke-width="0.8"/>
<rect x="262.8" y="328.6" width="2.9" height="2.9" rx="0.9" fill="none" stroke="#5cb883" stroke-width="0.8"/>
<path d="M261.7,328.4L263.6,325.0L259.8,325.0Z" fill="none" stroke="#d9c94e" stroke-width="0.8"/>
<rect x="301.1" y="326.8" width="2.9" height="2.9" rx="0.9" fill="none" stroke="#5cb883" stroke-width="0.8"/>
<circle cx="289.3" cy="312.4" r="1.6" fill="none" stroke="#e2605c" stroke-width="0.8"/>
<rect x="278.2" y="338.3" width="2.9" height="2.9" rx="0.9" fill="none" stroke="#5cb883" stroke-width="0.8"/>
<path d="M264.3,326.1L266.2,329.5L262.4,329.5Z" fill="none" stroke="#7890d4" stroke-width="0.8"/>
<path d="M272.8,318.4L274.7,315.0L270.9,315.0Z" fill="none" stroke="#d9c94e" stroke-width="0.8"/>
<rect x="302.7" y="321.5" width="2.9" height="2.9" rx="0.9" fill="none" stroke="#5cb883" stroke-width="0.8"/>
<rect x="278.7" y="327.0" width="2.9" height="2.9" rx="0.9" fill="none" stroke="#5cb883" stroke-width="0.8"/>
<rect x="256.8" y="328.4" width="2.9" height="2.9" rx="0.9" fill="none" stroke="#5cb883" stroke-width="0.8"/>
<path d="M267.6,349.9L269.5,346.5L265.7,346.5Z" fill="none" stroke="#d9c94e" stroke-width="0.8"/>
<circle cx="251.0" cy="324.0" r="1.6" fill="none" stroke="#e2605c" stroke-width="0.8"/>
<path d="M290.2,328.3L292.1,324.9L288.3,324.9Z" fill="none" stroke="#d9c94e" stroke-width="0.8"/>
<rect x="269.7" y="342.0" width="2.9" height="2.9" rx="0.9" fill="none" stroke="#5cb883" stroke-width="0.8"/>
<path d="M310.3,323.6L312.2,320.1L308.4,320.1Z" fill="none" stroke="#d9c94e" stroke-width="0.8"/>
<path d="M286.9,309.7L288.8,313.1L285.0,313.1Z" fill="none" stroke="#7890d4" stroke-width="0.8"/>
<circle cx="297.0" cy="332.1" r="1.6" fill="none" stroke="#e2605c" stroke-width="0.8"/>
<circle cx="292.8" cy="324.3" r="1.6" fill="none" stroke="#e2605c" stroke-width="0.8"/>
<path d="M292.4,319.8L294.3,323.2L290.5,323.2Z" fill="none" stroke="#7890d4" stroke-width="0.8"/>
<circle cx="284.7" cy="327.9" r="1.6" fill="none" stroke="#e2605c" stroke-width="0.8"/>
<circle cx="263.4" cy="346.7" r="1.6" fill="none" stroke="#e2605c" stroke-width="0.8"/>
<path d="M269.3,331.5L271.2,328.0L267.4,328.0Z" fill="none" stroke="#d9c94e" stroke-width="0.8"/>
<path d="M245.9,356.8L247.8,360.3L244.0,360.3Z" fill="none" stroke="#7890d4" stroke-width="0.8"/>
<rect x="272.2" y="331.8" width="2.9" height="2.9" rx="0.9" fill="none" stroke="#5cb883" stroke-width="0.8"/>
<path d="M313.6,313.2L315.5,316.6L311.7,316.6Z" fill="none" stroke="#7890d4" stroke-width="0.8"/>
<path d="M305.0,321.7L306.9,325.1L303.1,325.1Z" fill="none" stroke="#7890d4" stroke-width="0.8"/>
<path d="M297.0,325.7L298.9,322.3L295.1,322.3Z" fill="none" stroke="#d9c94e" stroke-width="0.8"/>
<circle cx="265.5" cy="345.1" r="1.6" fill="none" stroke="#e2605c" stroke-width="0.8"/>
<path d="M261.7,343.3L263.6,339.9L259.8,339.9Z" fill="none" stroke="#d9c94e" stroke-width="0.8"/>
<path d="M283.0,334.1L284.9,330.7L281.1,330.7Z" fill="none" stroke="#d9c94e" stroke-width="0.8"/>
<circle cx="268.9" cy="340.9" r="1.6" fill="none" stroke="#e2605c" stroke-width="0.8"/>
<rect x="251.6" y="349.2" width="2.9" height="2.9" rx="0.9" fill="none" stroke="#5cb883" stroke-width="0.8"/>
<circle cx="265.4" cy="332.0" r="1.6" fill="none" stroke="#e2605c" stroke-width="0.8"/>
<path d="M291.1,333.4L293.0,330.0L289.2,330.0Z" fill="none" stroke="#d9c94e" stroke-width="0.8"/>
<path d="M229.1,353.3L231.0,349.9L227.2,349.9Z" fill="none" stroke="#d9c94e" stroke-width="0.8"/>
<path d="M247.8,344.1L249.7,347.5L245.9,347.5Z" fill="none" stroke="#7890d4" stroke-width="0.8"/>
<circle cx="245.4" cy="331.0" r="1.6" fill="none" stroke="#e2605c" stroke-width="0.8"/>
<path d="M255.3,335.7L257.2,332.2L253.4,332.2Z" fill="none" stroke="#d9c94e" stroke-width="0.8"/>
<rect x="273.5" y="332.2" width="2.9" height="2.9" rx="0.9" fill="none" stroke="#5cb883" stroke-width="0.8"/>
<rect x="285.7" y="317.2" width="2.9" height="2.9" rx="0.9" fill="none" stroke="#5cb883" stroke-width="0.8"/>
<rect x="286.8" y="323.2" width="2.9" height="2.9" rx="0.9" fill="none" stroke="#5cb883" stroke-width="0.8"/>
<path d="M304.3,313.2L306.2,309.7L302.4,309.7Z" fill="none" stroke="#d9c94e" stroke-width="0.8"/>
<rect x="285.3" y="323.8" width="2.9" height="2.9" rx="0.9" fill="none" stroke="#5cb883" stroke-width="0.8"/>
<rect x="318.3" y="308.2" width="2.9" height="2.9" rx="0.9" fill="none" stroke="#5cb883" stroke-width="0.8"/>
<rect x="253.3" y="336.6" width="2.9" height="2.9" rx="0.9" fill="none" stroke="#5cb883" stroke-width="0.8"/>
<path d="M276.7,336.1L278.6,332.7L274.8,332.7Z" fill="none" stroke="#d9c94e" stroke-width="0.8"/>
<circle cx="293.9" cy="324.1" r="1.6" fill="none" stroke="#e2605c" stroke-width="0.8"/>
<path d="M320.8,324.2L322.7,320.7L318.9,320.7Z" fill="none" stroke="#d9c94e" stroke-width="0.8"/>
<path d="M231.2,339.2L233.1,342.7L229.3,342.7Z" fill="none" stroke="#7890d4" stroke-width="0.8"/>
<circle cx="261.8" cy="319.0" r="1.6" fill="none" stroke="#e2605c" stroke-width="0.8"/>
<circle cx="312.9" cy="316.1" r="1.6" fill="none" stroke="#e2605c" stroke-width="0.8"/>
<path d="M252.5,341.1L254.4,344.6L250.6,344.6Z" fill="none" stroke="#7890d4" stroke-width="0.8"/>
<rect x="255.7" y="328.5" width="2.9" height="2.9" rx="0.9" fill="none" stroke="#5cb883" stroke-width="0.8"/>
<path d="M312.5,314.1L314.4,317.5L310.6,317.5Z" fill="none" stroke="#7890d4" stroke-width="0.8"/>
<circle cx="226.3" cy="363.9" r="1.6" fill="none" stroke="#e2605c" stroke-width="0.8"/>
<path d="M275.1,314.4L277.0,317.8L273.2,317.8Z" fill="none" stroke="#7890d4" stroke-width="0.8"/>
<path d="M258.1,337.7L260.0,334.3L256.2,334.3Z" fill="none" stroke="#d9c94e" stroke-width="0.8"/>
<path d="M303.7,327.9L305.6,331.3L301.8,331.3Z" fill="none" stroke="#7890d4" stroke-width="0.8"/>
<path d="M295.3,348.2L297.2,344.8L293.4,344.8Z" fill="none" stroke="#d9c94e" stroke-width="0.8"/>
<circle cx="265.6" cy="332.6" r="1.6" fill="none" stroke="#e2605c" stroke-width="0.8"/>
<path d="M260.7,345.1L262.6,348.5L258.8,348.5Z" fill="none" stroke="#7890d4" stroke-width="0.8"/>
<path d="M292.7,330.6L294.6,334.0L290.8,334.0Z" fill="none" stroke="#7890d4" stroke-width="0.8"/>
<rect x="245.8" y="360.4" width="2.9" height="2.9" rx="0.9" fill="none" stroke="#5cb883" stroke-width="0.8"/>
<circle cx="296.1" cy="324.1" r="1.6" fill="none" stroke="#e2605c" stroke-width="0.8"/>
<path d="M272.0,330.0L273.9,333.4L270.1,333.4Z" fill="none" stroke="#7890d4" stroke-width="0.8"/>
<rect x="254.9" y="331.7" width="2.9" height="2.9" rx="0.9" fill="none" stroke="#5cb883" stroke-width="0.8"/>
<circle cx="289.4" cy="325.1" r="1.6" fill="none" stroke="#e2605c" stroke-width="0.8"/>
<rect x="268.4" y="330.2" width="2.9" height="2.9" rx="0.9" fill="none" stroke="#5cb883" stroke-width="0.8"/>
<circle cx="269.3" cy="335.1" r="1.6" fill="none" stroke="#e2605c" stroke-width="0.8"/>
<rect x="264.1" y="334.3" width="2.9" height="2.9" rx="0.9" fill="none" stroke="#5cb883" stroke-width="0.8"/>
<rect x="264.2" y="343.5" width="2.9" height="2.9" rx="0.9" fill="none" stroke="#5cb883" stroke-width="0.8"/>
<rect x="275.4" y="329.6" width="2.9" height="2.9" rx="0.9" fill="none" stroke="#5cb883" stroke-width="0.8"/>
<path d="M263.5,332.9L265.4,329.5L261.6,329.5Z" fill="none" stroke="#d9c94e" stroke-width="0.8"/>
<path d="M265.2,324.4L267.1,321.0L263.3,321.0Z" fill="none" stroke="#d9c94e" stroke-width="0.8"/>
<circle cx="286.2" cy="336.4" r="1.6" fill="none" stroke="#e2605c" stroke-width="0.8"/>
<path d="M300.1,310.5L302.0,313.9L298.2,313.9Z" fill="none" stroke="#7890d4" stroke-width="0.8"/>
<rect x="241.9" y="352.7" width="2.9" height="2.9" rx="0.9" fill="none" stroke="#5cb883" stroke-width="0.8"/>
<path d="M241.6,343.4L243.5,340.0L239.7,340.0Z" fill="none" stroke="#d9c94e" stroke-width="0.8"/>
<path d="M274.1,326.0L276.0,329.4L272.2,329.4Z" fill="none" stroke="#7890d4" stroke-width="0.8"/>
<path d="M265.1,319.3L267.0,322.7L263.2,322.7Z" fill="none" stroke="#7890d4" stroke-width="0.8"/>
<circle cx="277.1" cy="325.5" r="1.6" fill="none" stroke="#e2605c" stroke-width="0.8"/>
<rect x="296.7" y="336.0" width="2.9" height="2.9" rx="0.9" fill="none" stroke="#5cb883" stroke-width="0.8"/>
<path d="M268.3,339.6L270.2,343.0L266.4,343.0Z" fill="none" stroke="#7890d4" stroke-width="0.8"/>
<circle cx="254.7" cy="341.4" r="1.6" fill="none" stroke="#e2605c" stroke-width="0.8"/>
<circle cx="272.6" cy="316.1" r="1.6" fill="none" stroke="#e2605c" stroke-width="0.8"/>
<path d="M274.2,336.5L276.1,333.1L272.3,333.1Z" fill="none" stroke="#d9c94e" stroke-width="0.8"/>
<circle cx="254.7" cy="342.3" r="1.6" fill="none" stroke="#e2605c" stroke-width="0.8"/>
<path d="M274.6,332.3L276.5,335.8L272.7,335.8Z" fill="none" stroke="#7890d4" stroke-width="0.8"/>
<path d="M245.4,352.0L247.3,348.6L243.5,348.6Z" fill="none" stroke="#d9c94e" stroke-width="0.8"/>
<path d="M295.1,329.4L297.0,326.0L293.2,326.0Z" fill="none" stroke="#d9c94e" stroke-width="0.8"/>
<circle cx="291.2" cy="332.2" r="1.6" fill="none" stroke="#e2605c" stroke-width="0.8"/>
<path d="M270.7,323.4L272.6,326.8L268.8,326.8Z" fill="none" stroke="#7890d4" stroke-width="0.8"/>
<path d="M286.8,320.8L288.7,324.2L284.9,324.2Z" fill="none" stroke="#7890d4" stroke-width="0.8"/>
<path d="M296.0,323.1L297.9,319.7L294.1,319.7Z" fill="none" stroke="#d9c94e" stroke-width="0.8"/>
<circle cx="278.9" cy="340.8" r="1.6" fill="none" stroke="#e2605c" stroke-width="0.8"/>
<path d="M272.3,311.7L274.2,315.1L270.4,315.1Z" fill="none" stroke="#7890d4" stroke-width="0.8"/>
<circle cx="290.2" cy="318.6" r="1.6" fill="none" stroke="#e2605c" stroke-width="0.8"/>
<path d="M248.4,339.7L250.3,336.3L246.5,336.3Z" fill="none" stroke="#d9c94e" stroke-width="0.8"/>
<path d="M273.6,338.6L275.5,335.2L271.7,335.2Z" fill="none" stroke="#d9c94e" stroke-width="0.8"/>
<rect x="283.2" y="337.0" width="2.9" height="2.9" rx="0.9" fill="none" stroke="#5cb883" stroke-width="0.8"/>
<path d="M248.6,331.3L250.5,327.9L246.7,327.9Z" fill="none" stroke="#d9c94e" stroke-width="0.8"/>
<path d="M254.7,338.1L256.6,341.6L252.8,341.6Z" fill="none" stroke="#7890d4" stroke-width="0.8"/>
<rect x="279.4" y="326.9" width="2.9" height="2.9" rx="0.9" fill="none" stroke="#5cb883" stroke-width="0.8"/>
<circle cx="250.5" cy="338.4" r="1.6" fill="none" stroke="#e2605c" stroke-width="0.8"/>
<path d="M297.7,332.0L299.6,335.4L295.8,335.4Z" fill="none" stroke="#7890d4" stroke-width="0.8"/>
<path d="M290.0,316.3L291.9,312.9L288.1,312.9Z" fill="none" stroke="#d9c94e" stroke-width="0.8"/>
<path d="M274.7,318.0L276.6,321.4L272.8,321.4Z" fill="none" stroke="#7890d4" stroke-width="0.8"/>
<rect x="262.0" y="334.1" width="2.9" height="2.9" rx="0.9" fill="none" stroke="#5cb883" stroke-width="0.8"/>
<circle cx="263.1" cy="346.8" r="1.6" fill="none" stroke="#e2605c" stroke-width="0.8"/>
<rect x="280.8" y="341.2" width="2.9" height="2.9" rx="0.9" fill="none" stroke="#5cb883" stroke-width="0.8"/>
<circle cx="246.5" cy="348.5" r="1.6" fill="none" stroke="#e2605c" stroke-width="0.8"/>
<path d="M268.4,333.3L270.3,329.9L266.5,329.9Z" fill="none" stroke="#d9c94e" stroke-width="0.8"/>
<rect x="265.6" y="344.5" width="2.9" height="2.9" rx="0.9" fill="none" stroke="#5cb883" stroke-width="0.8"/>
<rect x="271.0" y="332.7" width="2.9" height="2.9" rx="0.9" fill="none" stroke="#5cb883" stroke-width="0.8"/>
<rect x="272.3" y="325.0" width="2.9" height="2.9" rx="0.9" fill="none" stroke="#5cb883" stroke-width="0.8"/>
<circle cx="260.9" cy="321.4" r="1.6" fill="none" stroke="#e2605c" stroke-width="0.8"/>
<rect x="288.5" y="331.1" width="2.9" height="2.9" rx="0.9" fill="none" stroke="#5cb883" stroke-width="0.8"/>
<path d="M282.7,338.3L284.6,341.7L280.8,341.7Z" fill="none" stroke="#7890d4" stroke-width="0.8"/>
<path d="M243.1,338.3L245.0,334.8L241.2,334.8Z" fill="none" stroke="#d9c94e" stroke-width="0.8"/>
<circle cx="304.0" cy="318.4" r="1.6" fill="none" stroke="#e2605c" stroke-width="0.8"/>
<circle cx="273.3" cy="333.5" r="1.6" fill="none" stroke="#e2605c" stroke-width="0.8"/>
<rect x="284.7" y="323.4" width="2.9" height="2.9" rx="0.9" fill="none" stroke="#5cb883" stroke-width="0.8"/>
<circle cx="276.8" cy="351.2" r="1.6" fill="none" stroke="#e2605c" stroke-width="0.8"/>
<path d="M245.8,350.9L247.7,347.5L243.9,347.5Z" fill="none" stroke="#d9c94e" stroke-width="0.8"/>
<circle cx="279.9" cy="340.0" r="1.6" fill="none" stroke="#e2605c" stroke-width="0.8"/>
<rect x="269.7" y="332.0" width="2.9" height="2.9" rx="0.9" fill="none" stroke="#5cb883" stroke-width="0.8"/>
<path d="M287.4,317.3L289.3,320.7L285.5,320.7Z" fill="none" stroke="#7890d4" stroke-width="0.8"/>
<path d="M309.9,333.1L311.8,336.5L308.0,336.5Z" fill="none" stroke="#7890d4" stroke-width="0.8"/>
<circle cx="251.4" cy="328.0" r="1.6" fill="none" stroke="#e2605c" stroke-width="0.8"/>
<circle cx="261.2" cy="323.5" r="1.6" fill="none" stroke="#e2605c" stroke-width="0.8"/>
<path d="M282.7,324.0L284.6,327.5L280.8,327.5Z" fill="none" stroke="#7890d4" stroke-width="0.8"/>
<circle cx="243.8" cy="344.8" r="1.6" fill="none" stroke="#e2605c" stroke-width="0.8"/>
<rect x="249.3" y="348.6" width="2.9" height="2.9" rx="0.9" fill="none" stroke="#5cb883" stroke-width="0.8"/>
<rect x="294.4" y="326.9" width="2.9" height="2.9" rx="0.9" fill="none" stroke="#5cb883" stroke-width="0.8"/>
<circle cx="248.3" cy="353.8" r="1.6" fill="none" stroke="#e2605c" stroke-width="0.8"/>
<path d="M259.7,332.0L261.6,335.4L257.8,335.4Z" fill="none" stroke="#7890d4" stroke-width="0.8"/>
<circle cx="252.0" cy="327.8" r="1.6" fill="none" stroke="#e2605c" stroke-width="0.8"/>
<path d="M266.6,328.1L268.5,331.5L264.7,331.5Z" fill="none" stroke="#7890d4" stroke-width="0.8"/>
<circle cx="291.0" cy="329.7" r="1.6" fill="none" stroke="#e2605c" stroke-width="0.8"/>
<circle cx="299.3" cy="312.0" r="1.6" fill="none" stroke="#e2605c" stroke-width="0.8"/>
<path d="M264.2,344.6L266.1,341.1L262.3,341.1Z" fill="none" stroke="#d9c94e" stroke-width="0.8"/>
<rect x="258.0" y="336.8" width="2.9" height="2.9" rx="0.9" fill="none" stroke="#5cb883" stroke-width="0.8"/>
<path d="M269.4,343.2L271.3,339.8L267.5,339.8Z" fill="none" stroke="#d9c94e" stroke-width="0.8"/>
<path d="M280.1,319.8L282.0,323.3L278.2,323.3Z" fill="none" stroke="#7890d4" stroke-width="0.8"/>
<circle cx="266.2" cy="341.1" r="1.6" fill="none" stroke="#e2605c" stroke-width="0.8"/>
<path d="M281.7,314.6L283.6,318.0L279.8,318.0Z" fill="none" stroke="#7890d4" stroke-width="0.8"/>
<circle cx="293.9" cy="332.5" r="1.6" fill="none" stroke="#e2605c" stroke-width="0.8"/>
<circle cx="279.5" cy="325.6" r="1.6" fill="none" stroke="#e2605c" stroke-width="0.8"/>
<circle cx="282.5" cy="326.2" r="1.6" fill="none" stroke="#e2605c" stroke-width="0.8"/>
<circle cx="298.3" cy="329.2" r="1.6" fill="none" stroke="#e2605c" stroke-width="0.8"/>
<path d="M269.8,349.2L271.7,345.8L267.9,345.8Z" fill="none" stroke="#d9c94e" stroke-width="0.8"/>
<path d="M279.2,327.3L281.1,323.9L277.3,323.9Z" fill="none" stroke="#d9c94e" stroke-width="0.8"/>
<path d="M267.6,338.6L269.5,342.0L265.7,342.0Z" fill="none" stroke="#7890d4" stroke-width="0.8"/>
<path d="M283.9,312.5L285.8,309.0L282.0,309.0Z" fill="none" stroke="#d9c94e" stroke-width="0.8"/>
<path d="M265.7,336.8L267.6,340.2L263.8,340.2Z" fill="none" stroke="#7890d4" stroke-width="0.8"/>
<path d="M270.8,339.3L272.7,342.7L268.9,342.7Z" fill="none" stroke="#7890d4" stroke-width="0.8"/>
<circle cx="274.2" cy="324.2" r="1.6" fill="none" stroke="#e2605c" stroke-width="0.8"/>
<rect x="290.7" y="331.9" width="2.9" height="2.9" rx="0.9" fill="none" stroke="#5cb883" stroke-width="0.8"/>
<rect x="301.5" y="311.0" width="2.9" height="2.9" rx="0.9" fill="none" stroke="#5cb883" stroke-width="0.8"/>
<rect x="287.7" y="346.0" width="2.9" height="2.9" rx="0.9" fill="none" stroke="#5cb883" stroke-width="0.8"/>
<circle cx="240.3" cy="353.2" r="1.6" fill="none" stroke="#e2605c" stroke-width="0.8"/>
<circle cx="260.2" cy="352.0" r="1.6" fill="none" stroke="#e2605c" stroke-width="0.8"/>
<rect x="306.0" y="317.8" width="2.9" height="2.9" rx="0.9" fill="none" stroke="#5cb883" stroke-width="0.8"/>
<circle cx="281.9" cy="344.1" r="1.6" fill="none" stroke="#e2605c" stroke-width="0.8"/>
<rect x="227.7" y="354.8" width="2.9" height="2.9" rx="0.9" fill="none" stroke="#5cb883" stroke-width="0.8"/>
<path d="M311.8,319.7L313.7,323.2L309.9,323.2Z" fill="none" stroke="#7890d4" stroke-width="0.8"/>
<path d="M259.6,362.3L261.5,358.9L257.7,358.9Z" fill="none" stroke="#d9c94e" stroke-width="0.8"/>
<path d="M266.6,350.3L268.5,346.9L264.7,346.9Z" fill="none" stroke="#d9c94e" stroke-width="0.8"/>
<circle cx="317.4" cy="313.8" r="1.6" fill="none" stroke="#e2605c" stroke-width="0.8"/>
<path d="M264.1,338.2L266.0,334.8L262.2,334.8Z" fill="none" stroke="#d9c94e" stroke-width="0.8"/>
<path d="M239.2,351.2L241.1,354.6L237.3,354.6Z" fill="none" stroke="#7890d4" stroke-width="0.8"/>
<rect x="280.5" y="325.6" width="2.9" height="2.9" rx="0.9" fill="none" stroke="#5cb883" stroke-width="0.8"/>
<circle cx="245.0" cy="362.7" r="1.6" fill="none" stroke="#e2605c" stroke-width="0.8"/>
<circle cx="274.4" cy="341.1" r="1.6" fill="none" stroke="#e2605c" stroke-width="0.8"/>
<path d="M281.5,328.3L283.4,331.8L279.6,331.8Z" fill="none" stroke="#7890d4" stroke-width="0.8"/>
<rect x="264.8" y="348.8" width="2.9" height="2.9" rx="0.9" fill="none" stroke="#5cb883" stroke-width="0.8"/>
<circle cx="319.1" cy="307.1" r="1.6" fill="none" stroke="#e2605c" stroke-width="0.8"/>
<circle cx="255.8" cy="341.0" r="1.6" fill="none" stroke="#e2605c" stroke-width="0.8"/>
<path d="M299.1,328.5L301.0,325.1L297.2,325.1Z" fill="none" stroke="#d9c94e" stroke-width="0.8"/>
<circle cx="312.4" cy="315.4" r="1.6" fill="none" stroke="#e2605c" stroke-width="0.8"/>
<path d="M268.1,334.4L270.0,337.8L266.2,337.8Z" fill="none" stroke="#7890d4" stroke-width="0.8"/>
<path d="M292.1,343.4L294.0,340.0L290.2,340.0Z" fill="none" stroke="#d9c94e" stroke-width="0.8"/>
<circle cx="287.6" cy="329.1" r="1.6" fill="none" stroke="#e2605c" stroke-width="0.8"/>
<circle cx="261.7" cy="341.8" r="1.6" fill="none" stroke="#e2605c" stroke-width="0.8"/>
<rect x="285.5" y="316.4" width="2.9" height="2.9" rx="0.9" fill="none" stroke="#5cb883" stroke-width="0.8"/>
<path d="M279.9,328.2L281.8,324.8L278.0,324.8Z" fill="none" stroke="#d9c94e" stroke-width="0.8"/>
<path d="M259.2,344.1L261.1,347.5L257.3,347.5Z" fill="none" stroke="#7890d4" stroke-width="0.8"/>
<rect x="271.2" y="331.9" width="2.9" height="2.9" rx="0.9" fill="none" stroke="#5cb883" stroke-width="0.8"/>
<rect x="262.5" y="324.0" width="2.9" height="2.9" rx="0.9" fill="none" stroke="#5cb883" stroke-width="0.8"/>
<circle cx="300.4" cy="312.4" r="1.6" fill="none" stroke="#e2605c" stroke-width="0.8"/>
<circle cx="251.3" cy="339.6" r="1.6" fill="none" stroke="#e2605c" stroke-width="0.8"/>
<rect x="245.2" y="329.9" width="2.9" height="2.9" rx="0.9" fill="none" stroke="#5cb883" stroke-width="0.8"/>
<path d="M291.3,328.4L293.2,331.8L289.4,331.8Z" fill="none" stroke="#7890d4" stroke-width="0.8"/>
<rect x="296.4" y="326.0" width="2.9" height="2.9" rx="0.9" fill="none" stroke="#5cb883" stroke-width="0.8"/>
<path d="M262.4,340.7L264.3,344.2L260.5,344.2Z" fill="none" stroke="#7890d4" stroke-width="0.8"/>
<rect x="251.2" y="336.9" width="2.9" height="2.9" rx="0.9" fill="none" stroke="#5cb883" stroke-width="0.8"/>
<circle cx="247.5" cy="338.9" r="1.6" fill="none" stroke="#e2605c" stroke-width="0.8"/>
<circle cx="265.4" cy="337.2" r="1.6" fill="none" stroke="#e2605c" stroke-width="0.8"/>
<rect x="287.6" y="331.4" width="2.9" height="2.9" rx="0.9" fill="none" stroke="#5cb883" stroke-width="0.8"/>
<path d="M262.9,340.2L264.8,336.8L261.0,336.8Z" fill="none" stroke="#d9c94e" stroke-width="0.8"/>
<rect x="254.2" y="345.7" width="2.9" height="2.9" rx="0.9" fill="none" stroke="#5cb883" stroke-width="0.8"/>
<circle cx="294.9" cy="332.0" r="1.6" fill="none" stroke="#e2605c" stroke-width="0.8"/>
<path d="M300.1,329.9L302.0,326.5L298.2,326.5Z" fill="none" stroke="#d9c94e" stroke-width="0.8"/>
<circle cx="283.2" cy="317.4" r="1.6" fill="none" stroke="#e2605c" stroke-width="0.8"/>
<path d="M279.5,330.3L281.4,326.9L277.6,326.9Z" fill="none" stroke="#d9c94e" stroke-width="0.8"/>
<rect x="297.5" y="325.1" width="2.9" height="2.9" rx="0.9" fill="none" stroke="#5cb883" stroke-width="0.8"/>
<circle cx="277.9" cy="336.0" r="1.6" fill="none" stroke="#e2605c" stroke-width="0.8"/>
<rect x="237.1" y="347.6" width="2.9" height="2.9" rx="0.9" fill="none" stroke="#5cb883" stroke-width="0.8"/>
<rect x="276.1" y="345.3" width="2.9" height="2.9" rx="0.9" fill="none" stroke="#5cb883" stroke-width="0.8"/>
<circle cx="277.8" cy="332.5" r="1.6" fill="none" stroke="#e2605c" stroke-width="0.8"/>
<rect x="245.4" y="352.6" width="2.9" height="2.9" rx="0.9" fill="none" stroke="#5cb883" stroke-width="0.8"/>
<path d="M247.2,340.4L249.1,343.8L245.3,343.8Z" fill="none" stroke="#7890d4" stroke-width="0.8"/>
<circle cx="248.5" cy="342.4" r="1.6" fill="none" stroke="#e2605c" stroke-width="0.8"/>
<path d="M294.3,323.6L296.2,320.2L292.4,320.2Z" fill="none" stroke="#d9c94e" stroke-width="0.8"/>
<path d="M271.3,320.3L273.2,323.7L269.4,323.7Z" fill="none" stroke="#7890d4" stroke-width="0.8"/>
<path d="M261.1,340.5L263.0,343.9L259.2,343.9Z" fill="none" stroke="#7890d4" stroke-width="0.8"/>
<circle cx="296.3" cy="333.6" r="1.6" fill="none" stroke="#e2605c" stroke-width="0.8"/>
<path d="M296.4,315.6L298.3,319.0L294.5,319.0Z" fill="none" stroke="#7890d4" stroke-width="0.8"/>
<path d="M270.6,345.7L272.5,342.2L268.7,342.2Z" fill="none" stroke="#d9c94e" stroke-width="0.8"/>
<circle cx="242.1" cy="340.5" r="1.6" fill="none" stroke="#e2605c" stroke-width="0.8"/>
<path d="M318.2,332.0L320.1,335.4L316.3,335.4Z" fill="none" stroke="#7890d4" stroke-width="0.8"/>
<path d="M248.6,340.0L250.5,336.6L246.7,336.6Z" fill="none" stroke="#d9c94e" stroke-width="0.8"/>
<circle cx="268.4" cy="359.8" r="1.6" fill="none" stroke="#e2605c" stroke-width="0.8"/>
<circle cx="284.1" cy="344.2" r="1.6" fill="none" stroke="#e2605c" stroke-width="0.8"/>
<path d="M248.8,349.8L250.7,346.4L246.9,346.4Z" fill="none" stroke="#d9c94e" stroke-width="0.8"/>
<circle cx="277.7" cy="324.4" r="1.6" fill="none" stroke="#e2605c" stroke-width="0.8"/>
<circle cx="268.7" cy="338.0" r="1.6" fill="none" stroke="#e2605c" stroke-width="0.8"/>
<circle cx="279.2" cy="341.6" r="1.6" fill="none" stroke="#e2605c" stroke-width="0.8"/>
<path d="M259.1,344.6L261.0,348.0L257.2,348.0Z" fill="none" stroke="#7890d4" stroke-width="0.8"/>
<circle cx="256.5" cy="344.2" r="1.6" fill="none" stroke="#e2605c" stroke-width="0.8"/>
<rect x="274.4" y="328.3" width="2.9" height="2.9" rx="0.9" fill="none" stroke="#5cb883" stroke-width="0.8"/>
<circle cx="273.7" cy="330.5" r="1.6" fill="none" stroke="#e2605c" stroke-width="0.8"/>
<path d="M284.3,342.4L286.2,345.8L282.4,345.8Z" fill="none" stroke="#7890d4" stroke-width="0.8"/>
<rect x="268.8" y="322.7" width="2.9" height="2.9" rx="0.9" fill="none" stroke="#5cb883" stroke-width="0.8"/>
<path d="M307.3,313.6L309.2,317.0L305.4,317.0Z" fill="none" stroke="#7890d4" stroke-width="0.8"/>
<path d="M278.8,342.5L280.7,339.1L276.9,339.1Z" fill="none" stroke="#d9c94e" stroke-width="0.8"/>
<circle cx="261.0" cy="343.3" r="1.6" fill="none" stroke="#e2605c" stroke-width="0.8"/>
<path d="M305.8,312.3L307.7,315.7L303.9,315.7Z" fill="none" stroke="#7890d4" stroke-width="0.8"/>
<path d="M279.4,337.0L281.3,333.6L277.5,333.6Z" fill="none" stroke="#d9c94e" stroke-width="0.8"/>
<path d="M282.6,318.5L284.5,315.1L280.7,315.1Z" fill="none" stroke="#d9c94e" stroke-width="0.8"/>
<path d="M279.1,336.3L281.0,332.9L277.2,332.9Z" fill="none" stroke="#d9c94e" stroke-width="0.8"/>
<path d="M283.9,330.4L285.8,327.0L282.0,327.0Z" fill="none" stroke="#d9c94e" stroke-width="0.8"/>
<rect x="278.2" y="326.3" width="2.9" height="2.9" rx="0.9" fill="none" stroke="#5cb883" stroke-width="0.8"/>
<path d="M315.0,308.8L316.9,305.4L313.1,305.4Z" fill="none" stroke="#d9c94e" stroke-width="0.8"/>
<circle cx="311.6" cy="319.5" r="1.6" fill="none" stroke="#e2605c" stroke-width="0.8"/>
<path d="M261.8,338.7L263.7,335.3L259.9,335.3Z" fill="none" stroke="#d9c94e" stroke-width="0.8"/>
<path d="M288.5,333.4L290.4,329.9L286.6,329.9Z" fill="none" stroke="#d9c94e" stroke-width="0.8"/>
<path d="M283.2,336.7L285.1,333.3L281.3,333.3Z" fill="none" stroke="#d9c94e" stroke-width="0.8"/>
<rect x="293.8" y="311.5" width="2.9" height="2.9" rx="0.9" fill="none" stroke="#5cb883" stroke-width="0.8"/>
<path d="M273.3,336.6L275.2,340.0L271.4,340.0Z" fill="none" stroke="#7890d4" stroke-width="0.8"/>
<rect x="274.5" y="338.0" width="2.9" height="2.9" rx="0.9" fill="none" stroke="#5cb883" stroke-width="0.8"/>
<path d="M278.0,339.8L279.9,336.4L276.1,336.4Z" fill="none" stroke="#d9c94e" stroke-width="0.8"/>
<path d="M275.9,336.2L277.8,332.8L274.0,332.8Z" fill="none" stroke="#d9c94e" stroke-width="0.8"/>
<rect x="245.4" y="353.7" width="2.9" height="2.9" rx="0.9" fill="none" stroke="#5cb883" stroke-width="0.8"/>
<path d="M270.4,346.1L272.3,342.6L268.5,342.6Z" fill="none" stroke="#d9c94e" stroke-width="0.8"/>
<circle cx="280.2" cy="327.0" r="1.6" fill="none" stroke="#e2605c" stroke-width="0.8"/>
<circle cx="266.1" cy="334.1" r="1.6" fill="none" stroke="#e2605c" stroke-width="0.8"/>
<circle cx="255.8" cy="337.2" r="1.6" fill="none" stroke="#e2605c" stroke-width="0.8"/>
<circle cx="292.6" cy="333.1" r="1.6" fill="none" stroke="#e2605c" stroke-width="0.8"/>
<circle cx="299.4" cy="326.0" r="1.6" fill="none" stroke="#e2605c" stroke-width="0.8"/>
<rect x="256.4" y="315.2" width="2.9" height="2.9" rx="0.9" fill="none" stroke="#5cb883" stroke-width="0.8"/>
<rect x="262.8" y="338.2" width="2.9" height="2.9" rx="0.9" fill="none" stroke="#5cb883" stroke-width="0.8"/>
<circle cx="285.5" cy="334.5" r="1.6" fill="none" stroke="#e2605c" stroke-width="0.8"/>
<rect x="269.1" y="325.5" width="2.9" height="2.9" rx="0.9" fill="none" stroke="#5cb883" stroke-width="0.8"/>
<rect x="279.9" y="327.3" width="2.9" height="2.9" rx="0.9" fill="none" stroke="#5cb883" stroke-width="0.8"/>
<path d="M265.2,336.4L267.1,333.0L263.3,333.0Z" fill="none" stroke="#d9c94e" stroke-width="0.8"/>
<path d="M278.7,329.2L280.6,325.7L276.8,325.7Z" fill="none" stroke="#d9c94e" stroke-width="0.8"/>
<rect x="279.9" y="341.9" width="2.9" height="2.9" rx="0.9" fill="none" stroke="#5cb883" stroke-width="0.8"/>
<circle cx="296.3" cy="307.1" r="1.6" fill="none" stroke="#e2605c" stroke-width="0.8"/>
<circle cx="229.8" cy="340.7" r="1.6" fill="none" stroke="#e2605c" stroke-width="0.8"/>
<path d="M292.4,306.8L294.3,303.4L290.5,303.4Z" fill="none" stroke="#d9c94e" stroke-width="0.8"/>
<path d="M300.2,321.2L302.1,324.7L298.3,324.7Z" fill="none" stroke="#7890d4" stroke-width="0.8"/>
<path d="M300.0,325.6L301.9,322.2L298.1,322.2Z" fill="none" stroke="#d9c94e" stroke-width="0.8"/>
<circle cx="278.7" cy="332.7" r="1.6" fill="none" stroke="#e2605c" stroke-width="0.8"/>
<circle cx="256.5" cy="334.5" r="1.6" fill="none" stroke="#e2605c" stroke-width="0.8"/>
<path d="M263.4,341.6L265.3,345.1L261.5,345.1Z" fill="none" stroke="#7890d4" stroke-width="0.8"/>
<rect x="294.2" y="312.2" width="2.9" height="2.9" rx="0.9" fill="none" stroke="#5cb883" stroke-width="0.8"/>
<rect x="284.9" y="333.7" width="2.9" height="2.9" rx="0.9" fill="none" stroke="#5cb883" stroke-width="0.8"/>
<path d="M294.7,333.0L296.6,329.5L292.8,329.5Z" fill="none" stroke="#d9c94e" stroke-width="0.8"/>
<path d="M265.8,325.7L267.7,329.1L263.9,329.1Z" fill="none" stroke="#7890d4" stroke-width="0.8"/>
<circle cx="287.3" cy="334.1" r="1.6" fill="none" stroke="#e2605c" stroke-width="0.8"/>
<path d="M280.4,328.7L282.3,325.3L278.5,325.3Z" fill="none" stroke="#d9c94e" stroke-width="0.8"/>
<path d="M282.8,326.4L284.7,329.8L280.9,329.8Z" fill="none" stroke="#7890d4" stroke-width="0.8"/>
<circle cx="296.6" cy="335.1" r="1.6" fill="none" stroke="#e2605c" stroke-width="0.8"/>
<path d="M270.7,337.7L272.6,341.1L268.8,341.1Z" fill="none" stroke="#7890d4" stroke-width="0.8"/>
<rect x="269.2" y="322.7" width="2.9" height="2.9" rx="0.9" fill="none" stroke="#5cb883" stroke-width="0.8"/>
<circle cx="288.5" cy="326.2" r="1.6" fill="none" stroke="#e2605c" stroke-width="0.8"/>
<circle cx="279.5" cy="339.9" r="1.6" fill="none" stroke="#e2605c" stroke-width="0.8"/>
<circle cx="267.1" cy="348.5" r="1.6" fill="none" stroke="#e2605c" stroke-width="0.8"/>
<rect x="252.2" y="346.8" width="2.9" height="2.9" rx="0.9" fill="none" stroke="#5cb883" stroke-width="0.8"/>
<circle cx="268.8" cy="346.2" r="1.6" fill="none" stroke="#e2605c" stroke-width="0.8"/>
<path d="M290.5,313.0L292.4,316.4L288.6,316.4Z" fill="none" stroke="#7890d4" stroke-width="0.8"/>
<path d="M239.4,340.9L241.3,344.3L237.5,344.3Z" fill="none" stroke="#7890d4" stroke-width="0.8"/>
<rect x="267.5" y="319.5" width="2.9" height="2.9" rx="0.9" fill="none" stroke="#5cb883" stroke-width="0.8"/>
<path d="M279.6,333.7L281.5,330.3L277.7,330.3Z" fill="none" stroke="#d9c94e" stroke-width="0.8"/>
<rect x="230.5" y="351.1" width="2.9" height="2.9" rx="0.9" fill="none" stroke="#5cb883" stroke-width="0.8"/>
<circle cx="280.1" cy="325.9" r="1.6" fill="none" stroke="#e2605c" stroke-width="0.8"/>
<path d="M287.5,327.5L289.4,324.1L285.6,324.1Z" fill="none" stroke="#d9c94e" stroke-width="0.8"/>
<path d="M252.7,345.4L254.6,348.8L250.8,348.8Z" fill="none" stroke="#7890d4" stroke-width="0.8"/>
<path d="M297.6,331.3L299.5,327.9L295.7,327.9Z" fill="none" stroke="#d9c94e" stroke-width="0.8"/>
<path d="M285.5,328.1L287.4,331.5L283.6,331.5Z" fill="none" stroke="#7890d4" stroke-width="0.8"/>
<circle cx="268.6" cy="341.7" r="1.6" fill="none" stroke="#e2605c" stroke-width="0.8"/>
<rect x="250.7" y="328.7" width="2.9" height="2.9" rx="0.9" fill="none" stroke="#5cb883" stroke-width="0.8"/>
<rect x="283.3" y="340.8" width="2.9" height="2.9" rx="0.9" fill="none" stroke="#5cb883" stroke-width="0.8"/>
<circle cx="293.4" cy="332.6" r="1.6" fill="none" stroke="#e2605c" stroke-width="0.8"/>
<path d="M259.8,338.0L261.7,334.6L257.9,334.6Z" fill="none" stroke="#d9c94e" stroke-width="0.8"/>
<path d="M282.6,336.5L284.5,339.9L280.7,339.9Z" fill="none" stroke="#7890d4" stroke-width="0.8"/>
<path d="M320.6,311.0L322.5,314.4L318.7,314.4Z" fill="none" stroke="#7890d4" stroke-width="0.8"/>
<circle cx="290.7" cy="323.1" r="1.6" fill="none" stroke="#e2605c" stroke-width="0.8"/>
<rect x="295.2" y="330.5" width="2.9" height="2.9" rx="0.9" fill="none" stroke="#5cb883" stroke-width="0.8"/>
<path d="M275.5,329.6L277.4,333.1L273.6,333.1Z" fill="none" stroke="#7890d4" stroke-width="0.8"/>
<circle cx="257.2" cy="330.7" r="1.6" fill="none" stroke="#e2605c" stroke-width="0.8"/>
<path d="M263.4,337.0L265.3,333.6L261.5,333.6Z" fill="none" stroke="#d9c94e" stroke-width="0.8"/>
<circle cx="278.3" cy="337.8" r="1.6" fill="none" stroke="#e2605c" stroke-width="0.8"/>
<rect x="325.1" y="306.1" width="2.9" height="2.9" rx="0.9" fill="none" stroke="#5cb883" stroke-width="0.8"/>
<path d="M284.6,335.1L286.5,331.6L282.7,331.6Z" fill="none" stroke="#d9c94e" stroke-width="0.8"/>
<path d="M293.4,322.6L295.3,319.2L291.5,319.2Z" fill="none" stroke="#d9c94e" stroke-width="0.8"/>
<circle cx="277.2" cy="337.7" r="1.6" fill="none" stroke="#e2605c" stroke-width="0.8"/>
<rect x="291.3" y="336.1" width="2.9" height="2.9" rx="0.9" fill="none" stroke="#5cb883" stroke-width="0.8"/>
<circle cx="296.8" cy="308.2" r="1.6" fill="none" stroke="#e2605c" stroke-width="0.8"/>
<path d="M270.7,338.7L272.6,342.1L268.8,342.1Z" fill="none" stroke="#7890d4" stroke-width="0.8"/>
<rect x="303.5" y="320.0" width="2.9" height="2.9" rx="0.9" fill="none" stroke="#5cb883" stroke-width="0.8"/>
<circle cx="269.9" cy="328.1" r="1.6" fill="none" stroke="#e2605c" stroke-width="0.8"/>
<rect x="277.5" y="331.4" width="2.9" height="2.9" rx="0.9" fill="none" stroke="#5cb883" stroke-width="0.8"/>
<circle cx="269.9" cy="334.3" r="1.6" fill="none" stroke="#e2605c" stroke-width="0.8"/>
<circle cx="293.0" cy="324.0" r="1.6" fill="none" stroke="#e2605c" stroke-width="0.8"/>
<circle cx="246.4" cy="345.5" r="1.6" fill="none" stroke="#e2605c" stroke-width="0.8"/>
<circle cx="285.3" cy="337.9" r="1.6" fill="none" stroke="#e2605c" stroke-width="0.8"/>
<circle cx="278.5" cy="326.0" r="1.6" fill="none" stroke="#e2605c" stroke-width="0.8"/>
<rect x="242.2" y="352.6" width="2.9" height="2.9" rx="0.9" fill="none" stroke="#5cb883" stroke-width="0.8"/>
<circle cx="278.5" cy="334.1" r="1.6" fill="none" stroke="#e2605c" stroke-width="0.8"/>
<path d="M278.6,322.2L280.5,325.7L276.7,325.7Z" fill="none" stroke="#7890d4" stroke-width="0.8"/>
<circle cx="263.8" cy="345.5" r="1.6" fill="none" stroke="#e2605c" stroke-width="0.8"/>
<circle cx="287.5" cy="326.0" r="1.6" fill="none" stroke="#e2605c" stroke-width="0.8"/>
<rect x="302.6" y="325.6" width="2.9" height="2.9" rx="0.9" fill="none" stroke="#5cb883" stroke-width="0.8"/>
<circle cx="295.9" cy="334.8" r="1.6" fill="none" stroke="#e2605c" stroke-width="0.8"/>
<rect x="278.1" y="322.8" width="2.9" height="2.9" rx="0.9" fill="none" stroke="#5cb883" stroke-width="0.8"/>
<path d="M283.3,333.2L285.2,329.7L281.4,329.7Z" fill="none" stroke="#d9c94e" stroke-width="0.8"/>
<circle cx="295.7" cy="317.6" r="1.6" fill="none" stroke="#e2605c" stroke-width="0.8"/>
<rect x="267.1" y="348.0" width="2.9" height="2.9" rx="0.9" fill="none" stroke="#5cb883" stroke-width="0.8"/>
<path d="M293.6,340.4L295.5,337.0L291.7,337.0Z" fill="none" stroke="#d9c94e" stroke-width="0.8"/>
<circle cx="286.7" cy="339.3" r="1.6" fill="none" stroke="#e2605c" stroke-width="0.8"/>
<circle cx="268.6" cy="328.1" r="1.6" fill="none" stroke="#e2605c" stroke-width="0.8"/>
<path d="M326.5,321.7L328.4,318.3L324.6,318.3Z" fill="none" stroke="#d9c94e" stroke-width="0.8"/>
<rect x="269.8" y="336.2" width="2.9" height="2.9" rx="0.9" fill="none" stroke="#5cb883" stroke-width="0.8"/>
<rect x="322.8" y="312.9" width="2.9" height="2.9" rx="0.9" fill="none" stroke="#5cb883" stroke-width="0.8"/>
<circle cx="288.3" cy="334.4" r="1.6" fill="none" stroke="#e2605c" stroke-width="0.8"/>
<path d="M264.6,338.0L266.5,334.6L262.7,334.6Z" fill="none" stroke="#d9c94e" stroke-width="0.8"/>
<circle cx="279.8" cy="330.6" r="1.6" fill="none" stroke="#e2605c" stroke-width="0.8"/>
<path d="M259.2,346.5L261.1,343.1L257.3,343.1Z" fill="none" stroke="#d9c94e" stroke-width="0.8"/>
<path d="M226.7,359.4L228.6,355.9L224.8,355.9Z" fill="none" stroke="#d9c94e" stroke-width="0.8"/>
<circle cx="295.1" cy="314.9" r="1.6" fill="none" stroke="#e2605c" stroke-width="0.8"/>
<path d="M296.3,345.1L298.2,341.7L294.4,341.7Z" fill="none" stroke="#d9c94e" stroke-width="0.8"/>
<circle cx="250.2" cy="329.3" r="1.6" fill="none" stroke="#e2605c" stroke-width="0.8"/>
<circle cx="298.0" cy="315.0" r="1.6" fill="none" stroke="#e2605c" stroke-width="0.8"/>
<circle cx="275.0" cy="343.4" r="1.6" fill="none" stroke="#e2605c" stroke-width="0.8"/>
<circle cx="258.8" cy="347.3" r="1.6" fill="none" stroke="#e2605c" stroke-width="0.8"/>
<rect x="271.7" y="322.1" width="2.9" height="2.9" rx="0.9" fill="none" stroke="#5cb883" stroke-width="0.8"/>
<path d="M274.5,337.2L276.4,333.7L272.6,333.7Z" fill="none" stroke="#d9c94e" stroke-width="0.8"/>
<circle cx="265.4" cy="342.4" r="1.6" fill="none" stroke="#e2605c" stroke-width="0.8"/>
<path d="M291.4,343.8L293.3,347.2L289.5,347.2Z" fill="none" stroke="#7890d4" stroke-width="0.8"/>
<circle cx="285.0" cy="330.3" r="1.6" fill="none" stroke="#e2605c" stroke-width="0.8"/>
<path d="M277.6,336.8L279.5,333.4L275.7,333.4Z" fill="none" stroke="#d9c94e" stroke-width="0.8"/>
<path d="M274.3,330.6L276.2,334.1L272.4,334.1Z" fill="none" stroke="#7890d4" stroke-width="0.8"/>
<path d="M272.4,324.7L274.3,321.3L270.5,321.3Z" fill="none" stroke="#d9c94e" stroke-width="0.8"/>
<path d="M271.9,333.5L273.8,337.0L270.0,337.0Z" fill="none" stroke="#7890d4" stroke-width="0.8"/>
<path d="M271.5,334.2L273.4,330.7L269.6,330.7Z" fill="none" stroke="#d9c94e" stroke-width="0.8"/>
<circle cx="274.4" cy="333.7" r="1.6" fill="none" stroke="#e2605c" stroke-width="0.8"/>
<rect x="254.9" y="347.8" width="2.9" height="2.9" rx="0.9" fill="none" stroke="#5cb883" stroke-width="0.8"/>
<path d="M288.3,322.6L290.2,326.0L286.4,326.0Z" fill="none" stroke="#7890d4" stroke-width="0.8"/>
<circle cx="278.3" cy="336.9" r="1.6" fill="none" stroke="#e2605c" stroke-width="0.8"/>
<rect x="279.7" y="312.3" width="2.9" height="2.9" rx="0.9" fill="none" stroke="#5cb883" stroke-width="0.8"/>
<circle cx="288.9" cy="343.9" r="1.6" fill="none" stroke="#e2605c" stroke-width="0.8"/>
<path d="M288.9,328.8L290.8,325.4L287.0,325.4Z" fill="none" stroke="#d9c94e" stroke-width="0.8"/>
<circle cx="267.1" cy="324.6" r="1.6" fill="none" stroke="#e2605c" stroke-width="0.8"/>
<path d="M283.5,324.5L285.4,321.1L281.6,321.1Z" fill="none" stroke="#d9c94e" stroke-width="0.8"/>
<path d="M251.5,338.3L253.4,341.8L249.6,341.8Z" fill="none" stroke="#7890d4" stroke-width="0.8"/>
<circle cx="272.4" cy="328.8" r="1.6" fill="none" stroke="#e2605c" stroke-width="0.8"/>
<path d="M288.7,308.0L290.6,311.4L286.8,311.4Z" fill="none" stroke="#7890d4" stroke-width="0.8"/>
<circle cx="325.0" cy="320.9" r="1.6" fill="none" stroke="#e2605c" stroke-width="0.8"/>
<rect x="288.2" y="329.6" width="2.9" height="2.9" rx="0.9" fill="none" stroke="#5cb883" stroke-width="0.8"/>
<circle cx="247.0" cy="356.9" r="1.6" fill="none" stroke="#e2605c" stroke-width="0.8"/>
<circle cx="284.7" cy="344.4" r="1.6" fill="none" stroke="#e2605c" stroke-width="0.8"/>
<circle cx="248.6" cy="335.1" r="1.6" fill="none" stroke="#e2605c" stroke-width="0.8"/>
<path d="M317.6,309.1L319.5,312.5L315.7,312.5Z" fill="none" stroke="#7890d4" stroke-width="0.8"/>
<rect x="279.7" y="329.7" width="2.9" height="2.9" rx="0.9" fill="none" stroke="#5cb883" stroke-width="0.8"/>
<path d="M282.0,336.3L283.9,332.8L280.1,332.8Z" fill="none" stroke="#d9c94e" stroke-width="0.8"/>
<path d="M264.8,340.1L266.7,343.5L262.9,343.5Z" fill="none" stroke="#7890d4" stroke-width="0.8"/>
<rect x="270.8" y="340.8" width="2.9" height="2.9" rx="0.9" fill="none" stroke="#5cb883" stroke-width="0.8"/>
<rect x="302.8" y="325.0" width="2.9" height="2.9" rx="0.9" fill="none" stroke="#5cb883" stroke-width="0.8"/>
<circle cx="289.5" cy="321.7" r="1.6" fill="none" stroke="#e2605c" stroke-width="0.8"/>
<rect x="282.6" y="310.0" width="2.9" height="2.9" rx="0.9" fill="none" stroke="#5cb883" stroke-width="0.8"/>
<path d="M281.5,322.7L283.4,326.1L279.6,326.1Z" fill="none" stroke="#7890d4" stroke-width="0.8"/>
<circle cx="265.0" cy="334.5" r="1.6" fill="none" stroke="#e2605c" stroke-width="0.8"/>
<rect x="262.0" y="330.4" width="2.9" height="2.9" rx="0.9" fill="none" stroke="#5cb883" stroke-width="0.8"/>
<path d="M280.9,337.1L282.8,340.5L279.0,340.5Z" fill="none" stroke="#7890d4" stroke-width="0.8"/>
<rect x="294.3" y="326.2" width="2.9" height="2.9" rx="0.9" fill="none" stroke="#5cb883" stroke-width="0.8"/>
<path d="M261.1,351.0L263.0,354.5L259.2,354.5Z" fill="none" stroke="#7890d4" stroke-width="0.8"/>
<circle cx="268.1" cy="328.4" r="1.6" fill="none" stroke="#e2605c" stroke-width="0.8"/>
<rect x="303.5" y="336.7" width="2.9" height="2.9" rx="0.9" fill="none" stroke="#5cb883" stroke-width="0.8"/>
<path d="M272.0,349.2L273.9,352.6L270.1,352.6Z" fill="none" stroke="#7890d4" stroke-width="0.8"/>
<rect x="260.5" y="329.8" width="2.9" height="2.9" rx="0.9" fill="none" stroke="#5cb883" stroke-width="0.8"/>
<circle cx="296.0" cy="313.1" r="1.6" fill="none" stroke="#e2605c" stroke-width="0.8"/>
<circle cx="300.0" cy="331.6" r="1.6" fill="none" stroke="#e2605c" stroke-width="0.8"/>
<path d="M283.5,331.4L285.4,327.9L281.6,327.9Z" fill="none" stroke="#d9c94e" stroke-width="0.8"/>
<rect x="266.5" y="338.6" width="2.9" height="2.9" rx="0.9" fill="none" stroke="#5cb883" stroke-width="0.8"/>
<path d="M264.1,352.2L266.0,355.6L262.2,355.6Z" fill="none" stroke="#7890d4" stroke-width="0.8"/>
<rect x="282.3" y="340.1" width="2.9" height="2.9" rx="0.9" fill="none" stroke="#5cb883" stroke-width="0.8"/>
<path d="M246.8,336.0L248.7,339.5L244.9,339.5Z" fill="none" stroke="#7890d4" stroke-width="0.8"/>
<path d="M267.7,350.5L269.6,347.1L265.8,347.1Z" fill="none" stroke="#d9c94e" stroke-width="0.8"/>
<rect x="269.1" y="333.2" width="2.9" height="2.9" rx="0.9" fill="none" stroke="#5cb883" stroke-width="0.8"/>
<path d="M299.7,320.2L301.6,323.6L297.8,323.6Z" fill="none" stroke="#7890d4" stroke-width="0.8"/>
<path d="M296.3,337.9L298.2,334.5L294.4,334.5Z" fill="none" stroke="#d9c94e" stroke-width="0.8"/>
<path d="M251.6,342.2L253.5,345.6L249.7,345.6Z" fill="none" stroke="#7890d4" stroke-width="0.8"/>
<path d="M261.9,344.6L263.8,348.0L260.0,348.0Z" fill="none" stroke="#7890d4" stroke-width="0.8"/>
<circle cx="264.8" cy="331.3" r="1.6" fill="none" stroke="#e2605c" stroke-width="0.8"/>
<rect x="268.5" y="316.7" width="2.9" height="2.9" rx="0.9" fill="none" stroke="#5cb883" stroke-width="0.8"/>
<path d="M257.0,322.7L258.9,326.1L255.1,326.1Z" fill="none" stroke="#7890d4" stroke-width="0.8"/>
<circle cx="234.0" cy="346.6" r="1.6" fill="none" stroke="#e2605c" stroke-width="0.8"/>
<path d="M288.7,331.5L290.6,328.1L286.8,328.1Z" fill="none" stroke="#d9c94e" stroke-width="0.8"/>
<rect x="292.7" y="317.7" width="2.9" height="2.9" rx="0.9" fill="none" stroke="#5cb883" stroke-width="0.8"/>
<path d="M278.4,352.9L280.3,349.4L276.5,349.4Z" fill="none" stroke="#d9c94e" stroke-width="0.8"/>
<path d="M273.0,330.5L274.9,334.0L271.1,334.0Z" fill="none" stroke="#7890d4" stroke-width="0.8"/>
<circle cx="258.9" cy="347.5" r="1.6" fill="none" stroke="#e2605c" stroke-width="0.8"/>
<path d="M266.0,341.9L267.9,338.5L264.1,338.5Z" fill="none" stroke="#d9c94e" stroke-width="0.8"/>
<circle cx="238.8" cy="334.2" r="1.6" fill="none" stroke="#e2605c" stroke-width="0.8"/>
<path d="M301.2,325.0L303.1,321.5L299.3,321.5Z" fill="none" stroke="#d9c94e" stroke-width="0.8"/>
<path d="M297.5,307.4L299.4,310.8L295.6,310.8Z" fill="none" stroke="#7890d4" stroke-width="0.8"/>
<path d="M310.9,307.2L312.8,310.6L309.0,310.6Z" fill="none" stroke="#7890d4" stroke-width="0.8"/>
<circle cx="303.3" cy="335.6" r="1.6" fill="none" stroke="#e2605c" stroke-width="0.8"/>
<path d="M253.0,332.1L254.9,335.6L251.1,335.6Z" fill="none" stroke="#7890d4" stroke-width="0.8"/>
<path d="M284.2,335.2L286.1,338.6L282.3,338.6Z" fill="none" stroke="#7890d4" stroke-width="0.8"/>
<rect x="251.1" y="332.4" width="2.9" height="2.9" rx="0.9" fill="none" stroke="#5cb883" stroke-width="0.8"/>
<path d="M251.2,327.9L253.1,324.5L249.3,324.5Z" fill="none" stroke="#d9c94e" stroke-width="0.8"/>
<circle cx="292.0" cy="306.4" r="1.6" fill="none" stroke="#e2605c" stroke-width="0.8"/>
<rect x="237.5" y="338.0" width="2.9" height="2.9" rx="0.9" fill="none" stroke="#5cb883" stroke-width="0.8"/>
<rect x="278.3" y="339.3" width="2.9" height="2.9" rx="0.9" fill="none" stroke="#5cb883" stroke-width="0.8"/>
<circle cx="269.2" cy="329.5" r="1.6" fill="none" stroke="#e2605c" stroke-width="0.8"/>
<circle cx="280.1" cy="339.5" r="1.6" fill="none" stroke="#e2605c" stroke-width="0.8"/>
<rect x="292.0" y="315.6" width="2.9" height="2.9" rx="0.9" fill="none" stroke="#5cb883" stroke-width="0.8"/>
<circle cx="282.1" cy="319.6" r="1.6" fill="none" stroke="#e2605c" stroke-width="0.8"/>
<circle cx="261.2" cy="328.0" r="1.6" fill="none" stroke="#e2605c" stroke-width="0.8"/>
<rect x="297.5" y="335.1" width="2.9" height="2.9" rx="0.9" fill="none" stroke="#5cb883" stroke-width="0.8"/>
<path d="M261.8,323.4L263.7,320.0L259.9,320.0Z" fill="none" stroke="#d9c94e" stroke-width="0.8"/>
<circle cx="259.9" cy="330.9" r="1.6" fill="none" stroke="#e2605c" stroke-width="0.8"/>
<path d="M258.2,323.3L260.1,326.7L256.3,326.7Z" fill="none" stroke="#7890d4" stroke-width="0.8"/>
<path d="M258.4,335.1L260.3,331.6L256.5,331.6Z" fill="none" stroke="#d9c94e" stroke-width="0.8"/>
<path d="M263.4,349.9L265.3,353.4L261.5,353.4Z" fill="none" stroke="#7890d4" stroke-width="0.8"/>
<circle cx="306.8" cy="311.1" r="1.6" fill="none" stroke="#e2605c" stroke-width="0.8"/>
<path d="M268.8,340.1L270.7,343.5L266.9,343.5Z" fill="none" stroke="#7890d4" stroke-width="0.8"/>
<rect x="229.1" y="346.7" width="2.9" height="2.9" rx="0.9" fill="none" stroke="#5cb883" stroke-width="0.8"/>
<rect x="286.1" y="325.3" width="2.9" height="2.9" rx="0.9" fill="none" stroke="#5cb883" stroke-width="0.8"/>
<rect x="246.8" y="343.3" width="2.9" height="2.9" rx="0.9" fill="none" stroke="#5cb883" stroke-width="0.8"/>
<path d="M274.7,328.4L276.6,325.0L272.8,325.0Z" fill="none" stroke="#d9c94e" stroke-width="0.8"/>
<path d="M268.8,328.9L270.7,332.4L266.9,332.4Z" fill="none" stroke="#7890d4" stroke-width="0.8"/>
<path d="M297.4,316.9L299.3,320.4L295.5,320.4Z" fill="none" stroke="#7890d4" stroke-width="0.8"/>
<path d="M263.1,354.5L265.0,351.0L261.2,351.0Z" fill="none" stroke="#d9c94e" stroke-width="0.8"/>
<circle cx="238.9" cy="349.8" r="1.6" fill="none" stroke="#e2605c" stroke-width="0.8"/>
<path d="M291.4,334.0L293.3,330.6L289.5,330.6Z" fill="none" stroke="#d9c94e" stroke-width="0.8"/>
<circle cx="257.9" cy="321.1" r="1.6" fill="none" stroke="#e2605c" stroke-width="0.8"/>
<circle cx="271.6" cy="340.5" r="1.6" fill="none" stroke="#e2605c" stroke-width="0.8"/>
<path d="M270.1,334.9L272.0,331.4L268.2,331.4Z" fill="none" stroke="#d9c94e" stroke-width="0.8"/>
<circle cx="321.1" cy="309.2" r="1.6" fill="none" stroke="#e2605c" stroke-width="0.8"/>
<circle cx="275.0" cy="332.1" r="1.6" fill="none" stroke="#e2605c" stroke-width="0.8"/>
<circle cx="298.7" cy="317.9" r="1.6" fill="none" stroke="#e2605c" stroke-width="0.8"/>
<circle cx="283.7" cy="327.9" r="1.6" fill="none" stroke="#e2605c" stroke-width="0.8"/>
<circle cx="250.2" cy="359.2" r="1.6" fill="none" stroke="#e2605c" stroke-width="0.8"/>
<circle cx="262.1" cy="336.1" r="1.6" fill="none" stroke="#e2605c" stroke-width="0.8"/>
<rect x="252.0" y="351.2" width="2.9" height="2.9" rx="0.9" fill="none" stroke="#5cb883" stroke-width="0.8"/>
<path d="M259.0,328.9L260.9,325.5L257.1,325.5Z" fill="none" stroke="#d9c94e" stroke-width="0.8"/>
<path d="M231.1,371.2L233.0,374.6L229.2,374.6Z" fill="none" stroke="#7890d4" stroke-width="0.8"/>
<circle cx="289.2" cy="340.9" r="1.6" fill="none" stroke="#e2605c" stroke-width="0.8"/>
<path d="M266.3,330.8L268.2,327.4L264.4,327.4Z" fill="none" stroke="#d9c94e" stroke-width="0.8"/>
<rect x="267.8" y="341.3" width="2.9" height="2.9" rx="0.9" fill="none" stroke="#5cb883" stroke-width="0.8"/>
<path d="M227.4,366.2L229.3,362.8L225.5,362.8Z" fill="none" stroke="#d9c94e" stroke-width="0.8"/>
<path d="M272.1,328.2L274.0,331.6L270.2,331.6Z" fill="none" stroke="#7890d4" stroke-width="0.8"/>
<path d="M302.4,307.5L304.3,311.0L300.5,311.0Z" fill="none" stroke="#7890d4" stroke-width="0.8"/>
<path d="M256.9,339.1L258.8,335.7L255.0,335.7Z" fill="none" stroke="#d9c94e" stroke-width="0.8"/>
<circle cx="300.3" cy="323.8" r="1.6" fill="none" stroke="#e2605c" stroke-width="0.8"/>
<rect x="285.6" y="329.9" width="2.9" height="2.9" rx="0.9" fill="none" stroke="#5cb883" stroke-width="0.8"/>
<circle cx="245.8" cy="350.8" r="1.6" fill="none" stroke="#e2605c" stroke-width="0.8"/>
<circle cx="280.0" cy="338.4" r="1.6" fill="none" stroke="#e2605c" stroke-width="0.8"/>
<rect x="285.8" y="318.6" width="2.9" height="2.9" rx="0.9" fill="none" stroke="#5cb883" stroke-width="0.8"/>
<circle cx="282.2" cy="325.3" r="1.6" fill="none" stroke="#e2605c" stroke-width="0.8"/>
<path d="M258.0,348.1L259.9,351.5L256.1,351.5Z" fill="none" stroke="#7890d4" stroke-width="0.8"/>
<rect x="237.7" y="351.3" width="2.9" height="2.9" rx="0.9" fill="none" stroke="#5cb883" stroke-width="0.8"/>
<path d="M252.9,344.8L254.8,348.2L251.0,348.2Z" fill="none" stroke="#7890d4" stroke-width="0.8"/>
<path d="M271.6,340.0L273.5,343.4L269.7,343.4Z" fill="none" stroke="#7890d4" stroke-width="0.8"/>
<circle cx="252.4" cy="326.6" r="1.6" fill="none" stroke="#e2605c" stroke-width="0.8"/>
<path d="M274.6,320.2L276.5,323.6L272.7,323.6Z" fill="none" stroke="#7890d4" stroke-width="0.8"/>
<rect x="259.4" y="349.6" width="2.9" height="2.9" rx="0.9" fill="none" stroke="#5cb883" stroke-width="0.8"/>
<path d="M245.7,349.6L247.6,353.0L243.8,353.0Z" fill="none" stroke="#7890d4" stroke-width="0.8"/>
<path d="M291.8,334.8L293.7,338.2L289.9,338.2Z" fill="none" stroke="#7890d4" stroke-width="0.8"/>
<circle cx="278.6" cy="341.0" r="1.6" fill="none" stroke="#e2605c" stroke-width="0.8"/>
<path d="M272.4,328.9L274.3,325.5L270.5,325.5Z" fill="none" stroke="#d9c94e" stroke-width="0.8"/>
<rect x="274.7" y="330.6" width="2.9" height="2.9" rx="0.9" fill="none" stroke="#5cb883" stroke-width="0.8"/>
<rect x="286.7" y="334.0" width="2.9" height="2.9" rx="0.9" fill="none" stroke="#5cb883" stroke-width="0.8"/>
<circle cx="270.4" cy="330.6" r="1.6" fill="none" stroke="#e2605c" stroke-width="0.8"/>
<path d="M297.1,325.8L299.0,329.2L295.2,329.2Z" fill="none" stroke="#7890d4" stroke-width="0.8"/>
<circle cx="278.6" cy="322.0" r="1.6" fill="none" stroke="#e2605c" stroke-width="0.8"/>
<path d="M280.9,316.6L282.8,320.0L279.0,320.0Z" fill="none" stroke="#7890d4" stroke-width="0.8"/>
<circle cx="283.4" cy="315.2" r="1.6" fill="none" stroke="#e2605c" stroke-width="0.8"/>
<circle cx="275.3" cy="342.3" r="1.6" fill="none" stroke="#e2605c" stroke-width="0.8"/>
<rect x="264.7" y="323.9" width="2.9" height="2.9" rx="0.9" fill="none" stroke="#5cb883" stroke-width="0.8"/>
<circle cx="259.5" cy="342.8" r="1.6" fill="none" stroke="#e2605c" stroke-width="0.8"/>
<path d="M262.4,339.5L264.3,342.9L260.5,342.9Z" fill="none" stroke="#7890d4" stroke-width="0.8"/>
<circle cx="281.7" cy="343.3" r="1.6" fill="none" stroke="#e2605c" stroke-width="0.8"/>
<path d="M287.8,323.3L289.7,319.9L285.9,319.9Z" fill="none" stroke="#d9c94e" stroke-width="0.8"/>
<circle cx="297.3" cy="326.4" r="1.6" fill="none" stroke="#e2605c" stroke-width="0.8"/>
<circle cx="305.5" cy="311.3" r="1.6" fill="none" stroke="#e2605c" stroke-width="0.8"/>
<circle cx="290.1" cy="317.3" r="1.6" fill="none" stroke="#e2605c" stroke-width="0.8"/>
<path d="M232.2,336.2L234.1,332.8L230.3,332.8Z" fill="none" stroke="#d9c94e" stroke-width="0.8"/>
<circle cx="282.1" cy="328.7" r="1.6" fill="none" stroke="#e2605c" stroke-width="0.8"/>
<path d="M310.8,300.4L312.7,303.8L308.9,303.8Z" fill="none" stroke="#7890d4" stroke-width="0.8"/>
<rect x="282.1" y="332.5" width="2.9" height="2.9" rx="0.9" fill="none" stroke="#5cb883" stroke-width="0.8"/>
<circle cx="233.7" cy="355.1" r="1.6" fill="none" stroke="#e2605c" stroke-width="0.8"/>
<circle cx="297.5" cy="334.6" r="1.6" fill="none" stroke="#e2605c" stroke-width="0.8"/>
<circle cx="313.5" cy="316.2" r="1.6" fill="none" stroke="#e2605c" stroke-width="0.8"/>
<path d="M274.3,348.3L276.2,351.7L272.4,351.7Z" fill="none" stroke="#7890d4" stroke-width="0.8"/>
<circle cx="292.6" cy="327.6" r="1.6" fill="none" stroke="#e2605c" stroke-width="0.8"/>
<path d="M276.3,334.5L278.2,331.1L274.4,331.1Z" fill="none" stroke="#d9c94e" stroke-width="0.8"/>
<path d="M297.7,341.7L299.6,345.1L295.8,345.1Z" fill="none" stroke="#7890d4" stroke-width="0.8"/>
<circle cx="254.5" cy="332.6" r="1.6" fill="none" stroke="#e2605c" stroke-width="0.8"/>
<path d="M266.6,325.4L268.5,328.8L264.7,328.8Z" fill="none" stroke="#7890d4" stroke-width="0.8"/>
<circle cx="301.7" cy="316.2" r="1.6" fill="none" stroke="#e2605c" stroke-width="0.8"/>
<rect x="269.9" y="329.1" width="2.9" height="2.9" rx="0.9" fill="none" stroke="#5cb883" stroke-width="0.8"/>
<circle cx="249.9" cy="320.9" r="1.6" fill="none" stroke="#e2605c" stroke-width="0.8"/>
<rect x="272.3" y="338.4" width="2.9" height="2.9" rx="0.9" fill="none" stroke="#5cb883" stroke-width="0.8"/>
<rect x="249.9" y="341.7" width="2.9" height="2.9" rx="0.9" fill="none" stroke="#5cb883" stroke-width="0.8"/>
<rect x="234.4" y="345.9" width="2.9" height="2.9" rx="0.9" fill="none" stroke="#5cb883" stroke-width="0.8"/>
<circle cx="280.7" cy="326.8" r="1.6" fill="none" stroke="#e2605c" stroke-width="0.8"/>
<rect x="278.2" y="321.9" width="2.9" height="2.9" rx="0.9" fill="none" stroke="#5cb883" stroke-width="0.8"/>
<path d="M255.2,350.7L257.1,354.2L253.3,354.2Z" fill="none" stroke="#7890d4" stroke-width="0.8"/>
<path d="M286.8,314.9L288.7,318.3L284.9,318.3Z" fill="none" stroke="#7890d4" stroke-width="0.8"/>
<rect x="252.3" y="340.2" width="2.9" height="2.9" rx="0.9" fill="none" stroke="#5cb883" stroke-width="0.8"/>
<path d="M299.2,332.1L301.1,328.7L297.3,328.7Z" fill="none" stroke="#d9c94e" stroke-width="0.8"/>
<path d="M261.9,328.0L263.8,331.4L260.0,331.4Z" fill="none" stroke="#7890d4" stroke-width="0.8"/>
<circle cx="264.9" cy="350.2" r="1.6" fill="none" stroke="#e2605c" stroke-width="0.8"/>
<rect x="294.7" y="337.4" width="2.9" height="2.9" rx="0.9" fill="none" stroke="#5cb883" stroke-width="0.8"/>
<circle cx="291.8" cy="316.3" r="1.6" fill="none" stroke="#e2605c" stroke-width="0.8"/>
<path d="M300.0,332.1L301.9,335.5L298.1,335.5Z" fill="none" stroke="#7890d4" stroke-width="0.8"/>
<path d="M265.0,339.7L266.9,336.3L263.1,336.3Z" fill="none" stroke="#d9c94e" stroke-width="0.8"/>
<circle cx="298.4" cy="322.1" r="1.6" fill="none" stroke="#e2605c" stroke-width="0.8"/>
<circle cx="260.3" cy="347.5" r="1.6" fill="none" stroke="#e2605c" stroke-width="0.8"/>
<circle cx="293.8" cy="322.8" r="1.6" fill="none" stroke="#e2605c" stroke-width="0.8"/>
<path d="M278.4,346.6L280.3,343.2L276.5,343.2Z" fill="none" stroke="#d9c94e" stroke-width="0.8"/>
<path d="M282.5,330.1L284.4,333.6L280.6,333.6Z" fill="none" stroke="#7890d4" stroke-width="0.8"/>
<rect x="253.5" y="350.3" width="2.9" height="2.9" rx="0.9" fill="none" stroke="#5cb883" stroke-width="0.8"/>
<rect x="253.6" y="318.2" width="2.9" height="2.9" rx="0.9" fill="none" stroke="#5cb883" stroke-width="0.8"/>
<path d="M307.6,307.3L309.5,310.7L305.7,310.7Z" fill="none" stroke="#7890d4" stroke-width="0.8"/>
<path d="M292.3,311.0L294.2,307.6L290.4,307.6Z" fill="none" stroke="#d9c94e" stroke-width="0.8"/>
<rect x="273.0" y="321.3" width="2.9" height="2.9" rx="0.9" fill="none" stroke="#5cb883" stroke-width="0.8"/>
<circle cx="300.2" cy="314.2" r="1.6" fill="none" stroke="#e2605c" stroke-width="0.8"/>
<path d="M286.8,328.7L288.7,332.1L284.9,332.1Z" fill="none" stroke="#7890d4" stroke-width="0.8"/>
<path d="M284.7,331.2L286.6,327.8L282.8,327.8Z" fill="none" stroke="#d9c94e" stroke-width="0.8"/>
<path d="M262.9,329.6L264.8,333.0L261.0,333.0Z" fill="none" stroke="#7890d4" stroke-width="0.8"/>
<rect x="283.4" y="315.5" width="2.9" height="2.9" rx="0.9" fill="none" stroke="#5cb883" stroke-width="0.8"/>
<circle cx="291.6" cy="325.3" r="1.6" fill="none" stroke="#e2605c" stroke-width="0.8"/>
<line x1="210.0" y1="351.6" x2="352.4" y2="304.9" stroke="#4a6bc0" stroke-width="1.3"/>
<line x1="210.0" y1="352.4" x2="352.4" y2="305.8" stroke="#3aab5a" stroke-width="1.3"/>
<line x1="210.0" y1="351.0" x2="352.4" y2="304.0" stroke="#dccd2e" stroke-width="1.3"/>
<line x1="210.0" y1="349.2" x2="352.4" y2="308.9" stroke="#d42a2e" stroke-width="1.3"/>
</g>
<path d="M210.0,279.2H352.4V369.1" fill="none" stroke="#858585" stroke-width="1"/>
<path d="M210.0,279.2V369.1H352.4" fill="none" stroke="#6a6a6a" stroke-width="1"/>
<line x1="206.0" y1="284.4" x2="210.0" y2="284.4" stroke="#6a6a6a" stroke-width="1"/>
<text transform="translate(203.60,287.80) scale(1.0,1.08)" font-size="9.6" text-anchor="end" fill="#151515" stroke="#151515" stroke-width="0.32" font-weight="normal">4.0</text>
<line x1="206.0" y1="304.5" x2="210.0" y2="304.5" stroke="#6a6a6a" stroke-width="1"/>
<text transform="translate(203.60,307.90) scale(1.0,1.08)" font-size="9.6" text-anchor="end" fill="#151515" stroke="#151515" stroke-width="0.32" font-weight="normal">3.0</text>
<line x1="206.0" y1="324.6" x2="210.0" y2="324.6" stroke="#6a6a6a" stroke-width="1"/>
<text transform="translate(203.60,328.00) scale(1.0,1.08)" font-size="9.6" text-anchor="end" fill="#151515" stroke="#151515" stroke-width="0.32" font-weight="normal">2.0</text>
<line x1="206.0" y1="344.6" x2="210.0" y2="344.6" stroke="#6a6a6a" stroke-width="1"/>
<text transform="translate(203.60,348.00) scale(1.0,1.08)" font-size="9.6" text-anchor="end" fill="#151515" stroke="#151515" stroke-width="0.32" font-weight="normal">1.0</text>
<line x1="206.0" y1="364.6" x2="210.0" y2="364.6" stroke="#6a6a6a" stroke-width="1"/>
<text transform="translate(203.60,368.00) scale(1.0,1.08)" font-size="9.6" text-anchor="end" fill="#151515" stroke="#151515" stroke-width="0.32" font-weight="normal">0.0</text>
<line x1="210.00" y1="369.1" x2="210.00" y2="373.1" stroke="#6a6a6a" stroke-width="1"/>
<text transform="translate(210.80,384.10) scale(1.0,1.08)" font-size="9.6" text-anchor="middle" fill="#151515" stroke="#151515" stroke-width="0.32" font-weight="normal">1.10</text>
<line x1="257.47" y1="369.1" x2="257.47" y2="373.1" stroke="#6a6a6a" stroke-width="1"/>
<text transform="translate(258.27,384.10) scale(1.0,1.08)" font-size="9.6" text-anchor="middle" fill="#151515" stroke="#151515" stroke-width="0.32" font-weight="normal">1.30</text>
<line x1="304.93" y1="369.1" x2="304.93" y2="373.1" stroke="#6a6a6a" stroke-width="1"/>
<text transform="translate(305.73,384.10) scale(1.0,1.08)" font-size="9.6" text-anchor="middle" fill="#151515" stroke="#151515" stroke-width="0.32" font-weight="normal">1.50</text>
<line x1="352.40" y1="369.1" x2="352.40" y2="373.1" stroke="#6a6a6a" stroke-width="1"/>
<text transform="translate(353.20,384.10) scale(1.0,1.08)" font-size="9.6" text-anchor="middle" fill="#151515" stroke="#151515" stroke-width="0.32" font-weight="normal">1.70</text>
<text transform="translate(279.90,395.00) scale(1.07,1.0)" font-size="10.0" text-anchor="middle" fill="#151515" stroke="#151515" stroke-width="0.32" font-weight="normal">BMI (log10)</text>
<text transform="translate(186.60,322.75) rotate(-90)" font-size="10.3" text-anchor="middle" fill="#151515" stroke="#151515" stroke-width="0.32">L/A ratio (log10)</text>
<text transform="translate(228.00,287.80) scale(1.0,1.0)" font-size="8.4" text-anchor="middle" fill="#111" stroke="#111" stroke-width="0.3" font-weight="normal">r=</text>
<text transform="translate(213.30,297.50) scale(1.0,1.0)" font-size="8.3" text-anchor="start" fill="#2a9e5a" stroke="#2a9e5a" stroke-width="0.12" font-weight="normal">0.60<tspan font-size="8.0">***</tspan></text>
<text transform="translate(213.30,305.95) scale(1.0,1.0)" font-size="8.3" text-anchor="start" fill="#e23a3e" stroke="#e23a3e" stroke-width="0.12" font-weight="normal">0.57<tspan font-size="8.0">***</tspan></text>
<text transform="translate(213.30,314.40) scale(1.0,1.0)" font-size="8.3" text-anchor="start" fill="#6d8dcc" stroke="#6d8dcc" stroke-width="0.12" font-weight="normal">0.68<tspan font-size="8.0">***</tspan></text>
<text transform="translate(213.30,322.85) scale(1.0,1.0)" font-size="8.3" text-anchor="start" fill="#d6cf3a" stroke="#d6cf3a" stroke-width="0.12" font-weight="normal">0.61<tspan font-size="8.0">***</tspan></text>
</svg>
</body></html>
